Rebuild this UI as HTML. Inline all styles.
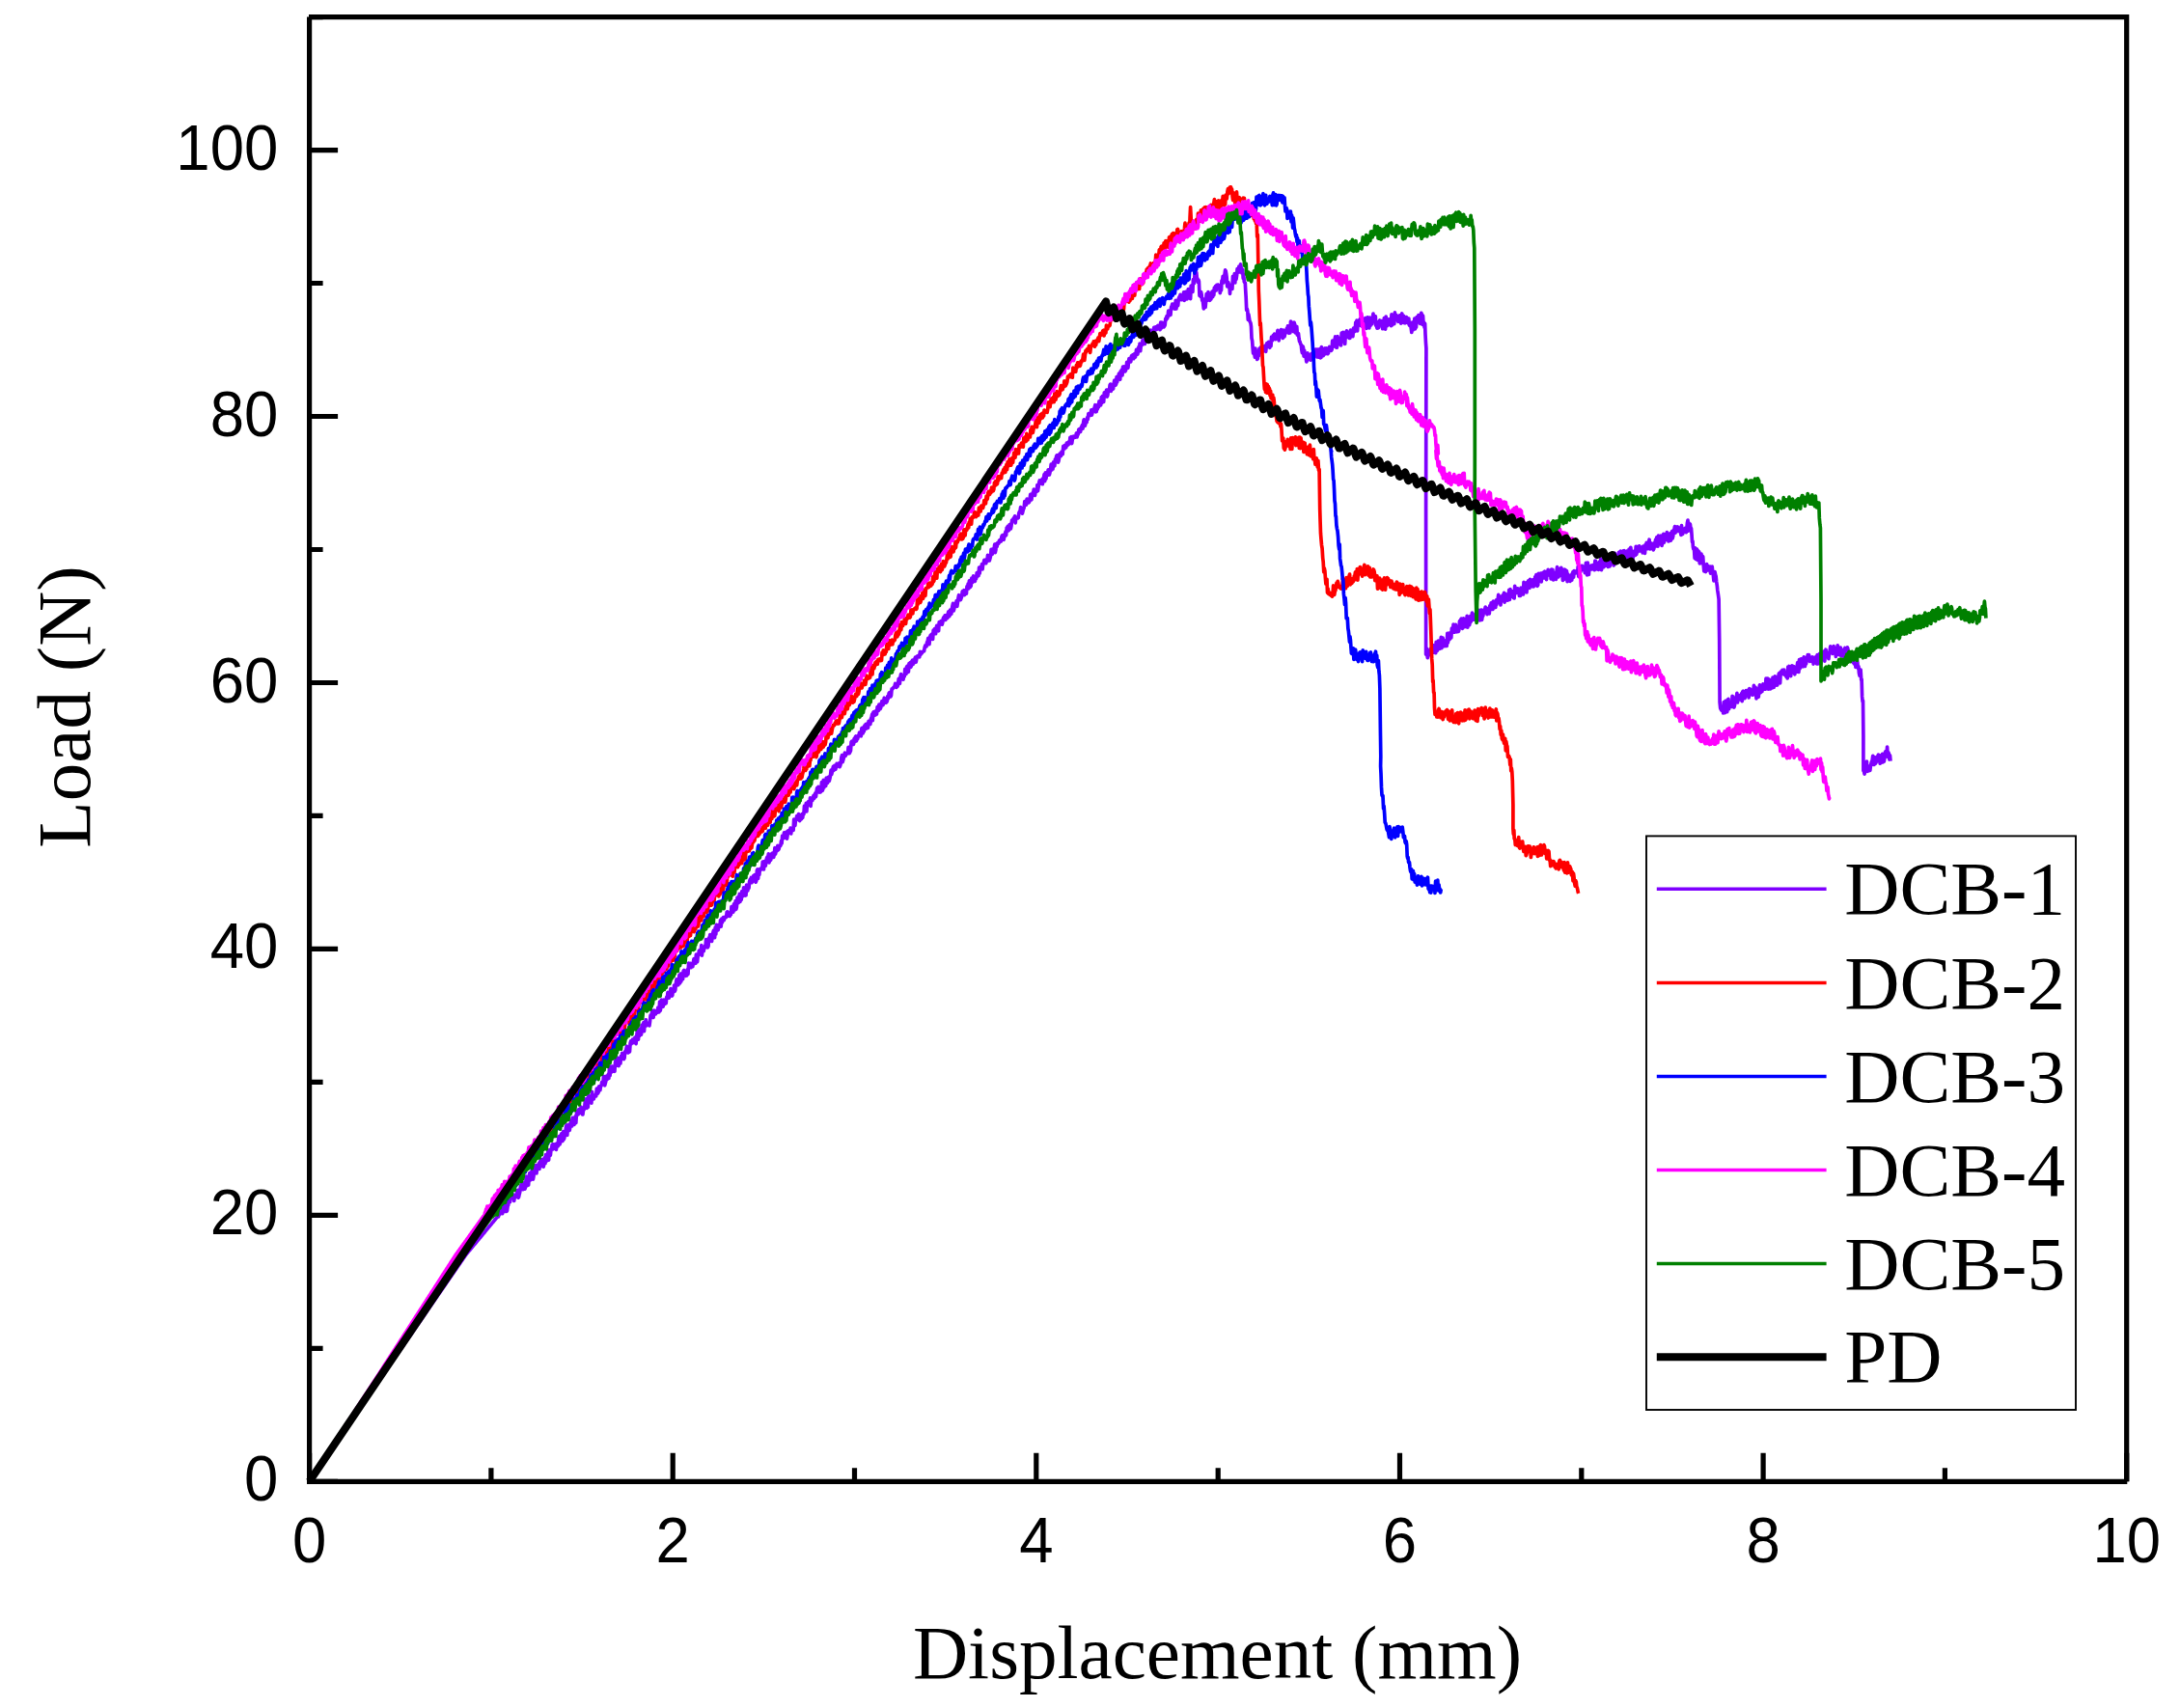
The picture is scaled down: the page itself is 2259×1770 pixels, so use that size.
<!DOCTYPE html>
<html lang="en">
<head>
<meta charset="utf-8">
<title>Load - Displacement curves (DCB-1 ... DCB-5, PD)</title>
<style>
html,body{margin:0;padding:0;background:#ffffff;}
body{width:2259px;height:1770px;overflow:hidden;}
svg{display:block;}
.tick{font-family:"Liberation Sans",sans-serif;font-size:63.5px;fill:#000;}
.serif{font-family:"Liberation Serif",serif;font-size:79.2px;fill:#000;}
.ax{stroke:#000;stroke-width:5.2;fill:none;stroke-linecap:butt;}
.tr{fill:none;stroke-width:3.7;stroke-linejoin:round;stroke-linecap:butt;}
</style>
</head>
<body>
<svg width="2259" height="1770" viewBox="0 0 2259 1770">
<rect x="0" y="0" width="2259" height="1770" fill="#ffffff"/>
<g id="traces">
<path class="tr" stroke="#7f00ff" d="M320.6 1535.3L321.2 1534.4L321.8 1533.6L322.4 1532.7L323.0 1531.8L323.6 1531.0L324.2 1530.1L324.8 1529.2L325.4 1528.4L326.0 1527.5L326.6 1526.6L327.2 1525.7L327.8 1524.9L328.4 1524.0L329.0 1523.1L329.6 1522.3L330.2 1521.4L330.8 1520.5L331.4 1519.7L332.0 1518.8L332.6 1517.9L333.2 1517.1L333.8 1516.2L334.4 1515.3L335.0 1514.5L335.6 1513.6L336.2 1512.7L336.8 1511.9L337.4 1511.0L338.0 1510.1L338.6 1509.3L339.2 1508.4L339.8 1507.5L340.4 1506.6L341.0 1505.8L341.6 1504.9L342.2 1504.0L342.8 1503.2L343.4 1502.3L344.0 1501.4L344.6 1500.6L345.2 1499.7L345.8 1498.8L346.4 1498.0L347.0 1497.1L347.6 1496.2L348.2 1495.4L348.8 1494.5L349.4 1493.6L350.0 1492.8L350.6 1491.9L351.2 1491.0L351.8 1490.2L352.4 1489.3L353.0 1488.4L353.6 1487.5L354.2 1486.7L354.8 1485.8L355.4 1484.9L356.0 1484.1L356.6 1483.2L357.2 1482.3L357.8 1481.5L358.4 1480.6L359.0 1479.7L359.6 1478.9L360.2 1478.0L360.8 1477.1L361.3 1476.3L361.9 1475.4L362.5 1474.5L363.1 1473.7L363.7 1472.8L364.3 1471.9L364.9 1471.0L365.5 1470.2L366.1 1469.3L366.7 1468.4L367.3 1467.6L367.9 1466.7L368.5 1465.8L369.1 1465.0L369.7 1464.1L370.3 1463.2L370.9 1462.4L371.5 1461.5L372.1 1460.6L372.7 1459.8L373.3 1458.9L373.9 1458.0L374.5 1457.2L375.1 1456.3L375.7 1455.4L376.3 1454.6L376.9 1453.7L377.5 1452.8L378.1 1451.9L378.7 1451.1L379.3 1450.2L379.9 1449.3L380.5 1448.5L381.1 1447.6L381.7 1446.7L382.3 1445.9L382.9 1445.0L383.5 1444.1L384.1 1443.3L384.7 1442.4L385.3 1441.5L385.9 1440.7L386.5 1439.8L387.1 1438.9L387.7 1438.1L388.3 1437.2L388.9 1436.3L389.5 1435.4L390.1 1434.6L390.7 1433.7L391.3 1432.8L391.9 1432.0L392.5 1431.1L393.1 1430.2L393.7 1429.4L394.3 1428.5L394.9 1427.6L395.5 1426.8L396.1 1425.9L396.7 1425.0L397.3 1424.2L397.9 1423.3L398.5 1422.4L399.1 1421.6L399.7 1420.7L400.3 1419.8L400.9 1419.0L401.5 1418.1L402.1 1417.2L402.7 1416.3L403.3 1415.5L403.9 1414.6L404.5 1413.7L405.1 1412.9L405.7 1412.0L406.3 1411.1L406.9 1410.3L407.5 1409.4L408.1 1408.5L408.7 1407.7L409.3 1406.8L409.9 1405.9L410.5 1405.1L411.1 1404.2L411.7 1403.3L412.3 1402.5L412.9 1401.6L413.5 1400.7L414.1 1399.9L414.7 1399.0L415.3 1398.1L415.9 1397.2L416.5 1396.4L417.1 1395.5L417.7 1394.6L418.3 1393.8L418.9 1392.9L419.5 1392.0L420.1 1391.2L420.7 1390.3L421.3 1389.4L421.9 1388.6L422.5 1387.7L423.1 1386.8L423.7 1386.0L424.3 1385.1L424.9 1384.2L425.5 1383.4L426.1 1382.5L426.7 1381.6L427.3 1380.7L427.9 1379.9L428.5 1379.0L429.1 1378.1L429.7 1377.3L430.3 1376.4L430.9 1375.5L431.5 1374.7L432.1 1373.8L432.7 1372.9L433.3 1372.1L433.9 1371.2L434.5 1370.3L435.1 1369.5L435.7 1368.6L436.3 1367.7L436.9 1366.9L437.5 1366.0L438.1 1365.1L438.7 1364.3L439.3 1363.4L439.9 1362.5L440.5 1361.6L441.1 1360.8L441.7 1359.9L442.3 1359.0L442.8 1358.2L443.4 1357.3L444.0 1356.4L444.6 1355.6L445.2 1354.7L445.8 1353.8L446.4 1353.0L447.0 1352.1L447.6 1351.2L448.2 1350.4L448.8 1349.5L449.4 1348.6L450.0 1347.8L450.6 1346.9L451.2 1346.0L451.8 1345.1L452.4 1344.3L453.0 1343.4L453.6 1342.5L454.2 1341.7L454.8 1340.8L455.4 1339.9L456.0 1339.1L456.6 1338.2L457.2 1337.3L457.8 1336.5L458.4 1335.6L459.0 1334.7L459.6 1333.9L460.2 1333.0L460.8 1332.1L461.4 1331.3L462.0 1330.4L462.6 1329.5L463.2 1328.7L463.8 1327.8L464.4 1326.9L465.0 1326.0L465.6 1325.2L466.2 1324.3L466.8 1323.4L467.4 1322.6L468.0 1321.7L468.6 1320.8L469.2 1320.0L469.8 1319.1L470.4 1318.2L471.0 1317.4L471.6 1316.5L472.2 1315.6L472.8 1314.8L473.4 1313.9L474.0 1313.0L474.6 1312.2L475.2 1311.3L475.8 1310.4L476.4 1309.6L477.0 1308.7L477.6 1307.8L478.2 1306.9L478.8 1306.1L479.4 1305.2L480.0 1304.3L480.6 1303.5L481.2 1302.6L481.8 1301.7L482.4 1300.9L483.0 1300.0L483.6 1299.3L484.2 1298.6L484.8 1297.8L485.4 1297.1L486.0 1296.4L486.6 1295.7L487.2 1295.0L487.8 1294.2L488.4 1293.5L489.0 1292.8L489.6 1292.1L490.2 1291.4L490.8 1290.6L491.4 1289.9L492.0 1289.2L492.6 1288.5L493.2 1287.8L493.8 1287.0L494.4 1286.3L495.0 1285.6L495.6 1284.9L496.2 1284.2L496.8 1283.4L497.4 1282.7L498.0 1282.0L498.6 1281.3L499.2 1280.6L499.8 1279.8L500.4 1279.1L501.0 1278.4L501.6 1277.7L502.2 1277.0L502.8 1276.2L503.3 1275.5L503.9 1274.8L504.5 1274.1L505.1 1273.4L505.7 1272.7L506.3 1271.9L506.9 1271.2L507.5 1270.5L508.1 1269.8L508.7 1269.1L509.3 1268.3L509.9 1267.6L510.5 1266.9L511.1 1266.2L511.7 1265.5L512.3 1264.7L512.9 1264.0L513.5 1263.3L514.1 1262.6L514.7 1261.9L515.3 1261.1L515.9 1260.5L516.5 1260.8L517.1 1258.9L517.7 1258.3L518.3 1258.0L518.9 1254.7L519.5 1256.2L520.1 1256.5L520.7 1257.6L521.3 1249.4L521.9 1250.9L522.5 1247.6L523.1 1255.5L523.7 1253.4L524.3 1244.8L524.9 1255.4L525.5 1254.5L526.1 1250.0L526.7 1248.8L527.3 1242.6L527.9 1240.2L528.5 1245.6L529.1 1239.3L529.7 1240.1L530.3 1240.0L530.9 1236.8L531.5 1241.3L532.1 1240.3L532.7 1244.4L533.3 1239.8L533.9 1240.5L534.5 1238.1L535.1 1239.3L535.7 1236.2L536.3 1233.3L536.9 1241.2L537.5 1240.5L538.1 1237.9L538.7 1235.6L539.3 1230.1L539.9 1228.4L540.5 1228.4L541.1 1225.0L541.7 1232.7L542.2 1227.6L542.8 1232.2L543.4 1225.9L544.0 1232.1L544.6 1230.0L545.2 1219.2L545.8 1220.9L546.4 1228.6L547.0 1222.6L547.6 1228.0L548.2 1220.3L548.8 1215.7L549.4 1221.7L550.0 1222.7L550.6 1215.9L551.2 1213.0L551.8 1215.2L552.4 1222.1L553.0 1218.9L553.6 1210.5L554.2 1211.3L554.8 1208.8L555.4 1207.6L556.0 1215.8L556.6 1207.6L557.2 1211.5L557.8 1209.4L558.4 1205.6L559.0 1211.4L559.6 1203.5L560.2 1208.9L560.8 1201.8L561.4 1204.8L562.0 1201.6L562.6 1201.4L563.2 1209.1L563.8 1206.2L564.4 1199.5L565.0 1205.6L565.6 1196.7L566.2 1198.1L566.8 1202.9L567.4 1199.5L568.0 1192.2L568.6 1202.1L569.2 1192.0L569.8 1191.7L570.4 1197.1L571.0 1191.0L571.6 1189.8L572.2 1186.3L572.8 1185.7L573.4 1190.8L574.0 1186.0L574.6 1189.5L575.2 1185.9L575.8 1186.1L576.4 1191.4L577.0 1184.9L577.6 1185.2L578.2 1187.9L578.8 1178.9L579.4 1177.7L580.0 1186.0L580.6 1184.1L581.2 1176.5L581.8 1175.0L582.4 1180.8L583.0 1182.4L583.6 1172.6L584.2 1180.9L584.8 1179.3L585.4 1175.1L586.0 1172.2L586.6 1167.5L587.2 1166.0L587.8 1176.3L588.4 1166.8L589.0 1171.6L589.6 1165.4L590.2 1171.4L590.8 1167.9L591.4 1163.4L592.0 1161.2L592.6 1167.0L593.2 1158.3L593.8 1159.5L594.4 1162.6L595.0 1165.4L595.6 1161.7L596.2 1156.9L596.8 1163.7L597.4 1154.4L598.0 1151.3L598.6 1153.6L599.2 1154.9L599.8 1149.5L600.4 1150.1L600.9 1151.6L601.5 1153.2L602.1 1147.1L602.7 1149.1L603.3 1154.7L603.9 1154.9L604.5 1150.2L605.1 1149.9L605.7 1147.8L606.3 1141.7L606.9 1139.6L607.5 1138.6L608.1 1148.5L608.7 1145.2L609.3 1147.5L609.9 1135.4L610.5 1142.0L611.1 1139.4L611.7 1141.6L612.3 1135.8L612.9 1143.2L613.5 1131.3L614.1 1136.2L614.7 1137.6L615.3 1138.8L615.9 1136.1L616.5 1134.9L617.1 1135.1L617.7 1135.8L618.3 1128.2L618.9 1131.4L619.5 1133.2L620.1 1132.1L620.7 1125.8L621.3 1129.5L621.9 1129.6L622.5 1125.3L623.1 1125.1L623.7 1121.4L624.3 1123.0L624.9 1122.6L625.5 1115.4L626.1 1121.3L626.7 1124.8L627.3 1122.6L627.9 1120.0L628.5 1115.1L629.1 1118.5L629.7 1115.8L630.3 1113.4L630.9 1117.3L631.5 1107.5L632.1 1114.7L632.7 1105.2L633.3 1111.3L633.9 1109.1L634.5 1105.2L635.1 1110.1L635.7 1106.9L636.3 1107.5L636.9 1110.3L637.5 1101.6L638.1 1097.8L638.7 1100.5L639.3 1104.2L639.9 1097.7L640.5 1096.5L641.1 1104.6L641.7 1100.8L642.3 1097.4L642.9 1102.0L643.5 1094.4L644.1 1097.7L644.7 1091.3L645.3 1093.3L645.9 1097.0L646.5 1097.5L647.1 1096.3L647.7 1089.5L648.3 1091.1L648.9 1087.1L649.5 1084.2L650.1 1087.7L650.7 1091.0L651.3 1090.3L651.9 1087.9L652.5 1090.0L653.1 1081.1L653.7 1079.0L654.3 1081.6L654.9 1078.7L655.5 1077.1L656.1 1078.7L656.7 1080.5L657.3 1078.1L657.9 1075.2L658.5 1080.6L659.1 1081.6L659.7 1074.4L660.3 1069.1L660.9 1067.8L661.5 1077.1L662.1 1066.3L662.7 1073.5L663.3 1071.0L663.9 1067.1L664.5 1072.1L665.1 1062.0L665.7 1062.6L666.3 1065.7L666.9 1059.7L667.5 1068.6L668.1 1060.7L668.7 1058.7L669.3 1056.8L669.9 1063.0L670.5 1060.0L671.1 1061.4L671.7 1060.9L672.3 1061.9L672.9 1062.9L673.5 1058.8L674.1 1052.2L674.7 1054.7L675.3 1050.4L675.9 1047.6L676.5 1052.3L677.1 1054.4L677.6 1047.2L678.2 1047.5L678.8 1047.6L679.4 1051.0L680.0 1048.1L680.6 1048.4L681.2 1049.3L681.8 1044.2L682.4 1048.2L683.0 1048.7L683.6 1038.1L684.2 1047.5L684.8 1044.1L685.4 1036.2L686.0 1039.3L686.6 1040.6L687.2 1043.2L687.8 1036.0L688.4 1037.5L689.0 1040.4L689.6 1038.7L690.2 1039.6L690.8 1033.1L691.4 1034.5L692.0 1028.4L692.6 1033.8L693.2 1034.1L693.8 1031.2L694.4 1031.3L695.0 1024.5L695.6 1031.9L696.2 1032.1L696.8 1031.3L697.4 1025.2L698.0 1027.4L698.6 1021.0L699.2 1027.3L699.8 1025.8L700.4 1018.9L701.0 1014.9L701.6 1018.4L702.2 1018.9L702.8 1020.8L703.4 1016.6L704.0 1010.3L704.6 1018.9L705.2 1009.1L705.8 1017.2L706.4 1008.8L707.0 1010.0L707.6 1014.6L708.2 1006.1L708.8 1005.4L709.4 1009.0L710.0 1010.7L710.6 1011.3L711.2 1008.7L711.8 1010.9L712.4 1004.7L713.0 1009.4L713.6 998.2L714.2 999.0L714.8 1001.9L715.4 998.3L716.0 1002.7L716.6 1000.8L717.2 998.6L717.8 1001.7L718.4 997.4L719.0 993.7L719.6 993.7L720.2 998.4L720.8 998.3L721.4 989.1L722.0 996.0L722.6 996.6L723.2 990.5L723.8 990.2L724.4 985.0L725.0 988.2L725.6 987.0L726.2 987.4L726.8 979.6L727.4 990.1L728.0 983.8L728.6 981.6L729.2 985.6L729.8 981.9L730.4 980.3L731.0 981.8L731.6 973.5L732.2 978.4L732.8 976.1L733.4 981.8L734.0 980.5L734.6 971.9L735.2 973.5L735.8 968.5L736.4 971.4L737.0 975.2L737.6 975.4L738.2 969.5L738.8 966.7L739.4 964.4L740.0 968.7L740.6 971.6L741.2 961.2L741.8 968.2L742.4 958.3L743.0 959.5L743.6 959.1L744.2 963.8L744.8 958.6L745.4 958.2L746.0 960.5L746.6 953.5L747.2 960.2L747.8 952.1L748.4 956.0L749.0 952.0L749.6 950.6L750.2 953.7L750.8 951.8L751.4 950.3L752.0 949.9L752.6 950.5L753.2 945.2L753.8 944.9L754.4 949.2L755.0 948.5L755.6 946.4L756.2 949.4L756.8 945.7L757.4 947.8L758.0 939.5L758.6 944.8L759.2 944.8L759.8 945.1L760.4 937.3L761.0 936.4L761.6 942.9L762.2 933.6L762.8 942.2L763.4 940.0L764.0 930.2L764.6 930.6L765.2 935.6L765.8 929.3L766.4 926.5L767.0 934.4L767.6 928.7L768.2 932.3L768.8 923.6L769.4 926.1L770.0 928.6L770.6 919.9L771.2 921.2L771.8 926.1L772.4 928.0L773.0 927.8L773.6 917.0L774.2 920.7L774.8 922.9L775.4 919.1L776.0 920.4L776.6 913.8L777.2 911.6L777.8 911.2L778.4 909.5L779.0 914.7L779.6 913.5L780.2 913.3L780.8 907.6L781.4 907.2L782.0 906.6L782.6 913.2L783.2 914.1L783.8 912.5L784.4 902.1L785.0 900.9L785.6 910.3L786.2 903.9L786.8 906.5L787.4 900.7L788.0 901.5L788.5 901.2L789.1 899.4L789.7 900.6L790.3 893.0L790.9 900.1L791.5 900.9L792.1 892.5L792.7 894.8L793.3 897.2L793.9 892.6L794.5 889.4L795.1 888.2L795.7 891.4L796.3 884.9L796.9 894.0L797.5 892.2L798.1 890.3L798.7 891.2L799.3 887.8L799.9 884.4L800.5 885.8L801.1 883.9L801.7 888.5L802.3 885.6L802.9 878.7L803.5 885.2L804.1 882.5L804.7 882.1L805.3 881.6L805.9 876.3L806.5 880.9L807.1 879.9L807.7 877.0L808.3 877.0L808.9 876.2L809.5 871.4L810.1 874.1L810.7 866.0L811.3 868.2L811.9 868.8L812.5 862.9L813.1 865.9L813.7 868.2L814.3 867.2L814.9 862.1L815.5 869.1L816.1 865.2L816.7 860.8L817.3 863.5L817.9 861.7L818.5 860.5L819.1 858.1L819.7 863.9L820.3 859.2L820.9 859.1L821.5 858.9L822.1 860.4L822.7 849.2L823.3 854.8L823.9 855.4L824.5 849.3L825.1 850.1L825.7 845.5L826.3 846.2L826.9 847.3L827.5 843.6L828.1 844.4L828.7 850.6L829.3 845.9L829.9 844.7L830.5 848.8L831.1 843.7L831.7 847.4L832.3 842.8L832.9 843.8L833.5 835.2L834.1 839.9L834.7 840.8L835.3 832.4L835.9 841.0L836.5 832.0L837.1 834.5L837.7 830.5L838.3 833.1L838.9 833.5L839.5 826.9L840.1 835.4L840.7 829.0L841.3 829.3L841.9 829.3L842.5 826.0L843.1 824.4L843.7 827.4L844.3 825.6L844.9 821.9L845.5 825.6L846.1 820.4L846.7 816.6L847.3 818.2L847.9 815.3L848.5 815.7L849.1 821.1L849.7 816.5L850.3 820.9L850.9 818.5L851.5 810.5L852.1 819.4L852.7 818.1L853.3 808.3L853.9 816.0L854.5 810.3L855.1 810.0L855.7 814.3L856.3 806.0L856.9 808.0L857.5 811.4L858.1 808.4L858.7 805.0L859.3 809.4L859.9 806.9L860.5 803.9L861.1 798.2L861.7 802.5L862.3 800.0L862.9 796.6L863.5 794.3L864.1 798.3L864.7 793.4L865.3 795.8L865.9 797.2L866.5 794.3L867.1 791.5L867.7 793.9L868.3 791.4L868.9 794.2L869.5 790.9L870.1 794.7L870.7 793.5L871.3 790.5L871.9 784.7L872.5 782.7L873.1 789.6L873.7 787.7L874.3 785.3L874.9 781.9L875.5 780.2L876.1 783.4L876.7 781.4L877.3 780.9L877.9 780.5L878.5 780.8L879.1 774.5L879.7 774.3L880.3 780.6L880.9 779.1L881.5 777.9L882.1 769.0L882.7 768.3L883.3 769.6L883.9 770.3L884.5 771.4L885.1 765.5L885.7 768.9L886.3 763.6L886.9 762.9L887.5 767.8L888.1 765.7L888.7 765.7L889.3 762.4L889.9 762.6L890.5 759.2L891.1 759.7L891.7 762.7L892.3 762.8L892.9 754.7L893.5 754.3L894.1 760.0L894.7 757.4L895.3 758.0L895.9 751.9L896.5 753.1L897.1 750.7L897.7 755.1L898.3 750.1L898.9 752.0L899.5 754.3L900.1 747.3L900.7 748.5L901.3 749.6L901.9 750.4L902.5 744.9L903.1 743.6L903.7 740.2L904.3 746.7L904.9 738.4L905.5 737.6L906.1 741.3L906.7 739.8L907.3 740.8L907.9 736.4L908.5 740.0L909.1 732.6L909.7 733.1L910.3 736.5L910.9 730.2L911.5 731.5L912.1 734.7L912.7 733.5L913.3 728.9L913.9 726.7L914.5 727.9L915.1 730.6L915.7 726.4L916.3 723.2L916.9 728.0L917.5 725.8L918.1 728.3L918.7 727.7L919.3 726.6L919.9 721.3L920.5 723.9L921.1 718.4L921.7 717.7L922.3 717.7L922.9 721.9L923.5 720.7L924.1 713.8L924.7 714.1L925.3 713.3L925.9 712.4L926.5 711.9L927.1 711.0L927.7 708.4L928.3 711.1L928.9 712.4L929.5 709.2L930.1 711.2L930.7 707.8L931.3 703.3L931.8 708.0L932.4 708.3L933.0 701.9L933.6 698.6L934.2 702.4L934.8 701.9L935.4 701.3L936.0 704.2L936.6 700.4L937.2 701.0L937.8 693.3L938.4 697.0L939.0 698.4L939.6 691.0L940.2 690.2L940.8 695.5L941.4 696.2L942.0 687.7L942.6 692.1L943.2 686.7L943.8 691.5L944.4 689.8L945.0 685.2L945.6 684.1L946.2 688.4L946.8 685.3L947.4 686.8L948.0 682.5L948.6 681.1L949.2 686.2L949.8 682.6L950.4 680.1L951.0 679.7L951.6 680.6L952.2 679.7L952.8 680.8L953.4 675.3L954.0 678.4L954.6 676.0L955.2 677.0L955.8 675.7L956.4 675.2L957.0 674.9L957.6 674.7L958.2 670.9L958.8 669.0L959.4 669.9L960.0 669.9L960.6 665.6L961.2 664.7L961.8 661.3L962.4 666.1L963.0 667.6L963.6 661.0L964.2 658.3L964.8 657.8L965.4 659.0L966.0 657.0L966.6 662.5L967.2 653.1L967.8 654.7L968.4 652.0L969.0 656.2L969.6 656.6L970.2 650.2L970.8 648.3L971.4 651.2L972.0 651.5L972.6 653.8L973.2 644.8L973.8 644.6L974.4 644.5L975.0 644.0L975.6 643.4L976.2 647.1L976.8 645.1L977.4 640.8L978.0 639.6L978.6 639.7L979.2 637.9L979.8 642.5L980.4 637.5L981.0 638.9L981.6 640.6L982.2 636.7L982.8 633.8L983.4 638.9L984.0 638.3L984.6 632.1L985.2 633.2L985.8 636.2L986.4 631.0L987.0 627.7L987.6 625.3L988.2 632.9L988.8 630.7L989.4 625.9L990.0 626.5L990.6 625.5L991.2 622.5L991.8 628.4L992.4 624.4L993.0 619.7L993.6 616.7L994.2 620.2L994.8 618.5L995.4 621.6L996.0 620.0L996.6 618.2L997.2 613.2L997.8 612.4L998.4 613.1L999.0 611.7L999.6 616.6L1000.2 612.5L1000.8 612.8L1001.4 615.3L1002.0 607.7L1002.6 609.4L1003.2 604.9L1003.8 609.9L1004.4 601.9L1005.0 608.7L1005.6 608.1L1006.2 607.0L1006.8 599.2L1007.4 600.1L1008.0 603.4L1008.6 596.8L1009.2 599.5L1009.8 598.5L1010.4 602.3L1011.0 597.9L1011.6 599.6L1012.2 593.6L1012.8 597.3L1013.4 592.9L1014.0 596.7L1014.6 588.1L1015.2 594.2L1015.7 587.5L1016.3 589.8L1016.9 588.8L1017.5 584.5L1018.1 589.9L1018.7 584.2L1019.3 583.3L1019.9 580.3L1020.5 581.6L1021.1 582.2L1021.7 583.7L1022.3 579.5L1022.9 581.7L1023.5 575.4L1024.1 577.3L1024.7 577.0L1025.3 580.9L1025.9 578.8L1026.5 576.3L1027.1 569.4L1027.7 571.9L1028.3 574.2L1028.9 568.9L1029.5 571.1L1030.1 569.3L1030.7 564.2L1031.3 572.6L1031.9 569.9L1032.5 563.5L1033.1 566.5L1033.7 562.6L1034.3 562.5L1034.9 563.2L1035.5 560.1L1036.1 559.6L1036.7 559.2L1037.3 561.0L1037.9 556.2L1038.5 554.9L1039.0 559.0L1039.6 554.4L1040.2 559.3L1040.8 554.8L1041.4 555.5L1042.0 550.9L1042.6 554.7L1043.2 547.0L1043.8 546.6L1044.4 545.3L1045.0 549.9L1045.6 549.3L1046.2 543.5L1046.8 544.7L1047.4 548.0L1048.0 544.8L1048.6 539.2L1049.2 539.7L1049.8 538.2L1050.4 537.0L1051.0 538.8L1051.6 534.8L1052.2 541.9L1052.8 536.4L1053.4 536.3L1054.0 536.8L1054.6 537.0L1055.2 536.7L1055.8 531.7L1056.4 530.4L1057.0 530.3L1057.6 525.7L1058.2 528.4L1058.8 530.4L1059.4 532.2L1060.0 529.5L1060.6 527.5L1061.2 526.1L1061.8 519.7L1062.3 521.8L1062.9 521.0L1063.5 523.1L1064.1 517.1L1064.7 518.8L1065.3 519.2L1065.9 520.9L1066.5 520.4L1067.1 517.6L1067.7 512.4L1068.3 517.3L1068.9 517.7L1069.5 513.5L1070.1 510.8L1070.7 511.4L1071.3 507.1L1071.9 511.7L1072.5 513.4L1073.1 508.1L1073.7 509.1L1074.3 509.4L1074.9 502.5L1075.5 508.7L1076.1 504.8L1076.7 500.0L1077.3 498.0L1077.9 498.7L1078.5 500.9L1079.1 501.2L1079.7 496.9L1080.3 501.7L1080.9 495.5L1081.5 495.6L1082.1 491.5L1082.7 498.7L1083.3 489.9L1083.9 496.3L1084.5 492.1L1085.1 491.4L1085.6 490.5L1086.2 486.9L1086.8 492.1L1087.4 492.0L1088.0 489.5L1088.6 486.6L1089.2 481.2L1089.8 487.0L1090.4 481.1L1091.0 486.0L1091.6 478.9L1092.2 481.2L1092.8 482.8L1093.4 475.8L1094.0 478.4L1094.6 473.1L1095.2 471.8L1095.8 472.4L1096.4 479.1L1097.0 477.8L1097.6 474.3L1098.2 470.1L1098.8 472.7L1099.4 472.5L1100.0 468.2L1100.6 469.4L1101.2 470.6L1101.8 462.4L1102.4 463.3L1103.0 465.1L1103.6 461.3L1104.1 462.8L1104.7 463.7L1105.3 459.2L1105.9 461.7L1106.5 458.5L1107.1 460.6L1107.7 457.6L1108.3 459.7L1108.9 453.3L1109.5 458.5L1110.1 452.7L1110.7 459.6L1111.3 455.5L1111.9 453.5L1112.5 452.1L1113.1 453.4L1113.7 453.2L1114.2 453.1L1114.8 452.2L1115.4 448.9L1116.0 453.0L1116.6 450.7L1117.2 450.1L1117.8 445.1L1118.4 444.6L1119.0 445.0L1119.6 447.5L1120.2 443.1L1120.8 442.3L1121.4 440.7L1122.0 444.3L1122.6 438.1L1123.2 434.8L1123.8 440.3L1124.3 441.2L1124.9 438.8L1125.5 436.8L1126.1 437.5L1126.7 432.5L1127.3 434.5L1127.9 428.8L1128.5 428.6L1129.0 430.8L1129.6 430.6L1130.2 428.8L1130.8 424.8L1131.4 430.1L1132.0 427.8L1132.6 424.3L1133.1 424.2L1133.7 424.3L1134.3 422.0L1134.9 419.7L1135.5 426.8L1136.1 426.6L1136.7 423.0L1137.2 424.1L1137.8 419.2L1138.4 422.0L1139.0 415.8L1139.6 419.9L1140.2 417.5L1140.7 419.9L1141.3 411.6L1141.9 417.3L1142.5 410.3L1143.1 413.4L1143.7 416.5L1144.3 406.8L1144.8 408.2L1145.4 407.9L1146.0 407.4L1146.6 404.1L1147.2 411.1L1147.8 409.5L1148.4 404.8L1148.9 403.6L1149.5 404.9L1150.1 399.0L1150.7 398.1L1151.3 405.4L1151.9 399.0L1152.5 400.0L1153.0 403.3L1153.6 402.8L1154.2 397.3L1154.8 394.0L1155.4 394.0L1156.0 399.1L1156.6 398.0L1157.1 390.6L1157.7 395.8L1158.3 390.4L1158.9 390.7L1159.5 387.1L1160.1 392.9L1160.7 393.2L1161.2 384.9L1161.8 388.1L1162.4 383.2L1163.0 388.8L1163.6 380.2L1164.2 379.9L1164.8 384.9L1165.3 380.2L1165.9 384.9L1166.5 383.8L1167.1 381.5L1167.7 375.3L1168.3 379.7L1168.9 381.2L1169.4 375.7L1170.0 371.5L1170.6 372.0L1171.2 372.0L1171.8 374.9L1172.4 369.3L1173.0 368.3L1173.5 368.0L1174.1 371.2L1174.7 371.6L1175.3 366.8L1175.9 368.7L1176.5 370.0L1177.0 366.4L1177.6 362.2L1178.2 362.1L1178.8 367.1L1179.4 363.9L1180.0 359.4L1180.6 362.0L1181.1 356.0L1181.7 363.7L1182.3 357.9L1182.9 358.0L1183.5 357.3L1184.1 352.0L1184.7 356.6L1185.2 352.9L1185.8 351.9L1186.4 356.4L1187.0 348.9L1187.6 350.1L1188.2 353.8L1188.8 348.3L1189.3 347.9L1189.9 349.7L1190.5 345.6L1191.1 351.6L1191.7 351.8L1192.3 342.1L1192.9 345.4L1193.4 347.4L1194.0 343.3L1194.6 347.7L1195.2 343.0L1195.8 339.3L1196.4 342.1L1197.0 342.2L1197.5 338.8L1198.1 340.9L1198.7 341.4L1199.3 338.2L1199.9 337.4L1200.4 340.6L1201.0 339.1L1201.6 337.5L1202.1 341.7L1202.7 334.2L1203.3 340.1L1203.8 334.1L1204.4 338.4L1204.9 334.7L1205.5 336.8L1206.1 338.9L1206.7 337.9L1207.2 336.8L1207.8 330.1L1208.4 331.5L1209.0 327.6L1209.5 330.1L1210.1 328.1L1210.7 322.1L1211.3 326.8L1211.8 326.9L1212.4 324.3L1213.0 326.3L1213.6 318.3L1214.2 317.2L1214.8 315.1L1215.4 319.6L1216.0 318.2L1216.5 317.6L1217.1 314.9L1217.7 320.2L1218.3 311.4L1218.9 320.0L1219.5 315.5L1220.1 314.6L1220.7 316.7L1221.3 309.7L1221.9 308.0L1222.5 309.1L1223.1 305.3L1223.6 307.8L1224.2 310.7L1224.8 309.2L1225.4 305.8L1226.0 309.2L1226.6 302.9L1227.2 311.3L1227.8 303.2L1228.3 303.8L1228.9 302.3L1229.5 308.4L1230.1 309.8L1230.7 308.9L1231.3 299.6L1231.9 303.6L1232.4 302.6L1233.0 300.4L1233.6 309.6L1234.2 296.0L1234.7 299.8L1235.3 301.3L1235.9 302.4L1236.4 289.7L1237.0 291.8L1237.5 293.7L1238.1 282.6L1238.7 283.4L1239.2 290.0L1239.8 282.3L1240.3 287.8L1240.8 288.7L1241.4 292.5L1241.9 290.0L1242.4 291.6L1243.0 306.4L1243.5 305.5L1244.0 307.3L1244.6 302.7L1245.1 305.2L1245.7 311.3L1246.2 309.3L1246.7 314.4L1247.3 319.9L1247.9 311.7L1248.5 310.6L1249.1 318.4L1249.6 312.8L1250.2 304.6L1250.8 308.7L1251.4 311.2L1252.0 302.7L1252.6 305.8L1253.2 309.7L1253.7 311.3L1254.3 306.9L1254.9 310.1L1255.5 303.8L1256.1 302.2L1256.7 307.7L1257.3 301.1L1257.8 305.9L1258.4 298.0L1259.0 299.3L1259.6 296.6L1260.2 301.0L1260.8 295.4L1261.4 295.5L1261.9 295.2L1262.5 298.1L1263.1 295.5L1263.7 296.8L1264.3 303.6L1264.9 299.0L1265.5 300.9L1266.0 290.8L1266.6 291.8L1267.2 286.3L1267.8 293.0L1268.4 287.3L1269.0 284.7L1269.6 279.9L1270.1 280.7L1270.7 283.9L1271.2 287.8L1271.7 296.9L1272.3 296.3L1272.8 292.5L1273.4 295.9L1273.9 295.3L1274.5 304.5L1275.1 295.6L1275.7 299.8L1276.3 298.1L1276.9 299.3L1277.5 286.4L1278.1 289.2L1278.7 288.8L1279.3 283.7L1279.8 293.0L1280.4 284.5L1281.0 289.6L1281.6 285.5L1282.1 278.6L1282.7 282.4L1283.3 279.6L1283.8 276.2L1284.4 276.9L1284.9 282.0L1285.5 273.8L1286.1 276.8L1286.6 279.9L1287.1 283.1L1287.7 279.3L1288.2 288.4L1288.7 284.1L1289.3 291.9L1289.8 292.7L1290.3 292.9L1290.7 300.7L1291.2 308.7L1291.7 321.4L1292.2 320.0L1292.8 322.5L1293.3 331.5L1293.8 325.7L1294.4 329.3L1294.9 332.6L1295.4 333.6L1296.0 335.0L1296.5 338.6L1297.0 350.3L1297.6 353.2L1298.1 360.2L1298.6 366.1L1299.2 360.9L1299.8 366.3L1300.4 370.1L1300.9 361.2L1301.5 368.0L1302.1 368.1L1302.7 372.4L1303.3 371.7L1303.9 363.8L1304.4 368.7L1305.0 361.2L1305.6 365.3L1306.1 364.4L1306.7 359.7L1307.2 363.5L1307.8 362.4L1308.4 364.3L1308.9 361.1L1309.5 359.1L1310.0 361.9L1310.6 362.5L1311.2 358.1L1311.7 364.3L1312.3 358.3L1312.9 355.6L1313.5 358.2L1314.1 358.6L1314.6 354.3L1315.2 359.3L1315.8 360.2L1316.4 357.5L1317.0 358.7L1317.6 349.1L1318.1 353.2L1318.7 352.2L1319.3 347.5L1319.9 351.3L1320.5 346.0L1321.1 351.1L1321.7 351.6L1322.2 349.6L1322.8 347.2L1323.4 345.8L1324.0 342.3L1324.6 346.1L1325.2 352.8L1325.8 348.1L1326.3 343.6L1326.9 348.5L1327.5 341.6L1328.1 344.9L1328.7 346.4L1329.3 350.4L1329.9 342.1L1330.4 344.4L1331.0 348.8L1331.6 346.2L1332.2 344.0L1332.8 343.5L1333.4 340.4L1334.0 340.1L1334.5 337.9L1335.1 344.9L1335.7 345.2L1336.3 338.3L1336.9 344.9L1337.5 333.0L1338.1 334.0L1338.6 338.5L1339.2 335.5L1339.8 335.9L1340.4 343.6L1341.0 334.0L1341.5 335.9L1342.1 337.7L1342.6 345.0L1343.2 340.4L1343.8 338.6L1344.3 347.1L1344.9 346.4L1345.5 345.7L1346.0 350.4L1346.6 353.9L1347.1 354.1L1347.7 356.6L1348.3 357.3L1348.8 362.3L1349.4 365.6L1350.0 358.8L1350.5 360.4L1351.1 369.1L1351.6 363.0L1352.2 369.1L1352.7 369.6L1353.2 370.3L1353.8 374.8L1354.3 373.8L1354.9 365.8L1355.4 372.7L1356.0 370.7L1356.6 371.5L1357.1 368.7L1357.7 367.3L1358.3 373.2L1358.9 370.1L1359.5 366.0L1360.1 365.9L1360.7 366.7L1361.2 364.5L1361.8 368.7L1362.4 363.3L1363.0 362.3L1363.6 362.1L1364.2 362.3L1364.8 370.0L1365.3 362.0L1365.9 366.2L1366.5 370.2L1367.1 366.1L1367.7 361.7L1368.3 370.8L1368.9 370.6L1369.4 359.6L1370.0 362.0L1370.6 365.1L1371.2 368.7L1371.8 363.1L1372.4 367.1L1373.0 360.8L1373.5 366.7L1374.1 361.3L1374.7 360.9L1375.3 366.0L1375.9 366.6L1376.5 365.9L1377.1 361.9L1377.7 359.5L1378.3 362.7L1378.9 361.1L1379.5 363.4L1380.1 362.4L1380.7 353.0L1381.3 355.8L1381.9 359.2L1382.5 352.9L1383.1 351.8L1383.7 349.0L1384.3 356.0L1384.9 360.2L1385.4 360.1L1386.0 348.5L1386.6 355.3L1387.2 351.3L1387.8 353.8L1388.4 350.5L1389.0 357.4L1389.6 357.9L1390.2 345.2L1390.7 353.8L1391.3 345.7L1391.9 344.4L1392.5 347.4L1393.1 353.1L1393.7 356.3L1394.3 344.5L1394.8 347.1L1395.4 342.8L1396.0 349.4L1396.6 348.4L1397.2 346.2L1397.8 344.7L1398.4 350.5L1398.9 350.3L1399.5 342.2L1400.1 342.9L1400.7 345.2L1401.3 346.5L1401.9 348.6L1402.5 340.1L1403.0 343.4L1403.6 340.8L1404.2 343.4L1404.8 334.1L1405.4 333.8L1406.0 332.2L1406.6 343.0L1407.1 333.8L1407.7 336.8L1408.3 331.9L1408.9 334.4L1409.5 330.3L1410.1 337.4L1410.7 331.7L1411.2 338.0L1411.8 333.2L1412.4 332.5L1413.0 335.7L1413.6 334.1L1414.2 332.5L1414.8 329.7L1415.3 329.7L1415.9 340.3L1416.5 332.3L1417.1 328.9L1417.7 329.9L1418.3 333.5L1418.9 339.9L1419.4 329.1L1420.0 337.5L1420.6 332.1L1421.2 330.8L1421.8 335.7L1422.4 329.9L1423.0 325.1L1423.5 331.2L1424.1 332.3L1424.7 331.5L1425.3 327.9L1425.8 337.5L1426.4 337.5L1427.0 340.1L1427.5 333.8L1428.1 339.9L1428.6 339.4L1429.2 333.1L1429.8 332.0L1430.3 334.9L1430.9 333.7L1431.5 332.7L1432.1 336.0L1432.7 340.7L1433.3 334.4L1433.8 336.6L1434.4 329.5L1435.0 331.7L1435.6 341.1L1436.2 328.1L1436.8 334.4L1437.4 337.7L1437.9 337.0L1438.5 335.8L1439.1 330.9L1439.7 335.7L1440.3 335.9L1440.8 335.0L1441.4 337.7L1442.0 325.8L1442.6 336.9L1443.1 329.5L1443.7 333.3L1444.3 327.2L1444.8 335.7L1445.4 323.9L1446.0 331.0L1446.6 326.3L1447.1 328.2L1447.7 327.8L1448.3 331.5L1448.9 333.3L1449.4 327.3L1450.0 330.7L1450.6 327.3L1451.1 326.6L1451.7 335.1L1452.2 327.7L1452.8 325.0L1453.4 328.4L1453.9 334.1L1454.5 327.4L1455.1 334.7L1455.6 332.3L1456.2 334.8L1456.8 328.8L1457.4 328.6L1458.0 329.7L1458.6 333.2L1459.2 334.9L1459.8 330.0L1460.4 337.2L1461.0 336.6L1461.6 336.2L1462.2 339.7L1462.8 344.5L1463.4 334.0L1464.0 342.2L1464.6 334.1L1465.2 339.2L1465.8 330.0L1466.4 340.9L1466.9 332.9L1467.5 339.2L1468.1 328.7L1468.7 330.5L1469.3 334.0L1469.9 326.5L1470.5 327.3L1471.1 332.2L1471.7 335.3L1472.2 326.6L1472.8 324.3L1473.4 326.1L1474.0 336.3L1474.5 327.1L1475.0 335.4L1475.5 333.9L1476.1 339.3L1476.6 335.4L1477.0 346.4L1477.5 355.6L1477.9 360.8L1477.6 527.9L1477.6 678.0L1478.2 678.6L1478.8 672.4L1479.3 681.7L1479.9 679.5L1480.4 676.1L1481.0 678.6L1481.6 675.1L1482.1 674.4L1482.7 672.2L1483.3 676.8L1483.8 676.2L1484.4 675.2L1484.9 668.5L1485.5 676.1L1486.1 673.5L1486.6 674.4L1487.1 673.3L1487.7 676.7L1488.2 665.3L1488.7 668.4L1489.3 674.3L1489.8 669.9L1490.4 664.0L1491.0 669.4L1491.6 672.5L1492.2 664.5L1492.7 670.4L1493.3 660.4L1493.9 671.6L1494.5 664.7L1495.1 661.1L1495.7 668.9L1496.3 666.1L1496.8 669.7L1497.4 668.0L1498.0 667.4L1498.6 663.4L1499.2 669.5L1499.8 656.4L1500.3 666.1L1500.9 663.2L1501.5 656.2L1502.1 662.7L1502.6 657.2L1503.2 657.4L1503.8 660.9L1504.4 651.2L1504.9 651.4L1505.5 655.4L1506.1 647.0L1506.7 652.5L1507.3 655.2L1507.8 650.9L1508.4 647.3L1509.0 654.3L1509.6 654.7L1510.2 653.2L1510.8 649.9L1511.4 654.3L1511.9 652.5L1512.5 643.6L1513.1 646.1L1513.7 642.2L1514.3 641.1L1514.9 644.8L1515.5 651.3L1516.0 650.5L1516.6 640.8L1517.2 641.3L1517.8 643.8L1518.4 649.5L1519.0 646.2L1519.6 649.6L1520.2 638.4L1520.8 650.2L1521.4 639.6L1522.0 644.9L1522.6 647.8L1523.1 645.6L1523.7 638.3L1524.3 644.2L1524.9 640.8L1525.5 635.0L1526.1 639.0L1526.7 638.3L1527.3 642.2L1527.9 637.2L1528.5 641.2L1529.1 642.0L1529.7 634.9L1530.3 633.9L1530.9 641.0L1531.5 637.7L1532.1 632.9L1532.6 632.4L1533.2 642.9L1533.8 638.2L1534.4 634.5L1535.0 632.1L1535.6 642.3L1536.2 637.9L1536.8 638.2L1537.4 632.9L1538.0 631.9L1538.6 632.8L1539.2 629.0L1539.8 635.1L1540.4 632.0L1541.0 636.6L1541.6 630.6L1542.2 630.7L1542.7 630.7L1543.3 635.9L1543.9 627.5L1544.5 631.6L1545.1 624.8L1545.7 628.8L1546.3 624.3L1546.8 631.5L1547.4 623.2L1548.0 630.1L1548.6 627.1L1549.2 623.6L1549.8 629.4L1550.4 621.9L1550.9 626.3L1551.5 624.1L1552.1 621.8L1552.7 616.4L1553.3 620.8L1553.9 618.7L1554.4 620.5L1555.0 627.0L1555.6 618.0L1556.2 623.0L1556.8 622.4L1557.4 616.5L1558.0 618.4L1558.5 614.4L1559.1 624.2L1559.7 615.4L1560.3 617.3L1560.9 616.0L1561.5 622.0L1562.1 622.1L1562.6 618.4L1563.2 617.5L1563.8 611.3L1564.4 621.5L1565.0 610.6L1565.6 613.9L1566.2 613.8L1566.7 618.1L1567.3 617.1L1567.9 612.5L1568.5 619.5L1569.1 619.9L1569.7 607.4L1570.3 615.1L1570.8 612.7L1571.4 611.0L1572.0 612.0L1572.6 609.8L1573.2 614.2L1573.8 613.0L1574.4 617.5L1574.9 617.3L1575.5 617.3L1576.1 609.1L1576.7 614.5L1577.3 611.9L1577.9 612.2L1578.5 615.9L1579.0 603.3L1579.6 608.2L1580.2 607.1L1580.8 610.2L1581.4 604.1L1582.0 614.0L1582.6 603.4L1583.1 605.2L1583.7 601.9L1584.3 605.0L1584.9 609.3L1585.5 600.3L1586.1 601.1L1586.7 607.2L1587.2 606.5L1587.8 607.7L1588.4 600.9L1589.0 607.9L1589.6 606.5L1590.2 606.8L1590.7 597.8L1591.3 602.0L1591.9 595.7L1592.5 606.5L1593.1 607.2L1593.7 606.3L1594.3 594.4L1594.8 598.4L1595.4 600.5L1596.0 600.1L1596.6 594.1L1597.2 602.9L1597.8 596.2L1598.4 598.7L1598.9 593.4L1599.5 599.0L1600.1 593.0L1600.7 592.2L1601.3 597.6L1601.9 594.4L1602.5 600.6L1603.0 593.4L1603.6 595.3L1604.2 590.3L1604.8 592.3L1605.4 595.1L1606.0 596.3L1606.6 594.9L1607.1 599.9L1607.7 590.0L1608.3 599.7L1608.9 590.4L1609.5 601.0L1610.1 595.0L1610.7 593.4L1611.2 596.0L1611.8 599.2L1612.4 600.4L1613.0 593.0L1613.6 587.5L1614.2 589.3L1614.8 598.0L1615.3 596.7L1615.9 596.7L1616.5 589.6L1617.1 594.8L1617.7 588.4L1618.3 589.7L1618.9 592.4L1619.4 601.4L1620.0 597.4L1620.6 600.4L1621.2 590.0L1621.8 595.1L1622.4 590.9L1623.0 593.5L1623.5 591.8L1624.1 602.7L1624.7 595.1L1625.3 597.0L1625.9 599.0L1626.5 601.8L1627.0 602.4L1627.6 597.1L1628.2 596.0L1628.8 601.1L1629.4 594.1L1630.0 592.6L1630.6 598.2L1631.1 591.6L1631.7 592.8L1632.3 593.4L1632.9 593.8L1633.5 592.0L1634.1 592.7L1634.7 592.8L1635.2 587.2L1635.8 597.4L1636.4 586.9L1637.0 592.9L1637.6 592.9L1638.2 590.7L1638.8 588.1L1639.3 586.3L1639.9 589.6L1640.5 588.6L1641.1 590.6L1641.7 587.0L1642.3 593.7L1642.9 590.0L1643.4 583.4L1644.0 588.5L1644.6 595.8L1645.2 583.0L1645.8 590.6L1646.4 595.3L1647.0 587.3L1647.6 590.2L1648.2 587.1L1648.8 586.1L1649.4 590.0L1650.0 589.6L1650.6 585.7L1651.2 587.9L1651.8 587.8L1652.3 590.7L1652.9 581.2L1653.5 581.5L1654.1 583.3L1654.7 583.3L1655.3 590.0L1655.9 584.8L1656.4 590.3L1657.0 584.0L1657.6 582.2L1658.2 587.2L1658.8 579.1L1659.4 590.7L1660.0 588.5L1660.5 581.6L1661.1 581.2L1661.7 587.7L1662.3 587.0L1662.9 584.9L1663.5 577.0L1664.1 586.1L1664.6 576.4L1665.2 583.8L1665.8 582.7L1666.4 587.4L1667.0 583.4L1667.6 575.0L1668.1 586.9L1668.7 584.2L1669.3 581.7L1669.9 573.9L1670.5 583.3L1671.1 578.9L1671.7 582.1L1672.2 585.9L1672.8 584.8L1673.4 573.4L1674.0 582.5L1674.6 577.8L1675.2 581.7L1675.8 576.5L1676.3 577.2L1676.9 576.8L1677.5 572.4L1678.1 574.8L1678.7 580.1L1679.3 571.2L1679.9 571.6L1680.4 580.9L1681.0 578.5L1681.6 576.7L1682.2 570.8L1682.8 570.7L1683.4 573.1L1684.0 581.4L1684.5 576.0L1685.1 580.6L1685.7 571.1L1686.3 573.6L1686.9 575.0L1687.5 578.8L1688.1 569.2L1688.7 578.9L1689.2 573.3L1689.8 567.3L1690.4 572.4L1691.0 571.4L1691.6 575.1L1692.2 578.3L1692.8 572.3L1693.4 574.7L1694.0 570.5L1694.6 575.4L1695.2 566.3L1695.8 574.5L1696.3 566.7L1696.9 572.0L1697.5 566.7L1698.1 568.4L1698.7 565.8L1699.3 567.9L1699.9 570.8L1700.4 569.5L1701.0 567.4L1701.6 569.6L1702.2 572.8L1702.7 566.0L1703.3 568.7L1703.9 567.0L1704.5 573.3L1705.1 564.3L1705.6 568.9L1706.2 562.4L1706.8 562.6L1707.4 568.6L1708.0 566.3L1708.5 561.9L1709.1 559.2L1709.7 569.0L1710.3 562.9L1710.9 567.2L1711.5 563.2L1712.1 565.5L1712.6 564.5L1713.2 569.8L1713.8 568.7L1714.4 562.6L1715.0 562.8L1715.6 559.2L1716.2 565.8L1716.7 556.9L1717.3 559.3L1717.9 566.2L1718.5 555.1L1719.1 563.6L1719.7 561.6L1720.3 561.1L1720.8 557.9L1721.4 555.2L1722.0 565.5L1722.6 562.7L1723.2 563.0L1723.8 553.3L1724.4 562.1L1724.9 554.3L1725.5 553.7L1726.1 557.8L1726.7 558.5L1727.3 551.6L1727.9 559.8L1728.5 557.0L1729.0 560.9L1729.6 560.8L1730.2 557.4L1730.8 552.7L1731.4 560.1L1732.0 556.7L1732.6 550.7L1733.1 557.9L1733.7 555.8L1734.3 549.3L1734.9 548.9L1735.5 545.6L1736.1 552.2L1736.7 548.2L1737.2 548.5L1737.8 547.8L1738.4 545.9L1739.0 550.4L1739.6 547.3L1740.2 547.3L1740.7 546.9L1741.3 549.7L1741.9 554.3L1742.5 544.7L1743.1 553.7L1743.7 553.4L1744.3 549.7L1744.9 548.4L1745.5 550.5L1746.1 547.4L1746.7 548.7L1747.3 551.7L1747.8 549.3L1748.4 542.1L1749.0 539.0L1749.6 550.2L1750.2 542.2L1750.8 549.1L1751.4 543.1L1751.9 547.3L1752.5 547.5L1753.0 553.6L1753.5 561.6L1754.0 560.9L1754.4 566.9L1754.9 569.2L1755.5 568.2L1756.1 578.3L1756.6 567.8L1757.2 579.3L1757.8 576.1L1758.4 569.0L1759.0 580.5L1759.5 570.5L1760.1 577.2L1760.7 571.9L1761.3 584.0L1761.8 575.6L1762.4 583.6L1763.0 574.0L1763.5 583.1L1764.1 576.3L1764.7 577.0L1765.2 585.2L1765.8 591.8L1766.3 589.0L1766.9 592.3L1767.5 592.5L1768.0 590.2L1768.6 584.5L1769.2 590.6L1769.7 586.3L1770.3 591.0L1770.8 588.9L1771.4 591.0L1772.0 587.2L1772.5 594.1L1773.1 590.5L1773.7 591.6L1774.2 587.2L1774.8 593.5L1775.3 595.4L1775.9 601.8L1776.5 597.3L1777.0 592.6L1777.6 595.7L1778.1 597.1L1778.7 602.9L1779.3 606.9L1779.7 611.2L1780.2 614.6L1780.7 618.0L1781.1 620.9L1781.7 663.1L1782.1 727.8L1782.7 733.9L1783.3 735.0L1783.9 736.1L1784.5 735.0L1785.1 734.8L1785.7 738.9L1786.3 727.5L1786.9 733.1L1787.4 738.7L1788.0 726.3L1788.6 727.2L1789.2 736.8L1789.8 737.5L1790.4 724.8L1791.0 724.5L1791.6 734.7L1792.2 732.4L1792.8 729.8L1793.4 730.2L1794.0 732.1L1794.6 732.4L1795.1 721.4L1795.7 721.9L1796.3 731.1L1796.9 733.0L1797.5 730.8L1798.1 724.8L1798.7 723.4L1799.3 723.2L1799.9 718.4L1800.5 728.0L1801.1 721.0L1801.6 724.9L1802.2 723.7L1802.8 720.9L1803.4 725.0L1804.0 721.7L1804.6 718.5L1805.2 726.7L1805.7 717.0L1806.3 716.3L1806.9 717.3L1807.5 720.0L1808.1 723.6L1808.7 717.3L1809.3 715.7L1809.8 721.0L1810.4 715.5L1811.0 718.8L1811.6 715.0L1812.2 723.0L1812.8 713.6L1813.3 714.0L1813.9 714.7L1814.5 714.8L1815.1 719.8L1815.7 718.9L1816.3 720.2L1816.9 716.7L1817.4 710.3L1818.0 719.1L1818.6 712.1L1819.1 712.4L1819.5 715.6L1820.0 723.8L1820.6 715.2L1821.2 714.5L1821.8 721.4L1822.3 722.0L1822.9 713.5L1823.5 709.8L1824.1 717.9L1824.7 717.4L1825.3 711.0L1825.9 716.5L1826.4 710.6L1827.0 708.9L1827.6 712.5L1828.2 714.0L1828.8 710.0L1829.4 714.1L1830.0 703.2L1830.5 709.4L1831.1 707.6L1831.7 703.2L1832.3 714.2L1832.9 703.8L1833.5 704.4L1834.1 713.0L1834.6 713.9L1835.2 713.2L1835.8 705.2L1836.4 712.8L1837.0 702.1L1837.6 709.4L1838.1 712.3L1838.7 702.1L1839.3 700.9L1839.9 707.7L1840.5 710.0L1841.1 707.5L1841.7 710.0L1842.2 703.1L1842.8 701.6L1843.4 697.8L1844.0 699.5L1844.6 707.8L1845.2 696.0L1845.8 697.1L1846.3 698.8L1846.9 694.4L1847.5 697.4L1848.1 695.4L1848.7 694.2L1849.3 699.2L1849.9 699.1L1850.4 699.1L1851.0 701.3L1851.6 697.8L1852.2 703.0L1852.8 691.2L1853.4 692.8L1854.0 690.5L1854.5 693.2L1855.1 698.8L1855.7 700.6L1856.3 694.7L1856.9 689.8L1857.5 691.7L1858.1 694.5L1858.6 690.5L1859.2 696.8L1859.8 698.8L1860.4 691.7L1861.0 693.2L1861.6 696.1L1862.2 690.7L1862.7 686.7L1863.3 696.3L1863.9 696.4L1864.5 683.5L1865.1 692.9L1865.7 687.7L1866.3 682.8L1866.8 683.9L1867.4 683.7L1868.0 690.9L1868.6 683.7L1869.2 680.8L1869.8 683.2L1870.4 690.5L1870.9 686.3L1871.5 688.0L1872.1 685.2L1872.7 681.2L1873.3 678.7L1873.9 682.2L1874.4 678.5L1875.0 681.1L1875.6 685.5L1876.2 681.9L1876.8 683.2L1877.4 685.1L1878.0 680.9L1878.5 681.3L1879.1 688.1L1879.7 684.0L1880.3 681.7L1880.9 683.2L1881.5 682.1L1882.1 680.3L1882.6 687.8L1883.2 678.7L1883.8 687.9L1884.4 686.7L1885.0 686.9L1885.6 677.3L1886.2 681.6L1886.7 687.6L1887.3 678.1L1887.9 676.3L1888.5 683.3L1889.1 676.5L1889.7 680.8L1890.3 674.9L1890.8 685.1L1891.4 676.0L1892.0 673.2L1892.6 680.7L1893.2 676.0L1893.8 678.5L1894.4 677.4L1894.9 682.7L1895.5 677.1L1896.1 675.1L1896.7 669.9L1897.2 676.2L1897.8 673.0L1898.4 676.8L1899.0 677.3L1899.6 674.9L1900.1 669.7L1900.7 674.9L1901.3 674.5L1901.9 676.4L1902.4 680.5L1903.0 671.4L1903.6 673.5L1904.2 668.8L1904.8 678.2L1905.4 670.8L1906.0 678.6L1906.6 678.2L1907.2 671.0L1907.8 679.6L1908.4 674.3L1908.9 673.3L1909.5 675.0L1910.1 680.2L1910.7 674.2L1911.3 674.1L1911.9 671.5L1912.5 678.8L1913.1 674.3L1913.7 672.2L1914.3 671.0L1914.8 672.0L1915.4 680.9L1916.0 681.2L1916.6 684.2L1917.1 684.1L1917.7 681.8L1918.3 684.0L1918.9 683.6L1919.4 685.6L1920.0 686.2L1920.6 678.7L1921.2 687.8L1921.8 681.8L1922.3 681.7L1922.9 691.3L1923.5 680.2L1924.1 687.3L1924.7 685.8L1925.3 692.4L1925.9 690.7L1926.4 697.3L1927.0 700.2L1927.5 699.0L1928.1 694.0L1928.7 704.6L1929.1 703.8L1929.6 721.9L1930.1 727.0L1930.5 726.1L1930.9 761.9L1930.9 798.6L1931.5 799.3L1932.1 802.1L1932.7 797.1L1933.2 790.3L1933.8 798.0L1934.4 789.0L1935.0 799.5L1935.6 797.9L1936.2 798.0L1936.7 798.6L1937.3 794.0L1937.8 798.4L1938.4 793.8L1939.0 791.3L1939.5 789.3L1940.1 788.3L1940.7 783.4L1941.2 784.7L1941.8 792.5L1942.4 784.7L1943.0 790.0L1943.5 791.3L1944.1 790.0L1944.7 787.3L1945.3 784.4L1945.9 783.5L1946.5 782.1L1947.0 787.9L1947.6 788.1L1948.2 791.2L1948.8 782.8L1949.4 790.4L1950.0 789.9L1950.6 781.4L1951.1 789.9L1951.7 785.0L1952.3 789.1L1952.8 786.1L1953.4 779.8L1954.0 778.6L1954.5 781.4L1955.1 780.4L1955.6 774.0L1956.2 784.5L1956.8 779.7L1957.3 781.2L1957.9 787.1L1958.5 782.9L1959.0 788.6"/>
<path class="tr" stroke="#ff0000" d="M320.6 1535.3L321.2 1534.4L321.8 1533.5L322.4 1532.6L323.0 1531.7L323.6 1530.8L324.2 1529.8L324.8 1528.9L325.4 1528.0L326.0 1527.1L326.6 1526.2L327.2 1525.3L327.8 1524.4L328.4 1523.5L329.0 1522.6L329.6 1521.7L330.2 1520.8L330.8 1519.9L331.4 1518.9L332.0 1518.0L332.6 1517.1L333.2 1516.2L333.8 1515.3L334.4 1514.4L335.0 1513.5L335.6 1512.6L336.2 1511.7L336.8 1510.8L337.4 1509.9L338.0 1509.0L338.6 1508.0L339.2 1507.1L339.8 1506.2L340.4 1505.3L341.0 1504.4L341.6 1503.5L342.2 1502.6L342.8 1501.7L343.4 1500.8L344.0 1499.9L344.6 1499.0L345.2 1498.1L345.8 1497.1L346.4 1496.2L347.0 1495.3L347.6 1494.4L348.2 1493.5L348.8 1492.6L349.4 1491.7L350.0 1490.8L350.6 1489.9L351.2 1489.0L351.8 1488.1L352.4 1487.1L353.0 1486.2L353.6 1485.3L354.2 1484.4L354.8 1483.5L355.4 1482.6L356.0 1481.7L356.6 1480.8L357.2 1479.9L357.8 1479.0L358.4 1478.1L359.0 1477.2L359.6 1476.2L360.2 1475.3L360.8 1474.4L361.4 1473.5L362.0 1472.6L362.6 1471.7L363.2 1470.8L363.8 1469.9L364.4 1469.0L365.0 1468.1L365.6 1467.2L366.2 1466.3L366.8 1465.3L367.4 1464.4L368.0 1463.5L368.6 1462.6L369.2 1461.7L369.8 1460.8L370.4 1459.9L371.0 1459.0L371.6 1458.1L372.2 1457.2L372.8 1456.3L373.4 1455.4L374.0 1454.4L374.6 1453.5L375.2 1452.6L375.8 1451.7L376.4 1450.8L377.0 1449.9L377.6 1449.0L378.2 1448.1L378.8 1447.2L379.4 1446.3L380.0 1445.4L380.6 1444.5L381.2 1443.5L381.8 1442.6L382.4 1441.7L383.0 1440.8L383.6 1439.9L384.2 1439.0L384.8 1438.1L385.4 1437.2L386.0 1436.3L386.6 1435.4L387.2 1434.5L387.8 1433.5L388.4 1432.6L389.0 1431.7L389.6 1430.8L390.2 1429.9L390.8 1429.0L391.4 1428.1L392.0 1427.2L392.6 1426.3L393.2 1425.4L393.8 1424.5L394.4 1423.6L395.0 1422.6L395.6 1421.7L396.2 1420.8L396.8 1419.9L397.4 1419.0L398.0 1418.1L398.6 1417.2L399.2 1416.3L399.8 1415.4L400.4 1414.5L401.0 1413.6L401.6 1412.7L402.2 1411.7L402.8 1410.8L403.4 1409.9L404.0 1409.0L404.6 1408.1L405.2 1407.2L405.8 1406.3L406.4 1405.4L407.0 1404.5L407.6 1403.6L408.2 1402.7L408.8 1401.8L409.4 1400.8L410.0 1399.9L410.6 1399.0L411.2 1398.1L411.8 1397.2L412.4 1396.3L413.0 1395.4L413.6 1394.5L414.2 1393.6L414.8 1392.7L415.4 1391.8L416.0 1390.8L416.6 1389.9L417.2 1389.0L417.8 1388.1L418.4 1387.2L419.0 1386.3L419.6 1385.4L420.2 1384.5L420.8 1383.6L421.4 1382.7L422.0 1381.8L422.6 1380.9L423.2 1379.9L423.8 1379.0L424.4 1378.1L425.0 1377.2L425.6 1376.3L426.2 1375.4L426.8 1374.5L427.4 1373.6L428.0 1372.7L428.6 1371.8L429.2 1370.9L429.8 1370.0L430.4 1369.0L431.0 1368.1L431.6 1367.2L432.2 1366.3L432.8 1365.4L433.4 1364.5L434.0 1363.6L434.6 1362.7L435.2 1361.8L435.8 1360.9L436.4 1360.0L437.0 1359.1L437.6 1358.1L438.2 1357.2L438.8 1356.3L439.4 1355.4L440.0 1354.5L440.6 1353.6L441.2 1352.7L441.8 1351.8L442.4 1350.9L443.0 1350.0L443.6 1349.1L444.2 1348.2L444.8 1347.2L445.4 1346.3L446.0 1345.4L446.6 1344.5L447.2 1343.6L447.8 1342.7L448.4 1341.8L449.0 1340.9L449.6 1340.0L450.2 1339.1L450.8 1338.2L451.4 1337.2L452.0 1336.3L452.6 1335.4L453.2 1334.5L453.8 1333.6L454.4 1332.7L455.0 1331.8L455.6 1330.9L456.2 1330.0L456.8 1329.1L457.4 1328.2L458.0 1327.3L458.6 1326.3L459.2 1325.4L459.8 1324.5L460.4 1323.6L461.0 1322.7L461.6 1321.8L462.2 1320.9L462.8 1320.0L463.4 1319.1L464.0 1318.2L464.6 1317.3L465.2 1316.4L465.8 1315.4L466.4 1314.5L467.0 1313.6L467.6 1312.7L468.2 1311.8L468.8 1310.9L469.4 1310.0L470.0 1309.1L470.6 1308.2L471.2 1307.3L471.8 1306.4L472.4 1305.5L473.0 1304.5L473.6 1303.6L474.2 1302.7L474.8 1301.8L475.4 1300.9L476.0 1300.0L476.6 1299.2L477.2 1298.3L477.8 1297.5L478.4 1296.7L479.0 1295.8L479.6 1295.0L480.2 1294.2L480.8 1293.3L481.4 1292.5L482.0 1291.7L482.6 1290.8L483.2 1290.0L483.8 1289.2L484.4 1288.3L485.0 1287.5L485.6 1286.7L486.2 1285.8L486.8 1285.0L487.4 1284.2L488.0 1283.3L488.6 1282.5L489.2 1281.7L489.8 1280.8L490.4 1280.0L491.0 1279.2L491.6 1278.3L492.2 1277.5L492.8 1276.7L493.4 1275.8L494.0 1275.0L494.6 1274.2L495.2 1273.3L495.8 1272.5L496.4 1271.7L497.0 1270.8L497.6 1270.0L498.1 1269.2L498.7 1268.3L499.3 1267.5L499.9 1266.7L500.5 1265.8L501.1 1265.0L501.7 1264.2L502.3 1263.3L502.9 1262.5L503.5 1261.7L504.1 1261.2L504.7 1259.3L505.3 1257.6L505.9 1260.6L506.5 1255.7L507.1 1254.0L507.7 1257.1L508.3 1253.5L508.9 1258.4L509.5 1250.1L510.1 1258.0L510.7 1249.5L511.3 1252.0L511.9 1255.2L512.5 1251.4L513.1 1253.4L513.7 1250.0L514.3 1241.2L514.9 1250.4L515.5 1246.1L516.1 1241.9L516.7 1239.6L517.3 1246.7L517.9 1242.7L518.5 1246.1L519.1 1243.3L519.7 1244.7L520.3 1239.1L520.9 1239.9L521.5 1238.0L522.1 1232.9L522.7 1240.5L523.3 1231.9L523.9 1236.7L524.5 1238.0L525.1 1233.5L525.7 1226.5L526.3 1233.9L526.9 1231.2L527.5 1224.6L528.1 1222.1L528.7 1227.0L529.3 1220.2L529.9 1230.1L530.5 1224.2L531.1 1223.5L531.7 1221.4L532.3 1223.6L532.9 1225.8L533.5 1217.7L534.1 1217.7L534.7 1219.3L535.3 1215.1L535.9 1217.8L536.5 1216.4L537.1 1214.2L537.7 1216.2L538.3 1213.7L538.9 1207.6L539.5 1217.6L540.1 1209.1L540.6 1209.2L541.2 1208.0L541.8 1213.5L542.4 1212.9L543.0 1206.8L543.6 1204.6L544.2 1200.2L544.8 1208.9L545.4 1199.4L546.0 1203.1L546.6 1199.9L547.2 1198.8L547.8 1198.3L548.4 1195.5L549.0 1192.8L549.6 1197.9L550.2 1200.2L550.8 1197.6L551.4 1191.4L552.0 1196.5L552.6 1188.0L553.2 1191.4L553.8 1195.6L554.4 1195.9L555.0 1189.5L555.6 1193.3L556.2 1188.3L556.8 1187.8L557.4 1187.7L558.0 1191.7L558.6 1187.9L559.2 1183.8L559.8 1186.1L560.4 1184.2L561.0 1179.9L561.6 1184.2L562.2 1183.8L562.8 1180.5L563.4 1183.6L564.0 1171.7L564.6 1176.7L565.2 1177.4L565.8 1173.1L566.4 1170.2L567.0 1175.6L567.6 1171.7L568.2 1168.9L568.8 1165.3L569.4 1175.6L570.0 1167.4L570.6 1163.8L571.2 1164.1L571.8 1163.7L572.4 1170.2L573.0 1161.2L573.6 1161.5L574.2 1158.5L574.8 1162.1L575.4 1158.2L576.0 1159.0L576.6 1162.8L577.2 1164.3L577.8 1162.3L578.4 1152.0L579.0 1155.2L579.6 1160.0L580.2 1149.4L580.8 1150.6L581.4 1153.2L582.0 1151.1L582.6 1154.7L583.2 1153.5L583.8 1149.6L584.3 1146.2L584.9 1145.1L585.5 1144.7L586.1 1141.4L586.7 1147.8L587.3 1140.9L587.9 1148.8L588.5 1145.1L589.1 1137.2L589.7 1141.7L590.3 1142.1L590.9 1134.5L591.5 1139.0L592.1 1132.7L592.7 1140.7L593.3 1130.7L593.9 1137.4L594.5 1140.8L595.1 1138.3L595.7 1130.1L596.3 1132.9L596.9 1127.3L597.5 1128.9L598.1 1134.4L598.7 1133.0L599.3 1122.4L599.9 1126.1L600.5 1128.3L601.1 1121.9L601.7 1128.6L602.3 1128.9L602.9 1124.0L603.5 1120.8L604.1 1125.8L604.7 1121.0L605.3 1116.3L605.9 1116.5L606.5 1114.2L607.1 1121.6L607.7 1116.8L608.3 1118.2L608.9 1118.8L609.5 1119.9L610.1 1109.6L610.7 1111.4L611.3 1116.2L611.9 1114.0L612.5 1108.6L613.1 1111.0L613.7 1104.7L614.3 1103.4L614.9 1101.3L615.5 1104.4L616.1 1101.8L616.7 1104.4L617.3 1109.0L617.9 1098.3L618.5 1102.4L619.1 1105.2L619.7 1101.2L620.3 1099.5L620.9 1101.5L621.5 1091.8L622.1 1102.0L622.7 1098.1L623.3 1098.7L623.9 1098.1L624.5 1088.5L625.1 1087.3L625.7 1087.8L626.3 1090.9L626.9 1095.3L627.4 1094.1L628.0 1087.3L628.6 1089.0L629.2 1089.5L629.8 1083.8L630.4 1090.6L631.0 1089.5L631.6 1086.1L632.2 1087.3L632.8 1085.3L633.4 1082.7L634.0 1077.9L634.6 1076.5L635.2 1075.2L635.8 1072.2L636.4 1081.8L637.0 1073.4L637.6 1069.3L638.2 1072.0L638.8 1068.6L639.4 1071.8L640.0 1069.7L640.6 1066.9L641.2 1069.7L641.8 1068.1L642.4 1066.6L643.0 1071.3L643.6 1064.3L644.2 1066.3L644.8 1069.5L645.4 1069.7L646.0 1061.8L646.6 1057.0L647.2 1067.1L647.8 1061.0L648.4 1056.6L649.0 1054.7L649.6 1055.2L650.2 1055.2L650.8 1052.3L651.4 1050.4L652.0 1060.9L652.6 1058.0L653.2 1048.7L653.8 1052.3L654.4 1055.3L655.0 1050.9L655.6 1044.8L656.2 1047.2L656.8 1046.9L657.4 1052.5L658.0 1047.7L658.6 1045.3L659.2 1046.6L659.8 1038.8L660.4 1045.6L661.0 1046.2L661.6 1043.7L662.2 1039.2L662.8 1037.4L663.4 1033.3L664.0 1033.3L664.6 1033.4L665.2 1036.1L665.8 1039.2L666.4 1031.6L667.0 1033.8L667.6 1035.0L668.2 1034.1L668.8 1025.9L669.4 1035.9L670.0 1031.0L670.5 1026.8L671.1 1025.2L671.7 1029.8L672.3 1031.9L672.9 1023.9L673.5 1023.8L674.1 1024.9L674.7 1019.4L675.3 1021.4L675.9 1026.7L676.5 1021.5L677.1 1023.9L677.7 1016.3L678.3 1022.8L678.9 1020.9L679.5 1013.4L680.1 1016.2L680.7 1017.2L681.3 1015.0L681.9 1014.6L682.5 1009.4L683.1 1012.3L683.7 1009.1L684.3 1013.6L684.9 1007.6L685.5 1014.1L686.1 1008.5L686.7 1003.4L687.3 1004.8L687.9 1000.5L688.5 1007.0L689.1 997.9L689.7 1003.8L690.3 999.4L690.9 1004.2L691.5 995.5L692.1 1001.3L692.7 1000.9L693.3 994.2L693.9 992.1L694.5 994.2L695.1 996.7L695.7 991.2L696.3 987.3L696.9 991.6L697.5 995.2L698.1 986.5L698.7 995.0L699.3 989.0L699.9 984.0L700.5 982.4L701.1 984.8L701.7 985.2L702.3 980.7L702.9 978.8L703.5 982.9L704.1 979.1L704.7 980.5L705.3 979.8L705.9 981.9L706.5 979.6L707.1 974.5L707.7 973.1L708.3 980.4L708.9 969.8L709.5 969.9L710.1 968.4L710.7 976.6L711.3 972.3L711.9 976.0L712.5 971.6L713.1 967.3L713.7 967.6L714.3 970.3L714.9 963.5L715.5 969.5L716.1 963.9L716.7 958.6L717.3 961.4L717.9 963.1L718.5 957.3L719.0 965.6L719.6 965.0L720.2 959.1L720.8 963.0L721.4 959.6L722.0 956.9L722.6 951.5L723.2 960.2L723.8 958.9L724.4 952.4L725.0 950.8L725.6 946.2L726.2 951.9L726.8 953.9L727.4 947.4L728.0 945.4L728.6 948.4L729.2 949.7L729.8 941.4L730.4 941.9L731.0 945.3L731.6 937.3L732.2 945.7L732.8 938.8L733.4 944.2L734.0 938.8L734.6 934.5L735.2 931.9L735.8 932.1L736.4 933.1L737.0 938.2L737.6 937.8L738.2 934.9L738.8 930.2L739.4 933.6L740.0 933.6L740.6 928.4L741.2 924.1L741.8 927.9L742.4 924.1L743.0 922.8L743.6 924.4L744.2 919.7L744.8 928.8L745.4 920.5L746.0 927.0L746.6 924.3L747.2 914.7L747.8 924.5L748.4 922.6L749.0 918.3L749.6 921.8L750.2 916.0L750.8 909.7L751.4 910.4L752.0 911.5L752.6 917.2L753.2 916.0L753.8 906.6L754.4 908.5L755.0 904.8L755.6 905.3L756.2 906.0L756.8 905.9L757.4 901.8L758.0 907.1L758.6 901.2L759.2 908.2L759.8 902.4L760.4 900.9L761.0 904.1L761.6 898.2L762.2 896.3L762.8 893.8L763.4 895.0L764.0 893.5L764.6 898.6L765.2 893.2L765.8 896.5L766.4 890.6L767.0 887.3L767.6 889.2L768.2 889.4L768.8 894.7L769.4 885.4L770.0 884.7L770.6 883.2L771.2 883.5L771.8 891.0L772.4 889.8L773.0 880.6L773.5 877.7L774.1 882.0L774.7 882.3L775.3 875.9L775.9 878.6L776.5 881.8L777.1 872.0L777.7 879.5L778.3 878.3L778.9 878.6L779.5 874.3L780.1 873.2L780.7 872.9L781.3 867.6L781.9 871.2L782.5 867.1L783.1 867.2L783.7 863.2L784.3 863.7L784.9 861.6L785.5 866.4L786.1 862.0L786.7 864.8L787.3 863.4L787.9 859.4L788.5 857.3L789.1 861.9L789.7 861.9L790.3 861.2L790.9 858.3L791.5 858.3L792.1 851.1L792.7 853.4L793.3 858.2L793.9 852.5L794.5 848.6L795.1 851.3L795.7 855.2L796.3 846.0L796.9 845.3L797.5 848.8L798.1 852.2L798.7 845.9L799.3 843.4L799.9 848.4L800.5 840.0L801.1 841.4L801.7 843.9L802.3 845.9L802.9 845.2L803.5 838.3L804.1 836.8L804.7 837.0L805.3 833.5L805.9 834.3L806.5 839.0L807.1 840.5L807.7 831.7L808.3 828.7L808.9 835.2L809.5 836.9L810.1 834.1L810.7 829.0L811.3 831.9L811.9 831.2L812.5 830.1L813.1 826.5L813.7 831.2L814.3 828.0L814.9 821.1L815.5 822.4L816.1 817.8L816.7 820.1L817.3 824.1L817.9 819.6L818.5 819.2L819.1 821.1L819.7 812.7L820.3 814.8L820.9 815.3L821.5 814.6L822.1 815.8L822.7 817.7L823.3 815.3L823.9 811.7L824.5 812.4L825.1 809.9L825.7 813.9L826.3 808.8L826.9 808.0L827.5 805.0L828.0 804.4L828.6 807.2L829.2 802.2L829.8 807.0L830.4 804.3L831.0 805.8L831.6 802.3L832.2 800.0L832.8 797.0L833.4 792.4L834.0 798.4L834.6 798.5L835.2 797.4L835.8 796.9L836.4 788.4L837.0 794.4L837.6 789.2L838.2 789.5L838.8 793.7L839.4 788.0L840.0 787.8L840.6 782.6L841.2 783.1L841.8 782.6L842.4 781.8L843.0 784.1L843.6 778.3L844.2 777.9L844.8 777.0L845.4 782.9L846.0 784.5L846.6 781.4L847.2 778.1L847.8 773.2L848.4 779.1L849.0 771.5L849.6 770.1L850.2 773.8L850.8 776.5L851.4 770.0L852.0 774.8L852.6 768.5L853.2 774.2L853.8 771.0L854.4 771.4L855.0 771.8L855.6 769.2L856.2 761.9L856.8 764.3L857.4 763.7L858.0 764.6L858.6 758.7L859.2 761.4L859.8 757.5L860.4 755.6L861.0 757.4L861.6 760.1L862.2 756.7L862.8 753.8L863.4 751.6L864.0 752.1L864.6 751.6L865.2 749.5L865.8 749.0L866.3 747.2L866.9 747.0L867.5 749.9L868.1 748.6L868.7 747.7L869.3 749.8L869.9 746.3L870.5 740.1L871.1 741.9L871.7 742.2L872.3 743.6L872.9 740.5L873.5 735.3L874.1 738.2L874.7 739.1L875.3 739.5L875.9 735.3L876.5 732.1L877.1 729.5L877.7 733.2L878.3 734.7L878.9 727.6L879.5 730.7L880.1 730.6L880.7 729.3L881.3 725.2L881.9 723.0L882.5 721.4L883.1 723.3L883.7 728.1L884.3 722.6L884.9 727.2L885.5 724.8L886.1 721.6L886.7 719.3L887.2 719.6L887.8 721.4L888.4 715.6L889.0 713.0L889.6 719.3L890.2 715.8L890.8 712.5L891.4 711.8L892.0 708.1L892.6 711.7L893.2 712.8L893.8 709.2L894.4 710.2L895.0 709.7L895.6 705.0L896.2 707.0L896.8 709.3L897.4 706.0L898.0 700.0L898.6 703.7L899.2 702.6L899.8 703.0L900.4 701.4L901.0 702.5L901.6 702.2L902.2 694.1L902.8 695.8L903.4 690.8L904.0 698.8L904.6 689.6L905.2 691.7L905.8 692.6L906.4 690.0L907.0 686.7L907.6 688.9L908.2 685.4L908.8 687.0L909.3 688.2L909.9 683.4L910.5 683.9L911.1 684.8L911.7 683.0L912.3 684.6L912.9 684.6L913.5 684.4L914.1 676.0L914.7 678.1L915.3 673.8L915.9 678.3L916.5 674.6L917.1 678.0L917.7 673.7L918.3 675.7L918.9 667.6L919.5 672.2L920.1 669.5L920.7 672.5L921.3 664.8L921.9 663.8L922.5 668.5L923.1 664.2L923.7 664.3L924.3 663.2L924.9 667.8L925.5 663.5L926.1 664.5L926.7 663.7L927.3 663.0L927.9 658.3L928.5 655.9L929.1 657.1L929.7 659.8L930.2 658.8L930.8 654.1L931.4 657.3L932.0 655.0L932.6 647.4L933.2 652.0L933.8 652.7L934.4 644.7L935.0 647.0L935.6 648.6L936.2 646.4L936.8 645.8L937.4 640.7L938.0 641.5L938.6 646.3L939.2 640.5L939.8 640.9L940.4 641.0L941.0 637.2L941.6 637.6L942.2 637.6L942.8 640.1L943.4 639.0L944.0 631.8L944.6 634.0L945.2 635.4L945.8 635.9L946.4 631.6L947.0 631.7L947.6 630.9L948.2 630.2L948.8 631.5L949.4 631.4L950.0 630.6L950.6 621.6L951.2 626.3L951.8 622.3L952.3 620.4L952.9 617.8L953.5 624.5L954.1 623.5L954.7 619.2L955.3 618.0L955.9 614.4L956.5 620.3L957.1 617.8L957.7 611.4L958.3 614.3L958.9 617.4L959.5 609.6L960.1 609.8L960.7 608.8L961.3 608.0L961.9 604.7L962.5 608.6L963.1 604.1L963.7 607.3L964.3 604.4L964.9 607.0L965.5 605.2L966.1 605.3L966.7 597.8L967.3 602.9L967.9 601.8L968.5 596.4L969.1 592.7L969.7 592.7L970.3 598.2L970.8 599.1L971.4 589.7L972.0 590.5L972.6 591.0L973.2 587.0L973.8 591.5L974.4 592.6L975.0 591.6L975.6 584.4L976.2 590.4L976.8 588.3L977.4 581.5L978.0 587.1L978.6 586.9L979.2 585.5L979.8 583.4L980.4 583.1L981.0 579.6L981.6 573.7L982.2 579.1L982.8 576.5L983.4 572.3L984.0 571.3L984.6 577.4L985.2 576.7L985.8 567.8L986.4 566.6L987.0 572.0L987.5 567.3L988.1 571.8L988.7 567.1L989.3 568.5L989.9 561.4L990.5 567.3L991.1 561.0L991.7 562.3L992.3 561.9L992.9 559.5L993.5 557.8L994.1 558.8L994.7 554.2L995.3 554.2L995.9 553.1L996.5 559.0L997.1 553.0L997.7 558.4L998.3 556.7L998.9 548.9L999.5 554.5L1000.1 554.8L1000.7 548.8L1001.3 548.2L1001.9 549.1L1002.5 546.5L1003.1 543.4L1003.7 546.9L1004.2 541.2L1004.8 541.9L1005.4 537.5L1006.0 539.5L1006.6 543.1L1007.2 535.9L1007.8 535.5L1008.4 536.5L1009.0 534.7L1009.6 531.0L1010.2 530.6L1010.8 531.1L1011.4 535.7L1012.0 534.6L1012.6 534.0L1013.2 532.1L1013.8 534.0L1014.4 526.1L1015.0 529.5L1015.6 526.1L1016.2 530.0L1016.8 524.2L1017.4 526.0L1018.0 525.6L1018.6 526.4L1019.2 523.6L1019.8 518.6L1020.3 520.7L1020.9 521.2L1021.5 521.7L1022.1 514.2L1022.7 517.9L1023.3 516.9L1023.9 510.7L1024.5 509.4L1025.1 512.7L1025.7 512.1L1026.3 508.7L1026.9 510.5L1027.5 505.1L1028.1 508.2L1028.7 507.0L1029.3 508.8L1029.9 506.9L1030.5 500.0L1031.1 503.5L1031.7 498.6L1032.3 501.4L1032.9 502.0L1033.5 501.3L1034.1 493.8L1034.7 497.9L1035.3 493.6L1035.9 495.8L1036.5 494.8L1037.0 493.8L1037.6 495.5L1038.2 490.2L1038.8 491.0L1039.4 487.9L1040.0 486.5L1040.6 489.7L1041.2 484.4L1041.8 489.5L1042.4 484.6L1043.0 481.2L1043.6 486.6L1044.2 478.5L1044.8 480.2L1045.4 482.7L1046.0 475.8L1046.6 481.3L1047.2 479.1L1047.8 482.1L1048.4 474.9L1049.0 478.9L1049.6 479.4L1050.2 473.9L1050.8 469.1L1051.4 470.6L1052.0 474.2L1052.6 465.6L1053.2 470.7L1053.7 468.7L1054.3 469.9L1054.9 465.6L1055.5 470.0L1056.1 461.5L1056.7 463.4L1057.3 461.6L1057.9 463.1L1058.5 459.0L1059.1 459.7L1059.7 459.5L1060.3 463.1L1060.8 453.8L1061.4 455.4L1062.0 453.2L1062.6 457.7L1063.2 457.4L1063.8 449.4L1064.4 455.8L1065.0 455.8L1065.6 451.1L1066.2 451.5L1066.8 452.5L1067.4 452.9L1067.9 445.4L1068.5 449.1L1069.1 442.3L1069.7 444.2L1070.3 448.4L1070.9 444.9L1071.5 443.2L1072.1 441.5L1072.7 440.7L1073.3 435.9L1073.9 440.0L1074.5 442.7L1075.0 434.1L1075.6 432.5L1076.2 437.2L1076.8 438.2L1077.4 433.7L1078.0 429.6L1078.6 434.0L1079.2 433.2L1079.8 428.4L1080.4 433.0L1081.0 429.6L1081.6 431.0L1082.1 425.0L1082.7 425.3L1083.3 427.3L1083.9 426.5L1084.5 427.3L1085.1 427.4L1085.7 424.4L1086.3 416.9L1086.9 420.3L1087.5 421.4L1088.1 421.6L1088.7 416.4L1089.3 413.2L1089.8 417.2L1090.4 412.7L1091.0 414.9L1091.6 411.4L1092.2 416.7L1092.8 407.9L1093.4 412.0L1094.0 414.2L1094.6 411.1L1095.2 405.6L1095.8 408.6L1096.4 410.4L1097.0 407.7L1097.6 409.5L1098.2 407.8L1098.8 402.9L1099.4 399.6L1100.0 404.1L1100.6 401.3L1101.2 403.6L1101.7 399.3L1102.3 401.0L1102.9 394.8L1103.5 399.7L1104.1 399.9L1104.7 398.6L1105.3 397.4L1105.9 395.6L1106.5 390.0L1107.1 390.7L1107.7 389.4L1108.3 388.7L1108.9 390.6L1109.5 387.7L1110.1 389.6L1110.7 391.0L1111.3 391.1L1111.9 381.0L1112.5 385.8L1113.0 384.7L1113.6 382.5L1114.2 384.5L1114.8 385.1L1115.4 378.3L1116.0 381.1L1116.6 375.8L1117.2 377.6L1117.8 376.0L1118.4 379.5L1119.0 379.5L1119.6 378.3L1120.2 374.2L1120.8 375.1L1121.4 373.7L1122.0 371.9L1122.6 367.2L1123.2 367.7L1123.8 373.3L1124.3 369.1L1124.9 363.7L1125.5 365.2L1126.1 362.4L1126.7 361.6L1127.3 363.2L1127.9 361.6L1128.5 358.3L1129.1 362.0L1129.7 365.4L1130.3 360.2L1130.9 358.9L1131.5 358.0L1132.1 356.1L1132.7 356.0L1133.3 354.0L1133.9 355.4L1134.5 359.2L1135.1 353.3L1135.7 357.4L1136.3 353.1L1136.9 353.6L1137.5 351.4L1138.1 349.8L1138.7 353.7L1139.3 350.2L1139.9 345.7L1140.5 346.0L1141.1 346.1L1141.7 347.0L1142.3 344.4L1142.9 342.6L1143.5 342.3L1144.1 348.0L1144.7 344.9L1145.3 345.3L1145.9 344.8L1146.5 337.0L1147.1 339.9L1147.7 341.0L1148.3 338.0L1148.9 337.6L1149.5 337.9L1150.1 337.1L1150.7 332.1L1151.3 330.2L1151.9 331.5L1152.5 328.5L1153.1 330.3L1153.7 327.0L1154.3 326.9L1154.9 331.3L1155.5 326.2L1156.1 330.2L1156.7 326.7L1157.3 329.8L1157.9 326.4L1158.5 328.5L1159.1 323.5L1159.7 322.6L1160.3 326.6L1160.9 323.5L1161.5 320.3L1162.1 323.6L1162.7 321.5L1163.3 319.9L1163.9 313.3L1164.5 320.6L1165.1 312.4L1165.6 310.8L1166.2 313.0L1166.8 310.8L1167.4 310.4L1168.0 311.9L1168.6 311.3L1169.2 312.1L1169.8 313.1L1170.4 310.7L1171.0 311.5L1171.6 306.6L1172.2 303.1L1172.8 307.6L1173.4 309.4L1174.0 300.9L1174.6 304.2L1175.2 301.3L1175.8 306.1L1176.4 296.3L1177.0 299.7L1177.6 297.8L1178.2 297.1L1178.8 299.8L1179.4 292.0L1180.0 293.8L1180.6 299.5L1181.1 293.9L1181.7 288.8L1182.3 293.5L1182.9 293.0L1183.5 294.6L1184.1 293.3L1184.7 293.0L1185.3 285.7L1185.9 285.2L1186.5 287.9L1187.1 283.7L1187.7 283.0L1188.3 279.0L1188.9 279.5L1189.5 278.0L1190.1 279.4L1190.7 281.5L1191.2 275.8L1191.8 275.8L1192.4 273.0L1193.0 275.1L1193.6 275.9L1194.2 275.1L1194.8 274.6L1195.4 272.7L1196.0 273.3L1196.6 273.3L1197.2 272.8L1197.8 264.0L1198.4 271.8L1199.0 266.7L1199.6 270.6L1200.2 267.5L1200.8 263.7L1201.3 258.9L1201.9 258.4L1202.5 264.0L1203.1 255.7L1203.7 255.1L1204.3 260.6L1204.9 258.8L1205.5 258.5L1206.1 251.9L1206.7 260.2L1207.3 257.5L1207.9 249.5L1208.5 254.5L1209.1 251.4L1209.7 249.9L1210.3 253.2L1210.9 256.5L1211.5 245.9L1212.1 253.4L1212.7 254.2L1213.3 244.6L1213.8 252.7L1214.4 242.6L1215.0 245.3L1215.6 241.5L1216.2 242.5L1216.8 241.9L1217.4 245.6L1218.0 243.6L1218.6 248.9L1219.2 246.1L1219.8 237.9L1220.4 237.4L1221.0 239.3L1221.5 244.9L1222.1 244.3L1222.7 244.3L1223.3 244.2L1223.9 242.2L1224.5 239.7L1225.1 242.5L1225.6 241.9L1226.2 241.4L1226.8 241.7L1227.4 237.0L1228.0 231.2L1228.6 237.2L1229.2 237.7L1229.7 240.3L1230.3 237.3L1230.9 238.7L1231.5 238.5L1232.1 230.8L1232.7 237.8L1233.1 224.9L1233.6 214.7L1234.1 224.2L1234.5 234.3L1235.1 232.6L1235.7 236.0L1236.3 229.4L1236.9 231.2L1237.4 233.4L1238.0 237.0L1238.6 233.3L1239.2 230.4L1239.8 227.4L1240.3 230.6L1240.9 233.5L1241.5 221.0L1242.1 225.3L1242.7 223.3L1243.2 229.2L1243.8 227.2L1244.4 217.9L1245.0 229.1L1245.6 222.1L1246.1 217.9L1246.7 216.8L1247.3 215.9L1247.9 217.8L1248.5 215.0L1249.1 222.7L1249.6 214.7L1250.2 218.1L1250.8 220.5L1251.4 217.1L1252.0 214.6L1252.6 216.2L1253.2 215.8L1253.7 216.8L1254.3 216.5L1254.9 212.3L1255.5 216.6L1256.1 218.4L1256.7 219.7L1257.3 215.0L1257.8 210.6L1258.4 206.6L1259.0 212.2L1259.6 219.5L1260.2 219.3L1260.8 215.5L1261.4 208.6L1261.9 208.6L1262.5 207.9L1263.1 211.4L1263.7 218.1L1264.3 208.2L1264.9 216.1L1265.5 212.5L1266.0 207.9L1266.6 209.5L1267.2 203.4L1267.8 210.2L1268.4 212.9L1269.0 204.4L1269.6 212.0L1270.1 202.2L1270.7 202.2L1271.3 205.9L1271.9 198.6L1272.5 195.5L1273.1 200.7L1273.7 199.7L1274.2 194.5L1274.8 193.8L1275.4 193.8L1275.9 195.7L1276.5 195.9L1277.1 203.4L1277.6 207.3L1278.2 204.3L1278.8 200.2L1279.3 205.3L1279.9 211.4L1280.4 204.3L1281.0 208.8L1281.5 198.8L1282.1 208.4L1282.6 209.2L1283.1 204.6L1283.7 208.9L1284.2 204.5L1284.8 208.5L1285.3 206.1L1285.9 206.3L1286.4 206.3L1287.0 211.7L1287.6 214.6L1288.2 205.1L1288.8 213.7L1289.4 205.4L1290.0 213.6L1290.6 214.8L1291.2 217.6L1291.8 214.3L1292.4 214.4L1293.0 215.0L1293.6 215.1L1294.1 216.3L1294.7 217.0L1295.3 220.2L1295.9 214.6L1296.4 223.4L1297.0 214.3L1297.6 213.3L1298.2 214.3L1298.7 221.8L1299.3 226.8L1299.9 218.1L1300.5 229.1L1301.1 224.9L1301.6 231.8L1302.2 229.9L1302.7 245.5L1303.3 243.2L1303.9 277.7L1304.3 301.5L1304.8 312.6L1305.3 327.6L1305.7 337.1L1306.2 334.7L1306.7 343.5L1307.1 350.8L1307.6 356.7L1308.1 369.4L1308.5 379.0L1309.0 380.4L1309.5 389.6L1310.0 398.5L1310.4 403.4L1311.0 398.5L1311.5 406.3L1312.1 397.9L1312.7 407.2L1313.2 398.4L1313.8 402.4L1314.4 400.5L1314.9 407.5L1315.5 402.5L1316.0 410.0L1316.6 405.2L1317.1 413.0L1317.6 411.7L1318.2 410.3L1318.7 409.2L1319.3 418.4L1319.8 412.0L1320.4 416.8L1320.9 427.6L1321.5 430.1L1322.0 431.0L1322.6 432.8L1323.1 436.4L1323.7 437.1L1324.2 437.8L1324.7 437.6L1325.3 433.9L1325.8 439.2L1326.3 435.3L1326.9 442.0L1327.5 439.4L1328.0 445.6L1328.6 456.9L1329.2 453.7L1329.7 454.0L1330.3 464.5L1330.8 464.9L1331.4 466.1L1332.0 463.9L1332.5 457.6L1333.1 461.8L1333.7 460.9L1334.2 455.3L1334.8 456.5L1335.4 462.2L1335.9 459.4L1336.5 461.1L1337.1 465.4L1337.7 453.9L1338.2 454.8L1338.8 465.3L1339.4 453.6L1340.0 456.7L1340.5 458.8L1341.1 454.7L1341.7 456.0L1342.3 452.8L1342.8 461.6L1343.4 454.2L1344.0 461.1L1344.6 457.9L1345.2 458.8L1345.7 453.4L1346.3 464.4L1346.9 453.2L1347.5 464.7L1348.0 453.8L1348.6 458.9L1349.2 460.0L1349.8 462.5L1350.4 458.4L1350.9 468.5L1351.5 460.4L1352.1 459.2L1352.7 466.5L1353.3 465.9L1353.9 465.7L1354.4 470.7L1355.0 470.3L1355.6 463.1L1356.2 471.4L1356.8 471.8L1357.4 461.2L1358.0 467.7L1358.5 472.9L1359.1 467.2L1359.7 467.2L1360.2 470.1L1360.8 475.7L1361.3 465.6L1361.9 475.0L1362.4 476.5L1363.0 481.2L1363.6 478.5L1364.2 474.9L1364.8 481.3L1365.3 483.8L1365.9 477.3L1366.5 487.3L1367.1 486.3L1367.7 527.4L1368.1 540.7L1368.5 552.7L1369.0 559.0L1369.5 564.7L1370.1 568.4L1370.7 578.1L1371.2 582.4L1371.8 593.0L1372.3 588.9L1372.9 591.7L1373.4 599.2L1373.9 605.2L1374.5 603.6L1375.0 600.4L1375.5 614.3L1376.1 610.0L1376.6 615.2L1377.1 613.6L1377.7 616.1L1378.2 615.5L1378.7 615.1L1379.3 617.2L1379.9 614.4L1380.4 618.1L1381.0 617.0L1381.6 606.8L1382.2 610.7L1382.7 616.5L1383.3 612.7L1383.9 611.7L1384.5 608.7L1385.0 604.0L1385.6 608.2L1386.2 602.4L1386.8 604.2L1387.4 607.7L1388.0 607.1L1388.5 609.2L1389.1 608.3L1389.7 610.1L1390.3 607.2L1390.9 609.8L1391.5 599.4L1392.1 604.6L1392.7 610.5L1393.3 607.5L1393.9 608.3L1394.5 609.7L1395.1 598.6L1395.6 602.6L1396.2 607.4L1396.8 599.6L1397.4 601.8L1398.0 597.0L1398.6 595.1L1399.2 605.8L1399.8 603.1L1400.4 603.2L1401.0 604.4L1401.6 599.5L1402.2 602.9L1402.7 601.7L1403.3 597.0L1403.9 596.8L1404.5 592.9L1405.1 595.6L1405.7 600.6L1406.3 589.5L1406.9 601.1L1407.5 590.9L1408.1 594.5L1408.7 591.4L1409.3 587.5L1409.8 595.0L1410.4 589.0L1411.0 591.7L1411.6 597.1L1412.2 591.8L1412.8 590.2L1413.3 587.2L1413.9 585.4L1414.5 595.6L1415.1 591.1L1415.7 588.5L1416.3 594.3L1416.9 591.0L1417.4 586.8L1418.0 596.2L1418.6 588.7L1419.2 588.4L1419.7 597.8L1420.3 591.1L1420.9 592.5L1421.4 598.0L1422.0 596.4L1422.6 591.9L1423.1 590.0L1423.7 590.9L1424.2 592.7L1424.8 601.7L1425.3 597.9L1425.8 601.0L1426.4 598.9L1426.9 596.7L1427.5 610.2L1428.0 607.1L1428.6 607.4L1429.2 606.6L1429.7 599.0L1430.3 609.2L1430.9 609.8L1431.5 601.3L1432.1 609.6L1432.7 611.0L1433.3 600.6L1433.8 610.3L1434.4 598.9L1435.0 608.2L1435.6 611.2L1436.2 600.2L1436.8 604.2L1437.4 598.6L1437.9 605.6L1438.5 599.5L1439.1 605.5L1439.7 601.7L1440.3 602.0L1440.9 608.5L1441.5 603.1L1442.0 602.2L1442.6 604.2L1443.2 605.6L1443.8 609.8L1444.4 608.8L1445.0 609.0L1445.6 610.7L1446.1 605.4L1446.7 611.0L1447.3 603.1L1447.9 603.7L1448.5 610.2L1449.1 611.6L1449.6 606.9L1450.2 616.4L1450.8 605.2L1451.4 614.6L1452.0 611.3L1452.6 612.2L1453.2 610.2L1453.7 605.7L1454.3 610.9L1454.9 614.3L1455.5 615.4L1456.1 616.6L1456.7 609.9L1457.3 612.8L1457.8 607.7L1458.4 612.0L1459.0 611.9L1459.6 617.0L1460.2 607.8L1460.8 607.4L1461.4 615.1L1461.9 617.4L1462.5 608.0L1463.1 616.2L1463.7 609.3L1464.3 618.7L1464.9 616.0L1465.5 610.4L1466.0 612.9L1466.6 619.2L1467.2 620.9L1467.8 609.1L1468.4 614.5L1469.0 610.6L1469.6 622.0L1470.1 622.1L1470.7 615.3L1471.3 621.2L1471.9 613.6L1472.5 621.6L1473.1 613.1L1473.7 615.0L1474.2 618.2L1474.8 621.2L1475.4 618.2L1475.9 614.0L1476.5 613.5L1477.1 615.8L1477.6 618.0L1478.2 623.4L1478.8 617.8L1479.3 627.9L1479.9 625.0L1480.4 621.1L1480.9 628.3L1481.4 635.7L1481.9 631.7L1482.3 640.8L1482.8 654.5L1483.3 671.0L1483.7 682.9L1484.2 689.0L1484.7 706.7L1485.1 705.1L1485.6 717.4L1486.1 717.9L1486.5 733.3L1487.0 740.3L1487.6 740.6L1488.2 739.6L1488.8 742.9L1489.3 738.3L1489.9 743.1L1490.5 736.0L1491.1 734.5L1491.7 736.3L1492.3 738.6L1492.9 743.7L1493.5 743.7L1494.1 737.6L1494.6 743.9L1495.2 745.6L1495.8 739.1L1496.4 743.1L1497.0 737.9L1497.6 739.4L1498.2 737.0L1498.8 738.6L1499.4 735.5L1500.0 739.7L1500.6 745.2L1501.2 737.2L1501.7 737.7L1502.3 746.9L1502.9 739.7L1503.5 738.4L1504.1 737.5L1504.7 735.9L1505.3 747.1L1505.9 745.2L1506.4 748.5L1507.0 747.5L1507.6 744.2L1508.2 748.6L1508.8 739.6L1509.4 745.9L1510.0 747.2L1510.5 738.6L1511.1 748.9L1511.7 749.7L1512.3 739.8L1512.9 739.0L1513.5 738.1L1514.1 739.1L1514.6 741.0L1515.2 746.9L1515.8 739.2L1516.4 739.1L1517.0 745.0L1517.6 746.5L1518.1 735.8L1518.7 746.1L1519.3 744.5L1519.9 739.5L1520.5 741.5L1521.1 735.9L1521.7 740.9L1522.2 735.0L1522.8 744.8L1523.4 741.7L1524.0 737.1L1524.6 737.6L1525.2 742.4L1525.8 738.5L1526.3 744.7L1526.9 742.3L1527.5 744.6L1528.1 736.0L1528.7 737.1L1529.3 746.7L1529.9 743.8L1530.4 739.8L1531.0 747.3L1531.6 734.7L1532.2 741.8L1532.8 735.3L1533.4 737.5L1534.0 736.0L1534.5 738.2L1535.1 733.6L1535.7 735.1L1536.3 741.5L1536.9 734.6L1537.5 738.7L1538.1 744.9L1538.6 742.1L1539.2 733.0L1539.8 741.2L1540.4 739.0L1541.0 738.4L1541.6 741.9L1542.2 744.0L1542.7 736.1L1543.3 742.2L1543.9 734.0L1544.5 738.6L1545.1 743.0L1545.7 741.7L1546.3 735.9L1546.8 743.0L1547.4 739.0L1548.0 743.1L1548.6 741.9L1549.2 737.2L1549.8 736.0L1550.3 734.9L1550.8 746.8L1551.4 738.6L1551.9 739.9L1552.4 744.7L1553.0 744.4L1553.5 747.5L1554.1 755.5L1554.6 752.5L1555.2 761.3L1555.8 757.0L1556.3 765.2L1556.9 766.6L1557.4 761.0L1558.0 766.9L1558.6 770.2L1559.1 765.4L1559.7 765.3L1560.3 778.0L1560.8 768.4L1561.4 772.4L1561.9 773.3L1562.5 784.4L1563.1 783.6L1563.6 783.4L1564.2 784.9L1564.8 792.7L1565.3 786.8L1565.8 799.0L1566.3 796.0L1566.8 799.7L1567.3 809.3L1567.9 833.8L1567.9 858.5L1568.3 864.3L1568.8 860.3L1569.2 869.1L1569.8 869.6L1570.3 875.6L1570.9 875.4L1571.5 871.2L1572.0 871.0L1572.6 876.5L1573.1 876.3L1573.7 867.5L1574.3 878.0L1574.8 879.1L1575.4 872.2L1576.0 878.0L1576.6 876.2L1577.1 874.0L1577.7 872.1L1578.3 879.2L1578.9 882.4L1579.4 878.9L1580.0 882.6L1580.6 877.3L1581.2 886.6L1581.7 886.1L1582.3 883.6L1582.9 878.3L1583.5 876.8L1584.1 882.0L1584.7 879.9L1585.2 877.0L1585.8 880.5L1586.4 888.5L1587.0 883.0L1587.6 885.0L1588.2 881.6L1588.8 879.8L1589.3 877.8L1589.9 883.0L1590.5 884.5L1591.1 882.2L1591.7 881.3L1592.3 883.0L1592.9 877.9L1593.4 887.5L1594.0 886.6L1594.6 877.3L1595.2 886.5L1595.8 884.5L1596.4 875.6L1597.0 885.4L1597.5 885.9L1598.1 879.1L1598.7 877.8L1599.3 881.6L1599.9 875.7L1600.5 877.1L1601.1 884.5L1601.6 881.1L1602.2 882.3L1602.7 890.0L1603.3 889.5L1603.9 883.8L1604.4 881.5L1605.0 882.3L1605.6 891.4L1606.1 890.9L1606.7 897.6L1607.2 892.2L1607.8 893.8L1608.4 896.8L1608.9 893.5L1609.5 893.9L1610.0 892.7L1610.6 895.0L1611.2 898.3L1611.7 896.0L1612.3 900.0L1612.9 895.3L1613.5 898.6L1614.1 896.0L1614.6 898.1L1615.2 900.9L1615.8 892.3L1616.4 891.4L1617.0 894.0L1617.6 894.3L1618.1 893.3L1618.7 898.9L1619.3 897.6L1619.9 897.7L1620.5 902.0L1621.1 893.5L1621.7 904.2L1622.2 902.8L1622.8 896.2L1623.3 903.1L1623.9 904.8L1624.5 893.9L1625.0 898.9L1625.6 904.1L1626.2 899.4L1626.7 897.7L1627.3 899.6L1627.8 900.4L1628.4 906.9L1628.9 904.8L1629.4 903.6L1630.0 912.8L1630.5 905.1L1631.0 908.6L1631.6 915.2L1632.2 918.1L1632.7 912.6L1633.3 914.0L1633.8 918.9L1634.3 919.9L1634.8 922.2L1635.2 924.4L1635.7 925.8"/>
<path class="tr" stroke="#0000ff" d="M320.6 1535.3L321.2 1534.4L321.8 1533.5L322.4 1532.6L323.0 1531.7L323.6 1530.8L324.2 1530.0L324.8 1529.1L325.4 1528.2L326.0 1527.3L326.6 1526.4L327.2 1525.5L327.8 1524.6L328.4 1523.7L329.0 1522.8L329.6 1521.9L330.2 1521.0L330.8 1520.1L331.4 1519.3L332.0 1518.4L332.6 1517.5L333.2 1516.6L333.8 1515.7L334.4 1514.8L335.0 1513.9L335.6 1513.0L336.2 1512.1L336.8 1511.2L337.4 1510.3L338.0 1509.5L338.6 1508.6L339.2 1507.7L339.8 1506.8L340.4 1505.9L341.0 1505.0L341.6 1504.1L342.2 1503.2L342.8 1502.3L343.4 1501.4L344.0 1500.5L344.6 1499.6L345.2 1498.8L345.8 1497.9L346.4 1497.0L347.0 1496.1L347.6 1495.2L348.2 1494.3L348.8 1493.4L349.4 1492.5L350.0 1491.6L350.6 1490.7L351.2 1489.8L351.8 1489.0L352.4 1488.1L353.0 1487.2L353.6 1486.3L354.2 1485.4L354.8 1484.5L355.4 1483.6L356.0 1482.7L356.6 1481.8L357.2 1480.9L357.8 1480.0L358.4 1479.1L359.0 1478.3L359.6 1477.4L360.2 1476.5L360.8 1475.6L361.4 1474.7L362.0 1473.8L362.6 1472.9L363.2 1472.0L363.8 1471.1L364.4 1470.2L365.0 1469.3L365.6 1468.5L366.2 1467.6L366.8 1466.7L367.4 1465.8L368.0 1464.9L368.6 1464.0L369.2 1463.1L369.8 1462.2L370.4 1461.3L371.0 1460.4L371.6 1459.5L372.2 1458.6L372.8 1457.8L373.4 1456.9L374.0 1456.0L374.6 1455.1L375.2 1454.2L375.8 1453.3L376.4 1452.4L377.0 1451.5L377.6 1450.6L378.2 1449.7L378.8 1448.8L379.4 1448.0L380.0 1447.1L380.6 1446.2L381.2 1445.3L381.8 1444.4L382.4 1443.5L383.0 1442.6L383.6 1441.7L384.2 1440.8L384.8 1439.9L385.4 1439.0L386.0 1438.1L386.6 1437.3L387.2 1436.4L387.8 1435.5L388.4 1434.6L389.0 1433.7L389.6 1432.8L390.2 1431.9L390.8 1431.0L391.4 1430.1L392.0 1429.2L392.6 1428.3L393.2 1427.5L393.8 1426.6L394.4 1425.7L395.0 1424.8L395.6 1423.9L396.2 1423.0L396.8 1422.1L397.4 1421.2L398.0 1420.3L398.6 1419.4L399.2 1418.5L399.8 1417.7L400.4 1416.8L401.0 1415.9L401.6 1415.0L402.2 1414.1L402.8 1413.2L403.4 1412.3L404.0 1411.4L404.6 1410.5L405.2 1409.6L405.8 1408.7L406.4 1407.8L407.0 1407.0L407.6 1406.1L408.2 1405.2L408.8 1404.3L409.4 1403.4L410.0 1402.5L410.6 1401.6L411.2 1400.7L411.8 1399.8L412.4 1398.9L413.0 1398.0L413.6 1397.2L414.2 1396.3L414.8 1395.4L415.4 1394.5L416.0 1393.6L416.6 1392.7L417.2 1391.8L417.8 1390.9L418.4 1390.0L419.0 1389.1L419.6 1388.2L420.2 1387.3L420.8 1386.5L421.4 1385.6L422.0 1384.7L422.6 1383.8L423.2 1382.9L423.8 1382.0L424.4 1381.1L425.0 1380.2L425.6 1379.3L426.2 1378.4L426.8 1377.5L427.4 1376.7L428.0 1375.8L428.6 1374.9L429.2 1374.0L429.8 1373.1L430.4 1372.2L431.0 1371.3L431.6 1370.4L432.2 1369.5L432.8 1368.6L433.4 1367.7L434.0 1366.8L434.6 1366.0L435.2 1365.1L435.8 1364.2L436.4 1363.3L437.0 1362.4L437.6 1361.5L438.2 1360.6L438.8 1359.7L439.4 1358.8L440.0 1357.9L440.6 1357.0L441.2 1356.2L441.8 1355.3L442.4 1354.4L443.0 1353.5L443.6 1352.6L444.2 1351.7L444.8 1350.8L445.4 1349.9L446.0 1349.0L446.6 1348.1L447.2 1347.2L447.8 1346.3L448.4 1345.5L449.0 1344.6L449.6 1343.7L450.2 1342.8L450.8 1341.9L451.4 1341.0L452.0 1340.1L452.6 1339.2L453.2 1338.3L453.8 1337.4L454.4 1336.5L455.0 1335.7L455.6 1334.8L456.2 1333.9L456.8 1333.0L457.4 1332.1L458.0 1331.2L458.6 1330.3L459.2 1329.4L459.8 1328.5L460.4 1327.6L461.0 1326.7L461.6 1325.8L462.2 1325.0L462.8 1324.1L463.4 1323.2L464.0 1322.3L464.6 1321.4L465.2 1320.5L465.8 1319.6L466.4 1318.7L467.0 1317.8L467.6 1316.9L468.2 1316.0L468.8 1315.2L469.4 1314.3L470.0 1313.4L470.6 1312.5L471.2 1311.6L471.8 1310.7L472.4 1309.8L473.0 1308.9L473.6 1308.0L474.2 1307.1L474.8 1306.2L475.4 1305.3L476.0 1304.5L476.6 1303.6L477.2 1302.7L477.8 1301.8L478.4 1300.9L479.0 1300.0L479.6 1299.2L480.2 1298.4L480.8 1297.6L481.4 1296.7L482.0 1295.9L482.6 1295.1L483.2 1294.3L483.8 1293.5L484.4 1292.7L485.0 1291.9L485.6 1291.1L486.2 1290.2L486.8 1289.4L487.4 1288.6L488.0 1287.8L488.6 1287.0L489.2 1286.2L489.8 1285.4L490.4 1284.6L491.0 1283.7L491.6 1282.9L492.2 1282.1L492.8 1281.3L493.4 1280.5L494.0 1279.7L494.6 1278.9L495.2 1278.0L495.8 1277.2L496.4 1276.4L497.0 1275.6L497.6 1274.8L498.2 1274.0L498.8 1273.2L499.4 1272.4L500.0 1271.5L500.6 1270.7L501.2 1269.9L501.8 1269.1L502.4 1268.3L503.0 1267.5L503.6 1266.7L504.2 1265.9L504.8 1265.0L505.4 1264.2L506.0 1263.4L506.6 1262.6L507.1 1261.8L507.7 1261.0L508.3 1260.4L508.9 1260.3L509.5 1257.6L510.1 1258.6L510.7 1259.5L511.3 1259.3L511.9 1252.4L512.5 1256.0L513.1 1255.0L513.7 1252.9L514.3 1257.6L514.9 1251.6L515.5 1249.7L516.1 1254.9L516.7 1250.4L517.3 1245.6L517.9 1244.9L518.5 1246.3L519.1 1240.2L519.7 1246.0L520.3 1246.7L520.9 1242.2L521.5 1246.4L522.1 1246.6L522.7 1241.3L523.3 1242.0L523.9 1234.4L524.5 1232.9L525.1 1243.2L525.7 1234.0L526.3 1232.3L526.9 1239.7L527.5 1237.1L528.1 1228.8L528.7 1230.4L529.3 1228.6L529.9 1228.2L530.5 1224.2L531.1 1229.6L531.7 1226.1L532.3 1226.4L532.9 1223.1L533.5 1221.3L534.1 1219.6L534.7 1228.9L535.3 1226.5L535.9 1223.5L536.5 1217.4L537.1 1216.9L537.7 1215.8L538.3 1217.3L538.9 1213.4L539.5 1215.2L540.1 1213.5L540.7 1212.6L541.3 1217.3L541.9 1214.1L542.5 1213.5L543.1 1211.3L543.7 1212.7L544.3 1214.8L544.9 1208.3L545.5 1204.6L546.1 1208.7L546.7 1206.7L547.3 1210.7L547.9 1201.8L548.5 1210.2L549.1 1199.1L549.7 1204.6L550.3 1202.6L550.9 1200.2L551.5 1206.3L552.1 1203.2L552.7 1196.0L553.3 1199.1L553.9 1199.7L554.5 1192.0L555.1 1191.8L555.7 1197.2L556.3 1197.9L556.9 1193.9L557.5 1192.6L558.1 1192.8L558.7 1189.0L559.3 1195.6L559.9 1195.8L560.5 1189.2L561.1 1182.9L561.7 1186.6L562.2 1190.6L562.8 1184.1L563.4 1180.6L564.0 1180.8L564.6 1186.3L565.2 1184.4L565.8 1179.5L566.4 1182.8L567.0 1183.6L567.6 1185.3L568.2 1182.8L568.8 1177.3L569.4 1181.0L570.0 1181.5L570.6 1180.0L571.2 1177.8L571.8 1175.0L572.4 1173.3L573.0 1176.6L573.6 1173.0L574.2 1173.4L574.8 1166.7L575.4 1164.2L576.0 1165.5L576.6 1168.5L577.2 1167.5L577.8 1162.2L578.4 1161.3L579.0 1169.6L579.6 1158.3L580.2 1167.7L580.8 1165.1L581.4 1161.9L582.0 1166.1L582.6 1161.5L583.2 1152.6L583.8 1163.0L584.4 1155.9L585.0 1161.1L585.6 1159.1L586.2 1150.1L586.8 1148.1L587.4 1147.1L588.0 1155.4L588.6 1154.7L589.2 1147.1L589.8 1144.9L590.4 1147.2L591.0 1151.6L591.6 1150.0L592.2 1150.7L592.8 1151.1L593.4 1147.8L594.0 1147.9L594.6 1137.3L595.2 1136.4L595.8 1145.8L596.4 1142.1L597.0 1137.8L597.6 1134.6L598.2 1136.2L598.8 1135.5L599.4 1136.5L600.0 1135.2L600.6 1131.4L601.2 1129.1L601.8 1129.8L602.4 1128.1L603.0 1126.9L603.6 1129.9L604.2 1125.6L604.8 1132.9L605.4 1129.0L606.0 1127.2L606.6 1128.5L607.2 1122.8L607.8 1119.5L608.4 1119.3L609.0 1121.6L609.6 1121.1L610.2 1119.0L610.8 1118.8L611.4 1124.3L612.0 1113.6L612.6 1118.1L613.2 1116.5L613.8 1114.5L614.4 1119.0L615.0 1112.1L615.6 1109.1L616.2 1109.7L616.8 1118.7L617.3 1110.3L617.9 1106.8L618.5 1116.2L619.1 1111.5L619.7 1114.4L620.3 1106.1L620.9 1111.0L621.5 1101.0L622.1 1102.5L622.7 1108.4L623.3 1104.3L623.9 1106.7L624.5 1101.1L625.1 1106.1L625.7 1095.7L626.3 1101.5L626.9 1095.4L627.5 1094.8L628.1 1102.2L628.7 1095.9L629.3 1099.7L629.9 1092.5L630.5 1097.1L631.1 1098.4L631.7 1094.2L632.3 1088.7L632.9 1093.1L633.5 1095.7L634.1 1093.0L634.7 1087.9L635.3 1086.6L635.9 1082.2L636.5 1089.4L637.1 1081.3L637.7 1081.2L638.3 1078.1L638.9 1078.9L639.5 1080.7L640.1 1081.0L640.7 1076.6L641.3 1078.8L641.9 1082.0L642.5 1073.2L643.1 1072.9L643.7 1076.7L644.3 1080.5L644.9 1079.8L645.5 1074.8L646.1 1068.3L646.7 1076.8L647.3 1077.5L647.9 1075.5L648.5 1070.3L649.1 1067.7L649.7 1069.3L650.3 1071.0L650.9 1072.6L651.5 1065.8L652.1 1065.1L652.7 1062.0L653.3 1063.9L653.9 1063.1L654.5 1059.2L655.1 1060.5L655.7 1065.1L656.3 1056.2L656.9 1055.6L657.5 1055.4L658.1 1061.2L658.7 1053.7L659.3 1059.2L659.9 1059.6L660.5 1058.2L661.1 1056.5L661.7 1048.4L662.3 1050.6L662.9 1054.3L663.5 1046.5L664.1 1050.0L664.7 1052.4L665.3 1052.4L665.9 1044.5L666.5 1041.0L667.1 1039.1L667.7 1041.7L668.3 1043.7L668.9 1039.6L669.5 1045.3L670.1 1042.5L670.7 1041.3L671.3 1042.9L671.9 1036.2L672.4 1039.2L673.0 1034.8L673.6 1033.2L674.2 1030.3L674.8 1037.6L675.4 1038.1L676.0 1026.9L676.6 1034.3L677.2 1025.6L677.8 1029.1L678.4 1027.1L679.0 1033.3L679.6 1026.8L680.2 1027.0L680.8 1024.3L681.4 1022.3L682.0 1021.3L682.6 1018.3L683.2 1016.9L683.8 1022.6L684.4 1024.0L685.0 1022.4L685.6 1016.6L686.2 1024.6L686.8 1012.8L687.4 1016.3L688.0 1014.3L688.6 1011.6L689.2 1020.2L689.8 1016.4L690.4 1008.6L691.0 1008.3L691.6 1015.1L692.2 1009.0L692.8 1007.4L693.4 1006.5L694.0 1006.0L694.6 1008.4L695.2 1004.2L695.8 1006.8L696.4 999.6L697.0 1004.5L697.6 1004.3L698.2 1000.3L698.8 1006.0L699.4 1006.0L700.0 1001.9L700.6 998.1L701.2 994.3L701.8 999.0L702.4 994.1L703.0 991.8L703.6 995.4L704.2 990.6L704.8 995.0L705.4 995.6L706.0 985.8L706.6 992.4L707.2 986.3L707.8 987.2L708.4 991.0L709.0 993.1L709.6 984.4L710.2 988.9L710.8 983.2L711.4 989.5L712.0 979.4L712.6 984.5L713.2 976.7L713.8 981.6L714.4 982.9L715.0 984.1L715.6 981.5L716.2 978.1L716.8 975.5L717.3 977.4L717.9 976.8L718.5 975.5L719.1 975.9L719.7 975.5L720.3 976.9L720.9 972.3L721.5 974.5L722.1 972.1L722.7 966.9L723.3 971.1L723.9 965.1L724.5 969.8L725.1 969.6L725.7 968.9L726.3 968.3L726.9 964.8L727.5 961.7L728.1 958.3L728.7 961.7L729.3 963.9L729.9 956.7L730.5 954.0L731.1 959.8L731.7 960.8L732.3 951.5L732.9 949.9L733.5 948.7L734.1 953.1L734.7 955.7L735.3 947.8L735.9 953.5L736.5 943.8L737.1 944.9L737.7 948.1L738.3 949.8L738.9 945.8L739.5 947.3L740.1 942.5L740.7 941.9L741.3 942.8L741.9 935.7L742.5 937.3L743.1 938.2L743.7 941.1L744.3 934.7L744.9 934.5L745.5 942.6L746.1 937.7L746.7 934.0L747.3 937.6L747.9 936.0L748.5 936.3L749.1 932.4L749.7 932.2L750.2 925.2L750.8 928.4L751.4 927.1L752.0 924.6L752.6 925.1L753.2 930.5L753.8 921.7L754.4 919.6L755.0 921.4L755.6 918.6L756.2 916.0L756.8 925.8L757.4 920.6L758.0 913.5L758.6 918.8L759.2 913.6L759.8 916.5L760.4 921.2L761.0 920.8L761.6 913.0L762.2 916.8L762.8 912.5L763.4 906.7L764.0 909.7L764.6 913.7L765.2 912.5L765.8 911.0L766.4 913.3L767.0 905.3L767.6 908.3L768.2 908.8L768.8 909.2L769.4 907.8L770.0 907.0L770.6 899.8L771.2 899.5L771.8 901.5L772.4 894.8L773.0 896.1L773.6 896.0L774.2 893.3L774.8 892.2L775.4 896.8L776.0 892.0L776.6 888.2L777.2 896.0L777.8 896.9L778.4 887.7L779.0 892.2L779.6 884.4L780.2 885.1L780.8 883.7L781.4 888.4L782.0 886.6L782.6 888.8L783.2 886.1L783.8 886.4L784.3 886.9L784.9 882.7L785.5 877.7L786.1 876.2L786.7 883.3L787.3 882.1L787.9 879.2L788.5 881.9L789.1 879.4L789.7 874.0L790.3 870.6L790.9 872.6L791.5 877.3L792.1 876.2L792.7 865.3L793.3 864.5L793.9 868.6L794.5 873.1L795.1 871.9L795.7 870.6L796.3 861.0L796.9 861.8L797.5 867.3L798.1 862.7L798.7 860.5L799.3 866.9L799.9 855.5L800.5 859.9L801.1 863.5L801.7 860.7L802.3 861.9L802.9 854.2L803.5 856.6L804.1 860.4L804.7 850.1L805.3 852.6L805.9 858.1L806.5 848.0L807.1 854.0L807.7 852.9L808.3 846.6L808.9 853.9L809.5 850.7L810.1 842.7L810.7 851.3L811.3 849.3L811.9 844.0L812.5 838.2L813.1 845.7L813.7 842.7L814.3 843.6L814.9 835.5L815.5 839.0L816.1 841.8L816.7 840.1L817.2 833.2L817.8 834.1L818.4 834.6L819.0 833.8L819.6 838.8L820.2 837.3L820.8 826.3L821.4 832.2L822.0 826.2L822.6 833.2L823.2 828.7L823.8 831.9L824.4 831.2L825.0 830.6L825.6 821.5L826.2 819.6L826.8 826.4L827.4 822.2L828.0 824.7L828.6 820.3L829.2 819.2L829.8 821.8L830.4 817.0L831.0 817.6L831.6 815.7L832.2 817.8L832.8 810.5L833.4 813.9L834.0 814.3L834.6 814.6L835.2 816.0L835.8 809.6L836.4 815.0L837.0 811.4L837.6 807.2L838.2 808.3L838.8 805.3L839.4 807.6L840.0 800.1L840.6 808.5L841.2 802.0L841.8 797.5L842.4 797.4L843.0 799.3L843.6 797.6L844.2 802.8L844.8 797.2L845.4 802.0L846.0 794.5L846.6 794.3L847.2 799.8L847.8 798.0L848.4 798.0L849.0 788.6L849.6 787.3L850.2 793.0L850.8 788.4L851.3 785.2L851.9 784.3L852.5 785.8L853.1 784.8L853.7 787.6L854.3 790.1L854.9 780.9L855.5 786.5L856.1 783.6L856.7 785.5L857.3 786.0L857.9 784.4L858.5 775.5L859.1 780.9L859.7 780.4L860.3 775.6L860.9 771.2L861.5 777.8L862.1 775.6L862.7 776.1L863.3 775.2L863.9 774.2L864.5 766.4L865.1 774.6L865.7 773.9L866.3 767.0L866.9 770.5L867.5 771.2L868.1 765.3L868.7 763.4L869.3 765.2L869.9 766.2L870.5 761.6L871.1 763.6L871.7 765.3L872.3 758.7L872.9 763.1L873.5 754.7L874.1 758.3L874.7 759.8L875.3 754.7L875.9 752.7L876.5 751.8L877.1 751.8L877.7 751.2L878.3 750.5L878.9 748.0L879.5 750.6L880.1 746.1L880.7 745.6L881.3 746.8L881.9 750.2L882.5 743.2L883.1 741.4L883.7 746.3L884.3 743.6L884.9 738.3L885.5 745.7L886.0 737.3L886.6 740.7L887.2 736.0L887.8 740.8L888.4 735.6L889.0 737.2L889.6 737.9L890.2 736.2L890.8 731.6L891.4 730.6L892.0 732.5L892.6 731.0L893.2 732.0L893.8 725.0L894.4 724.1L895.0 722.7L895.6 729.4L896.2 722.6L896.8 727.2L897.4 723.5L898.0 727.4L898.6 723.5L899.2 724.6L899.8 716.8L900.4 723.4L901.0 717.7L901.6 713.6L902.2 720.5L902.8 713.7L903.4 716.8L904.0 710.0L904.6 713.1L905.2 712.5L905.8 711.5L906.4 714.2L907.0 708.2L907.6 713.2L908.2 705.3L908.8 712.1L909.4 704.8L910.0 707.6L910.6 709.1L911.2 705.9L911.8 706.7L912.4 698.6L913.0 706.1L913.6 696.5L914.2 701.6L914.8 702.1L915.4 700.7L916.0 699.5L916.6 697.5L917.2 700.2L917.8 692.2L918.4 697.8L919.0 696.0L919.6 689.3L920.2 691.0L920.8 689.9L921.4 686.4L922.0 692.1L922.6 691.3L923.1 689.5L923.7 681.9L924.3 687.5L924.9 688.6L925.5 685.7L926.1 686.9L926.7 686.3L927.3 683.0L927.9 682.5L928.5 677.5L929.1 681.1L929.7 675.9L930.3 674.6L930.9 674.4L931.5 673.3L932.1 669.9L932.7 670.1L933.3 670.4L933.9 669.0L934.5 666.3L935.1 672.2L935.7 672.2L936.3 666.7L936.9 669.4L937.5 670.0L938.1 661.3L938.7 665.5L939.3 664.8L939.9 660.0L940.5 666.0L941.1 664.3L941.7 660.9L942.3 660.0L942.9 661.9L943.5 653.8L944.1 660.6L944.7 656.5L945.3 653.5L945.9 652.3L946.5 654.1L947.1 649.1L947.7 655.0L948.3 650.2L948.9 654.0L949.5 653.7L950.1 651.3L950.7 644.0L951.3 644.4L951.9 647.2L952.5 649.3L953.1 645.4L953.7 642.1L954.3 645.4L954.9 641.3L955.5 641.7L956.1 639.5L956.7 643.3L957.3 639.3L957.9 633.7L958.5 637.9L959.1 634.8L959.7 631.7L960.2 633.9L960.8 630.9L961.4 636.5L962.0 628.8L962.6 631.0L963.2 625.0L963.8 627.0L964.4 629.4L965.0 627.1L965.6 627.8L966.2 626.1L966.8 625.6L967.4 621.4L968.0 626.8L968.6 623.4L969.2 616.7L969.8 623.4L970.4 616.3L971.0 617.8L971.6 619.1L972.2 620.6L972.8 612.9L973.4 613.2L974.0 614.4L974.6 615.1L975.2 612.2L975.8 613.6L976.4 615.4L977.0 605.9L977.6 608.2L978.2 611.0L978.8 610.3L979.4 610.7L980.0 604.0L980.6 602.2L981.2 605.2L981.8 605.8L982.4 604.6L983.0 601.2L983.6 596.4L984.2 600.8L984.8 595.7L985.4 592.6L986.0 591.5L986.6 593.7L987.2 593.1L987.8 593.7L988.4 591.9L989.0 591.6L989.6 591.8L990.2 586.6L990.8 591.5L991.4 589.3L992.0 589.7L992.6 586.4L993.2 585.3L993.8 587.1L994.4 584.5L995.0 579.9L995.6 584.6L996.2 577.3L996.8 577.1L997.4 581.4L998.0 576.9L998.6 573.2L999.2 579.2L999.8 575.5L1000.4 569.1L1001.0 571.2L1001.6 570.3L1002.2 568.7L1002.8 571.9L1003.4 566.4L1004.0 564.1L1004.6 570.4L1005.2 566.8L1005.8 564.9L1006.4 567.9L1007.0 565.0L1007.6 565.7L1008.2 559.9L1008.8 558.6L1009.4 558.0L1010.0 558.3L1010.6 558.4L1011.2 553.9L1011.8 556.4L1012.4 559.0L1013.0 556.2L1013.6 548.3L1014.2 551.8L1014.8 552.3L1015.4 546.0L1016.0 553.8L1016.6 551.0L1017.2 547.9L1017.8 546.6L1018.4 546.7L1019.0 543.5L1019.6 544.3L1020.2 542.7L1020.8 540.3L1021.4 540.5L1022.0 535.7L1022.6 539.9L1023.2 535.5L1023.8 534.8L1024.4 532.8L1025.0 537.5L1025.6 533.8L1026.2 534.0L1026.8 532.4L1027.4 532.2L1028.0 529.1L1028.6 527.2L1029.2 531.1L1029.8 529.7L1030.4 523.4L1031.0 522.4L1031.6 523.4L1032.2 526.6L1032.8 521.1L1033.4 519.4L1034.0 520.4L1034.6 520.1L1035.2 520.4L1035.8 516.5L1036.4 516.4L1037.0 520.9L1037.6 517.9L1038.2 511.9L1038.8 513.6L1039.4 509.3L1040.0 516.2L1040.6 508.5L1041.2 513.8L1041.8 506.2L1042.4 505.3L1043.0 505.5L1043.6 504.4L1044.2 503.6L1044.8 503.2L1045.4 502.4L1046.0 498.6L1046.6 502.6L1047.2 502.2L1047.8 496.9L1048.4 495.1L1048.9 493.2L1049.5 493.7L1050.1 495.9L1050.7 496.0L1051.3 498.0L1051.9 495.9L1052.5 488.8L1053.1 488.8L1053.7 487.2L1054.3 485.1L1054.9 483.8L1055.5 487.7L1056.1 490.6L1056.7 489.9L1057.3 480.0L1057.9 481.2L1058.5 481.2L1059.1 485.0L1059.7 477.0L1060.3 479.2L1060.9 482.3L1061.5 480.5L1062.1 473.9L1062.7 476.2L1063.3 476.8L1063.9 470.6L1064.5 476.6L1065.1 473.9L1065.7 470.1L1066.3 468.8L1066.9 465.6L1067.5 472.3L1068.1 464.7L1068.7 467.4L1069.3 467.8L1069.9 466.3L1070.5 467.5L1071.1 461.9L1071.7 465.0L1072.2 460.1L1072.8 464.1L1073.4 463.9L1074.0 460.5L1074.6 462.3L1075.2 461.2L1075.8 454.3L1076.3 455.6L1076.9 454.9L1077.5 458.8L1078.1 459.4L1078.7 453.1L1079.3 459.0L1079.9 451.5L1080.4 453.1L1081.0 456.4L1081.6 450.4L1082.2 455.2L1082.8 446.9L1083.4 448.6L1084.0 453.1L1084.5 450.7L1085.1 445.1L1085.7 447.9L1086.3 447.6L1086.9 442.2L1087.5 450.1L1088.1 440.7L1088.7 448.3L1089.3 445.3L1089.8 444.0L1090.4 440.5L1091.0 438.5L1091.6 439.9L1092.2 443.4L1092.8 434.5L1093.4 437.2L1094.0 437.5L1094.6 440.1L1095.2 436.7L1095.8 438.2L1096.4 435.0L1097.0 431.6L1097.6 435.5L1098.2 426.2L1098.8 432.0L1099.4 424.2L1100.0 424.0L1100.6 422.8L1101.2 425.7L1101.7 428.1L1102.3 427.2L1102.9 424.7L1103.5 421.5L1104.1 419.9L1104.7 420.6L1105.3 418.5L1105.9 419.4L1106.5 419.8L1107.1 413.7L1107.7 420.7L1108.3 412.4L1108.9 418.5L1109.5 409.6L1110.1 408.6L1110.7 416.7L1111.3 409.9L1111.9 409.6L1112.5 412.3L1113.0 405.0L1113.6 409.1L1114.2 410.7L1114.8 406.2L1115.4 401.0L1116.0 401.3L1116.6 407.3L1117.2 400.0L1117.8 404.0L1118.4 402.5L1119.0 402.9L1119.6 400.8L1120.2 398.9L1120.8 400.6L1121.4 398.9L1122.0 393.4L1122.6 391.1L1123.2 395.1L1123.8 394.1L1124.3 394.1L1124.9 389.7L1125.5 395.5L1126.1 391.0L1126.7 388.5L1127.3 385.4L1127.9 384.7L1128.5 384.7L1129.1 387.8L1129.7 384.4L1130.2 387.4L1130.8 382.0L1131.4 386.1L1132.0 386.5L1132.6 382.8L1133.2 383.2L1133.8 377.7L1134.4 378.5L1135.0 376.9L1135.5 376.3L1136.1 380.9L1136.7 374.1L1137.3 379.2L1137.9 376.2L1138.5 371.0L1139.1 371.8L1139.7 371.0L1140.3 370.4L1140.8 374.2L1141.4 370.5L1142.0 368.4L1142.6 368.4L1143.2 365.3L1143.8 362.5L1144.4 364.1L1145.0 367.3L1145.6 366.4L1146.1 358.9L1146.7 364.3L1147.3 365.2L1147.9 363.7L1148.4 366.4L1149.0 360.0L1149.6 358.4L1150.2 360.3L1150.7 356.5L1151.3 364.1L1151.9 359.9L1152.5 361.6L1153.0 359.9L1153.6 359.9L1154.2 358.2L1154.8 361.8L1155.4 362.4L1156.0 363.3L1156.6 359.1L1157.1 357.9L1157.7 358.6L1158.3 362.0L1158.9 355.9L1159.5 352.7L1160.1 357.1L1160.7 360.2L1161.2 353.2L1161.8 354.9L1162.4 357.3L1163.0 357.1L1163.6 354.0L1164.2 357.8L1164.8 358.2L1165.3 356.8L1165.9 358.2L1166.5 351.0L1167.1 353.4L1167.7 353.1L1168.3 351.8L1168.9 352.8L1169.4 357.3L1170.0 355.3L1170.6 349.9L1171.2 354.4L1171.8 353.8L1172.4 348.9L1173.0 348.8L1173.5 345.7L1174.1 347.7L1174.7 349.3L1175.3 344.6L1175.9 343.2L1176.5 341.5L1177.0 347.3L1177.6 339.5L1178.2 340.2L1178.8 337.2L1179.4 338.6L1180.0 340.2L1180.6 340.0L1181.1 336.2L1181.7 338.9L1182.3 332.2L1182.9 335.3L1183.5 331.7L1184.1 330.0L1184.7 330.6L1185.2 328.2L1185.8 331.5L1186.4 326.5L1187.0 331.0L1187.6 330.6L1188.2 323.3L1188.8 326.0L1189.3 327.9L1189.9 327.2L1190.5 326.3L1191.1 320.0L1191.7 326.2L1192.3 319.8L1192.9 318.1L1193.4 324.3L1194.0 320.7L1194.6 317.8L1195.2 316.6L1195.8 318.3L1196.4 320.2L1197.0 313.7L1197.5 317.6L1198.1 316.4L1198.7 319.7L1199.3 314.8L1199.9 311.7L1200.5 315.4L1201.1 310.3L1201.6 310.0L1202.2 317.3L1202.8 313.7L1203.4 311.3L1204.0 309.6L1204.6 308.6L1205.2 310.9L1205.7 310.6L1206.3 315.4L1206.9 310.4L1207.5 309.2L1208.1 309.9L1208.7 307.5L1209.3 309.3L1209.8 307.4L1210.4 304.8L1211.0 305.8L1211.6 309.3L1212.2 301.4L1212.8 306.2L1213.3 308.9L1213.9 304.6L1214.5 302.5L1215.1 306.2L1215.7 304.0L1216.3 299.0L1216.9 294.6L1217.4 304.0L1218.0 298.1L1218.6 296.0L1219.2 291.8L1219.8 293.5L1220.4 298.7L1221.0 296.6L1221.5 290.9L1222.1 297.1L1222.7 296.8L1223.3 288.1L1223.9 293.6L1224.5 289.6L1225.1 289.5L1225.6 287.8L1226.2 290.1L1226.8 284.1L1227.4 293.9L1228.0 283.5L1228.6 293.0L1229.2 280.6L1229.7 284.7L1230.3 282.3L1230.9 290.5L1231.5 281.9L1232.1 289.4L1232.7 281.0L1233.3 277.1L1233.8 279.7L1234.4 275.1L1235.0 279.8L1235.6 275.0L1236.2 275.1L1236.8 273.5L1237.4 275.1L1237.9 283.2L1238.5 276.6L1239.1 277.2L1239.7 279.2L1240.3 273.3L1240.9 275.7L1241.5 266.5L1242.0 272.6L1242.6 276.0L1243.2 269.1L1243.8 265.3L1244.4 275.2L1245.0 272.8L1245.6 266.0L1246.1 262.7L1246.7 265.5L1247.3 266.2L1247.9 262.7L1248.5 269.8L1249.1 265.3L1249.6 268.0L1250.2 263.6L1250.8 268.4L1251.4 263.7L1252.0 261.3L1252.6 260.5L1253.2 264.7L1253.7 261.0L1254.3 259.4L1254.9 253.7L1255.5 262.5L1256.1 259.1L1256.7 262.5L1257.3 254.2L1257.8 250.8L1258.4 248.1L1259.0 251.1L1259.6 252.6L1260.2 248.6L1260.8 254.1L1261.4 246.4L1261.9 255.3L1262.5 244.5L1263.1 244.2L1263.7 242.6L1264.3 250.8L1264.9 251.3L1265.5 248.1L1266.0 241.4L1266.6 248.6L1267.2 246.1L1267.8 239.5L1268.4 247.3L1269.0 244.8L1269.6 237.6L1270.1 240.4L1270.7 232.7L1271.3 233.4L1271.9 232.3L1272.5 241.3L1273.1 235.8L1273.7 237.1L1274.2 240.5L1274.8 231.5L1275.4 228.0L1276.0 228.1L1276.6 235.5L1277.2 225.8L1277.8 220.6L1278.4 219.4L1279.0 222.0L1279.6 227.2L1280.2 216.9L1280.8 222.6L1281.4 215.6L1282.0 224.7L1282.6 220.7L1283.1 216.8L1283.7 218.9L1284.3 222.6L1284.9 221.8L1285.5 223.4L1286.1 231.0L1286.7 218.4L1287.3 222.1L1287.9 226.7L1288.5 228.3L1289.1 227.5L1289.7 220.4L1290.3 219.7L1290.9 226.2L1291.5 221.5L1292.1 226.1L1292.7 214.6L1293.3 222.7L1293.9 221.6L1294.5 224.6L1295.1 214.3L1295.7 218.5L1296.3 221.3L1296.9 215.6L1297.5 210.7L1298.1 217.6L1298.7 210.3L1299.3 209.8L1299.9 220.3L1300.5 212.8L1301.1 218.8L1301.5 216.5L1302.0 204.0L1302.6 205.0L1303.1 211.8L1303.7 203.9L1304.3 202.8L1304.9 202.5L1305.4 212.6L1306.0 212.8L1306.6 212.3L1307.1 205.7L1307.7 203.6L1308.3 207.4L1308.9 200.6L1309.4 202.8L1310.0 211.9L1310.6 212.8L1311.2 204.5L1311.7 202.4L1312.3 207.3L1312.9 211.2L1313.5 206.8L1314.1 206.3L1314.7 208.1L1315.3 208.8L1315.9 203.3L1316.5 203.8L1317.1 205.8L1317.7 205.7L1318.3 212.6L1318.9 202.1L1319.5 199.9L1320.1 206.9L1320.7 212.5L1321.3 212.1L1321.9 201.6L1322.5 212.9L1323.1 211.7L1323.7 203.3L1324.3 203.0L1324.9 202.5L1325.5 206.3L1326.1 207.3L1326.7 202.7L1327.3 206.6L1327.8 207.4L1328.4 202.9L1328.9 209.9L1329.4 203.3L1330.0 208.2L1330.5 205.1L1331.0 204.9L1331.5 213.2L1332.0 219.0L1332.4 217.9L1332.9 215.4L1333.5 216.7L1334.0 226.4L1334.6 223.0L1335.2 219.9L1335.7 222.0L1336.3 219.5L1336.8 225.9L1337.4 219.0L1338.0 229.9L1338.5 222.8L1339.1 226.5L1339.6 236.2L1340.1 225.8L1340.7 231.2L1341.2 236.5L1341.7 238.2L1342.3 242.4L1342.8 245.2L1343.4 243.5L1344.0 250.7L1344.5 246.6L1345.1 256.8L1345.7 258.8L1346.3 249.5L1346.8 260.8L1347.4 256.7L1348.0 255.0L1348.6 256.8L1349.2 259.8L1349.8 268.4L1350.3 270.4L1350.8 268.7L1351.4 266.4L1351.9 266.7L1352.4 267.1L1353.0 266.7L1353.5 273.1L1354.0 282.2L1354.4 290.8L1354.9 296.7L1355.4 304.9L1355.9 307.8L1356.3 317.2L1356.8 322.6L1357.3 330.0L1357.8 337.2L1358.4 333.9L1358.9 338.7L1359.5 346.7L1360.1 354.8L1360.5 362.4L1361.0 364.5L1361.5 379.3L1361.9 385.9L1362.4 386.8L1362.9 398.7L1363.3 395.2L1363.8 400.7L1364.4 411.2L1365.0 403.4L1365.6 404.6L1366.2 404.6L1366.7 410.6L1367.3 415.3L1367.9 414.3L1368.5 418.8L1369.0 422.5L1369.6 424.0L1370.1 432.5L1370.6 431.9L1371.2 425.7L1371.7 439.4L1372.2 439.5L1372.8 442.1L1373.3 445.1L1373.9 446.9L1374.4 440.7L1374.9 444.7L1375.5 450.0L1376.0 450.0L1376.5 456.0L1377.1 454.3L1377.6 460.4L1378.1 458.8L1378.7 461.0L1379.2 467.6L1379.7 467.8L1379.3 468.2L1379.7 473.9L1380.2 477.8L1380.7 481.8L1381.1 487.1L1381.6 496.6L1382.1 498.0L1382.6 508.1L1383.0 518.9L1383.5 522.1L1384.0 534.7L1384.4 535.1L1384.9 544.4L1385.5 548.1L1386.0 550.2L1386.6 556.2L1387.1 565.2L1387.7 569.3L1388.2 564.2L1388.6 578.9L1389.1 582.3L1389.6 586.2L1390.1 587.1L1390.7 592.8L1391.3 600.0L1391.8 600.8L1392.4 615.4L1393.0 620.5L1393.5 626.5L1394.1 619.5L1394.6 625.5L1395.2 641.0L1395.8 640.4L1396.3 640.7L1396.9 651.3L1397.4 654.1L1398.0 660.3L1398.5 665.2L1398.9 659.5L1399.4 662.9L1399.9 670.7L1400.4 677.1L1400.8 673.7L1401.3 677.1L1401.8 677.9L1402.3 671.8L1402.9 683.5L1403.5 678.8L1404.1 674.6L1404.6 673.2L1405.2 678.0L1405.8 683.1L1406.4 683.5L1406.9 683.4L1407.5 685.5L1408.1 681.7L1408.7 676.7L1409.3 675.9L1409.8 680.7L1410.4 679.4L1411.0 675.9L1411.6 685.6L1412.2 673.8L1412.8 675.4L1413.3 675.4L1413.9 679.5L1414.5 682.2L1415.1 675.5L1415.7 675.4L1416.3 682.0L1416.9 684.4L1417.4 678.8L1418.0 684.3L1418.6 680.2L1419.2 678.9L1419.8 676.3L1420.3 676.0L1420.9 678.1L1421.5 685.5L1422.1 682.4L1422.7 683.7L1423.2 685.7L1423.8 685.4L1424.4 678.7L1425.0 677.1L1425.5 675.2L1426.1 683.9L1426.7 679.1L1427.2 689.2L1427.8 691.7L1428.4 684.7L1428.9 695.5L1429.4 699.9L1429.9 713.8L1430.4 755.6L1430.8 783.9L1430.6 793.9L1431.0 801.3L1431.5 815.9L1432.0 823.8L1432.4 824.9L1433.0 824.6L1433.6 838.1L1434.1 835.3L1434.7 843.5L1435.2 852.3L1435.7 852.9L1436.2 854.5L1436.7 857.5L1437.1 859.5L1437.7 860.5L1438.3 860.0L1438.9 864.2L1439.5 867.6L1440.0 856.6L1440.6 860.0L1441.2 866.3L1441.8 869.4L1442.4 865.7L1442.9 863.5L1443.5 860.9L1444.1 866.0L1444.6 858.1L1445.2 860.5L1445.7 867.8L1446.3 863.8L1446.9 864.6L1447.4 858.7L1448.0 856.9L1448.6 866.4L1449.2 856.7L1449.8 861.3L1450.4 861.9L1450.9 859.1L1451.5 857.6L1452.1 860.2L1452.7 861.8L1453.2 857.0L1453.8 861.7L1454.4 867.9L1454.9 868.1L1455.5 866.4L1456.0 872.4L1456.6 873.8L1457.2 871.7L1457.7 875.3L1458.2 887.4L1458.7 889.5L1459.1 888.5L1459.6 893.6L1460.1 893.5L1460.5 893.7L1461.0 899.0L1461.5 902.3L1462.1 903.9L1462.6 900.8L1463.2 910.9L1463.8 907.3L1464.4 902.5L1465.0 911.9L1465.6 905.7L1466.2 914.1L1466.7 911.2L1467.3 912.5L1467.8 910.5L1468.4 917.2L1469.0 910.0L1469.5 907.8L1470.1 913.7L1470.7 915.9L1471.2 909.9L1471.8 914.0L1472.3 916.5L1472.9 908.4L1473.5 917.9L1474.0 911.1L1474.6 913.2L1475.2 910.3L1475.7 916.7L1476.3 914.3L1476.8 911.6L1477.4 910.6L1477.9 917.0L1478.5 911.6L1479.0 911.2L1479.5 909.2L1480.1 920.9L1480.6 921.6L1481.1 921.4L1481.7 924.6L1482.2 918.1L1482.8 925.1L1483.3 922.2L1483.8 918.2L1484.4 920.3L1484.9 920.7L1485.4 919.9L1486.0 918.4L1486.5 918.5L1487.0 925.5L1487.6 913.1L1488.1 917.6L1488.6 920.8L1489.2 921.7L1489.8 912.2L1490.4 923.0L1491.0 916.8L1491.6 921.6L1492.2 921.4L1492.7 925.0L1493.3 921.1"/>
<path class="tr" stroke="#ff00ff" d="M320.6 1535.3L321.2 1534.4L321.8 1533.4L322.4 1532.5L323.0 1531.6L323.6 1530.7L324.2 1529.7L324.8 1528.8L325.4 1527.9L326.0 1527.0L326.6 1526.0L327.2 1525.1L327.8 1524.2L328.4 1523.3L329.0 1522.3L329.6 1521.4L330.2 1520.5L330.8 1519.6L331.4 1518.6L332.0 1517.7L332.6 1516.8L333.2 1515.8L333.8 1514.9L334.4 1514.0L335.0 1513.1L335.6 1512.1L336.1 1511.2L336.7 1510.3L337.3 1509.4L337.9 1508.4L338.5 1507.5L339.1 1506.6L339.7 1505.7L340.3 1504.7L340.9 1503.8L341.5 1502.9L342.1 1502.0L342.7 1501.0L343.3 1500.1L343.9 1499.2L344.5 1498.2L345.1 1497.3L345.7 1496.4L346.3 1495.5L346.9 1494.5L347.5 1493.6L348.1 1492.7L348.7 1491.8L349.3 1490.8L349.9 1489.9L350.5 1489.0L351.1 1488.1L351.7 1487.1L352.3 1486.2L352.9 1485.3L353.5 1484.3L354.1 1483.4L354.7 1482.5L355.3 1481.6L355.9 1480.6L356.5 1479.7L357.1 1478.8L357.7 1477.9L358.3 1476.9L358.9 1476.0L359.5 1475.1L360.1 1474.2L360.7 1473.2L361.3 1472.3L361.9 1471.4L362.5 1470.5L363.1 1469.5L363.7 1468.6L364.3 1467.7L364.9 1466.7L365.5 1465.8L366.1 1464.9L366.6 1464.0L367.2 1463.0L367.8 1462.1L368.4 1461.2L369.0 1460.3L369.6 1459.3L370.2 1458.4L370.8 1457.5L371.4 1456.6L372.0 1455.6L372.6 1454.7L373.2 1453.8L373.8 1452.9L374.4 1451.9L375.0 1451.0L375.6 1450.1L376.2 1449.1L376.8 1448.2L377.4 1447.3L378.0 1446.4L378.6 1445.4L379.2 1444.5L379.8 1443.6L380.4 1442.7L381.0 1441.7L381.6 1440.8L382.2 1439.9L382.8 1439.0L383.4 1438.0L384.0 1437.1L384.6 1436.2L385.2 1435.3L385.8 1434.3L386.4 1433.4L387.0 1432.5L387.6 1431.5L388.2 1430.6L388.8 1429.7L389.4 1428.8L390.0 1427.8L390.6 1426.9L391.2 1426.0L391.8 1425.1L392.4 1424.1L393.0 1423.2L393.6 1422.3L394.2 1421.4L394.8 1420.4L395.4 1419.5L396.0 1418.6L396.6 1417.7L397.1 1416.7L397.7 1415.8L398.3 1414.9L398.9 1413.9L399.5 1413.0L400.1 1412.1L400.7 1411.2L401.3 1410.2L401.9 1409.3L402.5 1408.4L403.1 1407.5L403.7 1406.5L404.3 1405.6L404.9 1404.7L405.5 1403.8L406.1 1402.8L406.7 1401.9L407.3 1401.0L407.9 1400.0L408.5 1399.1L409.1 1398.2L409.7 1397.3L410.3 1396.3L410.9 1395.4L411.5 1394.5L412.1 1393.6L412.7 1392.6L413.3 1391.7L413.9 1390.8L414.5 1389.9L415.1 1388.9L415.7 1388.0L416.3 1387.1L416.9 1386.2L417.5 1385.2L418.1 1384.3L418.7 1383.4L419.3 1382.4L419.9 1381.5L420.5 1380.6L421.1 1379.7L421.7 1378.7L422.3 1377.8L422.9 1376.9L423.5 1376.0L424.1 1375.0L424.7 1374.1L425.3 1373.2L425.9 1372.3L426.5 1371.3L427.0 1370.4L427.6 1369.5L428.2 1368.6L428.8 1367.6L429.4 1366.7L430.0 1365.8L430.6 1364.8L431.2 1363.9L431.8 1363.0L432.4 1362.1L433.0 1361.1L433.6 1360.2L434.2 1359.3L434.8 1358.4L435.4 1357.4L436.0 1356.5L436.6 1355.6L437.2 1354.7L437.8 1353.7L438.4 1352.8L439.0 1351.9L439.6 1351.0L440.2 1350.0L440.8 1349.1L441.4 1348.2L442.0 1347.2L442.6 1346.3L443.2 1345.4L443.8 1344.5L444.4 1343.5L445.0 1342.6L445.6 1341.7L446.2 1340.8L446.8 1339.8L447.4 1338.9L448.0 1338.0L448.6 1337.1L449.2 1336.1L449.8 1335.2L450.4 1334.3L451.0 1333.3L451.6 1332.4L452.2 1331.5L452.8 1330.6L453.4 1329.6L454.0 1328.7L454.6 1327.8L455.2 1326.9L455.8 1325.9L456.4 1325.0L457.0 1324.1L457.5 1323.2L458.1 1322.2L458.7 1321.3L459.3 1320.4L459.9 1319.5L460.5 1318.5L461.1 1317.6L461.7 1316.7L462.3 1315.7L462.9 1314.8L463.5 1313.9L464.1 1313.0L464.7 1312.0L465.3 1311.1L465.9 1310.2L466.5 1309.3L467.1 1308.3L467.7 1307.4L468.3 1306.5L468.9 1305.6L469.5 1304.6L470.1 1303.7L470.7 1302.8L471.3 1301.9L471.9 1300.9L472.5 1300.0L473.1 1299.2L473.7 1298.3L474.3 1297.5L474.9 1296.7L475.5 1295.8L476.1 1295.0L476.7 1294.2L477.3 1293.3L477.9 1292.5L478.5 1291.6L479.1 1290.8L479.7 1290.0L480.3 1289.1L480.9 1288.3L481.5 1287.5L482.1 1286.6L482.7 1285.8L483.3 1285.0L483.9 1284.1L484.5 1283.3L485.1 1282.5L485.7 1281.6L486.3 1280.8L486.9 1279.9L487.5 1279.1L488.1 1278.3L488.7 1277.4L489.3 1276.6L489.9 1275.8L490.5 1274.9L491.1 1274.1L491.7 1273.3L492.3 1272.4L492.9 1271.6L493.5 1270.8L494.1 1269.9L494.7 1269.1L495.3 1268.2L495.9 1267.4L496.5 1266.6L497.1 1265.7L497.7 1264.9L498.3 1264.1L498.9 1263.2L499.5 1262.4L500.1 1261.6L500.7 1260.6L501.3 1260.0L501.9 1260.3L502.5 1256.7L503.1 1255.7L503.7 1253.2L504.3 1252.5L504.9 1250.1L505.5 1250.3L506.1 1253.4L506.7 1258.2L507.3 1253.9L507.9 1249.2L508.5 1248.7L509.1 1251.3L509.7 1246.1L510.3 1242.2L510.9 1250.6L511.5 1247.1L512.1 1240.2L512.7 1238.9L513.3 1238.3L513.9 1247.8L514.5 1236.8L515.1 1242.2L515.7 1245.5L516.2 1233.4L516.8 1236.8L517.4 1237.1L518.0 1241.5L518.6 1231.9L519.2 1231.9L519.8 1231.0L520.4 1227.7L521.0 1234.4L521.6 1235.3L522.2 1229.9L522.8 1224.3L523.4 1231.5L524.0 1231.0L524.6 1229.1L525.2 1224.4L525.8 1229.6L526.4 1226.4L527.0 1225.0L527.6 1223.6L528.2 1219.1L528.8 1220.9L529.4 1224.1L530.0 1222.0L530.6 1217.1L531.2 1221.9L531.8 1221.3L532.4 1211.0L533.0 1211.5L533.6 1211.4L534.2 1208.1L534.8 1216.1L535.4 1214.0L536.0 1211.9L536.6 1216.5L537.2 1208.0L537.8 1205.3L538.4 1203.4L539.0 1205.3L539.6 1210.5L540.2 1206.9L540.8 1199.5L541.4 1203.1L542.0 1197.6L542.6 1203.7L543.2 1196.9L543.8 1196.7L544.4 1201.4L545.0 1202.9L545.6 1199.5L546.2 1194.7L546.8 1198.1L547.4 1192.8L548.0 1188.8L548.6 1191.2L549.2 1195.3L549.8 1193.7L550.4 1187.7L551.0 1194.6L551.6 1193.7L552.2 1186.2L552.8 1193.6L553.4 1184.3L554.0 1181.1L554.6 1185.7L555.2 1189.1L555.8 1185.0L556.4 1183.6L557.0 1182.0L557.6 1178.8L558.2 1178.1L558.8 1178.5L559.4 1179.4L560.0 1183.3L560.6 1172.0L561.2 1173.4L561.8 1180.8L562.4 1176.5L563.0 1168.7L563.6 1172.3L564.2 1174.0L564.8 1176.3L565.4 1165.5L566.0 1174.5L566.6 1172.1L567.2 1165.3L567.8 1167.5L568.4 1170.2L569.0 1162.4L569.6 1167.0L570.2 1164.5L570.8 1157.8L571.4 1159.4L572.0 1160.2L572.6 1156.1L573.2 1164.9L573.8 1155.8L574.4 1154.7L575.0 1158.3L575.6 1156.6L576.2 1153.3L576.8 1152.5L577.4 1153.7L578.0 1157.8L578.6 1147.0L579.2 1156.2L579.8 1155.7L580.4 1151.8L581.0 1152.4L581.5 1146.5L582.1 1152.6L582.7 1149.2L583.3 1147.6L583.9 1144.0L584.5 1140.4L585.1 1145.2L585.7 1144.9L586.3 1135.3L586.9 1138.1L587.5 1140.0L588.1 1135.3L588.7 1133.4L589.3 1133.3L589.9 1130.4L590.5 1130.8L591.1 1133.2L591.7 1133.7L592.3 1134.5L592.9 1129.7L593.5 1126.7L594.1 1135.4L594.7 1131.1L595.3 1130.8L595.9 1130.1L596.5 1124.9L597.1 1127.3L597.7 1123.2L598.3 1126.4L598.9 1127.5L599.5 1117.0L600.1 1125.6L600.7 1116.6L601.3 1114.5L601.9 1114.4L602.5 1119.4L603.1 1122.1L603.7 1122.1L604.3 1112.1L604.9 1114.5L605.5 1119.8L606.1 1118.3L606.7 1116.7L607.3 1109.0L607.9 1108.4L608.5 1106.1L609.1 1106.6L609.7 1107.5L610.3 1111.4L610.9 1108.9L611.5 1102.2L612.1 1101.4L612.7 1103.9L613.3 1108.3L613.9 1102.5L614.5 1105.4L615.1 1103.4L615.7 1104.8L616.3 1099.4L616.9 1097.1L617.5 1097.3L618.1 1100.6L618.7 1093.4L619.3 1091.6L619.9 1098.5L620.5 1093.4L621.1 1094.5L621.7 1088.0L622.3 1085.6L622.9 1087.0L623.5 1088.6L624.0 1083.0L624.6 1085.0L625.2 1092.2L625.8 1085.3L626.4 1079.3L627.0 1088.0L627.6 1081.2L628.2 1078.8L628.8 1083.6L629.4 1083.0L630.0 1078.1L630.6 1081.9L631.2 1083.1L631.8 1075.8L632.4 1076.8L633.0 1070.1L633.6 1076.3L634.2 1071.9L634.8 1075.4L635.4 1075.8L636.0 1070.0L636.6 1073.0L637.2 1075.5L637.8 1065.4L638.4 1072.1L639.0 1067.4L639.6 1072.2L640.2 1060.9L640.8 1063.8L641.4 1060.3L642.0 1060.6L642.6 1067.4L643.2 1062.2L643.8 1059.3L644.4 1065.7L645.0 1054.0L645.6 1052.7L646.2 1060.9L646.8 1057.5L647.4 1060.0L648.0 1055.1L648.6 1059.6L649.2 1051.5L649.8 1049.4L650.4 1056.4L651.0 1051.4L651.6 1044.5L652.2 1043.4L652.8 1042.7L653.4 1050.4L654.0 1048.5L654.6 1041.3L655.2 1048.7L655.8 1047.6L656.4 1045.0L657.0 1043.6L657.6 1041.0L658.2 1043.3L658.8 1038.8L659.4 1044.4L660.0 1039.5L660.6 1039.7L661.2 1041.9L661.8 1041.7L662.4 1035.5L663.0 1029.6L663.6 1033.7L664.2 1037.6L664.8 1028.2L665.4 1028.0L666.0 1027.4L666.5 1026.0L667.1 1032.2L667.7 1028.0L668.3 1021.8L668.9 1026.0L669.5 1027.4L670.1 1018.6L670.7 1019.8L671.3 1016.7L671.9 1024.1L672.5 1019.7L673.1 1014.2L673.7 1016.2L674.3 1014.7L674.9 1018.4L675.5 1015.8L676.1 1014.9L676.7 1013.0L677.3 1008.7L677.9 1011.3L678.5 1014.1L679.1 1012.1L679.7 1011.9L680.3 1005.9L680.9 1003.7L681.5 1011.5L682.1 1010.1L682.7 1008.6L683.3 1011.4L683.9 1002.7L684.5 1007.0L685.1 1000.8L685.7 1003.7L686.3 1006.6L686.9 1000.3L687.5 1001.4L688.1 1005.0L688.7 998.1L689.3 994.3L689.9 1002.0L690.5 997.7L691.1 992.7L691.7 991.2L692.3 987.3L692.9 987.2L693.5 997.0L694.1 991.1L694.7 992.9L695.3 985.6L695.9 991.9L696.5 989.4L697.1 990.6L697.7 985.0L698.3 989.4L698.9 984.3L699.5 978.3L700.1 986.6L700.7 978.5L701.3 985.1L701.9 979.7L702.5 977.0L703.1 977.6L703.7 975.0L704.3 970.6L704.9 969.3L705.5 968.9L706.1 977.9L706.7 970.3L707.3 965.6L707.9 969.2L708.5 971.2L709.1 970.3L709.7 972.8L710.3 965.1L710.9 971.5L711.5 959.3L712.1 960.2L712.7 963.3L713.3 964.3L713.9 960.7L714.4 964.3L715.0 960.5L715.6 953.1L716.2 956.9L716.8 959.1L717.4 953.6L718.0 951.9L718.6 956.5L719.2 953.4L719.8 958.9L720.4 957.6L721.0 949.0L721.6 944.8L722.2 945.7L722.8 947.9L723.4 946.9L724.0 946.1L724.6 941.1L725.2 942.8L725.8 943.2L726.4 946.5L727.0 938.0L727.6 943.3L728.2 939.4L728.8 943.3L729.4 941.3L730.0 934.5L730.6 939.8L731.2 934.9L731.8 939.6L732.4 929.0L733.0 931.6L733.6 933.2L734.2 929.7L734.8 929.9L735.4 931.3L736.0 926.4L736.6 933.0L737.2 925.2L737.8 929.2L738.4 931.6L739.0 920.4L739.6 928.8L740.2 919.5L740.8 922.0L741.4 917.1L742.0 925.9L742.6 917.7L743.2 919.2L743.8 923.9L744.4 913.1L745.0 911.4L745.6 917.9L746.2 909.3L746.8 909.4L747.4 910.0L748.0 906.2L748.6 909.4L749.2 905.1L749.8 914.7L750.4 908.8L751.0 902.1L751.6 909.9L752.2 902.9L752.8 909.7L753.4 898.7L754.0 898.9L754.6 901.0L755.2 905.6L755.8 906.0L756.4 905.5L757.0 895.5L757.6 896.7L758.2 901.6L758.8 900.2L759.4 900.9L760.0 889.7L760.6 888.3L761.2 891.8L761.8 896.2L762.4 893.5L763.0 889.3L763.6 891.7L764.2 888.0L764.8 891.7L765.4 884.4L766.0 889.0L766.6 881.0L767.2 885.3L767.8 881.2L768.3 880.6L768.9 878.9L769.5 875.3L770.1 875.1L770.7 881.1L771.3 880.1L771.9 879.2L772.5 875.6L773.1 876.6L773.7 878.2L774.3 879.5L774.9 871.7L775.5 875.0L776.1 874.9L776.7 874.4L777.3 871.5L777.9 865.4L778.5 871.4L779.1 867.6L779.7 868.8L780.3 868.0L780.9 860.9L781.5 858.4L782.1 865.8L782.7 863.6L783.3 855.2L783.9 854.7L784.5 858.1L785.1 859.9L785.7 853.0L786.3 858.7L786.9 853.8L787.5 856.4L788.1 851.2L788.7 849.9L789.3 848.0L789.9 853.3L790.5 851.7L791.1 844.5L791.7 844.2L792.3 851.6L792.9 844.1L793.5 850.9L794.1 850.5L794.7 847.8L795.3 839.3L795.9 838.0L796.5 845.4L797.1 839.8L797.7 834.6L798.3 834.6L798.9 835.7L799.5 834.4L800.1 831.2L800.7 838.0L801.3 829.7L801.9 831.4L802.5 835.2L803.1 834.9L803.7 834.4L804.3 827.4L804.9 825.8L805.5 829.9L806.1 831.1L806.7 829.5L807.3 828.6L807.9 824.1L808.5 826.6L809.1 827.9L809.7 823.8L810.3 817.7L810.9 824.4L811.5 814.7L812.1 813.6L812.7 815.9L813.3 815.9L813.9 821.6L814.5 818.1L815.1 813.9L815.7 814.6L816.3 812.0L816.9 816.4L817.5 812.5L818.1 808.8L818.7 814.2L819.3 812.0L819.9 806.7L820.5 811.8L821.1 801.1L821.6 809.2L822.2 803.7L822.8 803.2L823.4 806.6L824.0 800.8L824.6 800.0L825.2 797.0L825.8 801.0L826.4 800.5L827.0 799.1L827.6 792.7L828.2 799.5L828.8 794.6L829.4 789.6L830.0 789.8L830.6 788.0L831.2 787.4L831.8 790.5L832.4 792.1L833.0 790.7L833.6 792.7L834.2 792.0L834.8 787.2L835.4 788.9L836.0 788.6L836.6 783.4L837.2 786.1L837.8 782.3L838.4 783.4L839.0 783.1L839.6 783.3L840.2 778.2L840.8 772.8L841.4 771.8L842.0 777.7L842.6 775.8L843.2 777.4L843.8 769.5L844.4 775.3L845.0 776.3L845.6 770.1L846.2 765.2L846.8 770.5L847.4 763.3L848.0 769.9L848.6 769.1L849.2 763.8L849.8 768.3L850.4 761.9L851.0 765.7L851.6 759.3L852.2 762.8L852.8 755.6L853.4 757.1L854.0 756.8L854.6 760.9L855.2 759.4L855.8 751.1L856.4 753.9L857.0 756.9L857.6 757.4L858.2 751.2L858.8 747.2L859.4 752.7L860.0 745.8L860.6 749.0L861.2 745.2L861.8 741.8L862.4 740.5L863.0 743.5L863.6 738.9L864.2 744.0L864.8 744.2L865.4 743.1L865.9 739.9L866.5 740.3L867.1 741.8L867.7 735.4L868.3 737.4L868.9 732.1L869.5 736.4L870.1 738.6L870.7 731.1L871.3 733.7L871.9 727.6L872.5 735.0L873.1 724.9L873.7 725.8L874.3 726.5L874.9 729.1L875.5 726.0L876.1 720.6L876.7 725.2L877.3 718.7L877.9 720.4L878.5 725.6L879.1 720.4L879.7 714.5L880.3 715.9L880.9 715.3L881.5 713.5L882.1 718.3L882.7 712.6L883.3 715.6L883.9 713.6L884.5 715.8L885.1 709.7L885.7 705.6L886.3 710.9L886.9 709.2L887.5 703.2L888.1 706.6L888.7 702.5L889.3 709.8L889.9 704.7L890.5 706.2L891.1 703.6L891.7 702.4L892.3 703.9L892.9 695.1L893.5 697.3L894.1 699.4L894.7 695.3L895.3 699.9L895.9 693.2L896.5 696.3L897.1 693.7L897.7 692.7L898.3 695.0L898.9 695.0L899.5 694.3L900.1 687.3L900.7 688.3L901.2 683.7L901.8 688.8L902.4 686.4L903.0 684.3L903.6 683.7L904.2 681.4L904.8 678.9L905.4 680.4L906.0 681.8L906.6 675.1L907.2 675.8L907.8 675.3L908.4 678.9L909.0 675.4L909.6 678.1L910.2 672.7L910.8 669.7L911.4 669.8L912.0 666.6L912.6 670.0L913.2 668.8L913.8 667.4L914.4 668.8L915.0 667.4L915.6 664.0L916.2 666.5L916.8 660.6L917.4 664.5L918.0 661.1L918.6 663.7L919.2 663.5L919.8 659.2L920.4 654.7L921.0 658.9L921.6 652.0L922.2 651.7L922.8 652.1L923.4 656.7L924.0 651.9L924.6 654.1L925.2 651.3L925.8 651.3L926.4 644.9L927.0 652.7L927.6 647.1L928.2 642.9L928.8 646.5L929.4 648.5L930.0 643.8L930.6 644.6L931.2 638.5L931.8 638.3L932.4 638.9L933.0 635.3L933.6 639.8L934.2 633.2L934.8 636.6L935.4 637.7L936.0 631.9L936.6 638.9L937.1 634.3L937.7 634.8L938.3 633.6L938.9 631.3L939.5 628.7L940.1 629.9L940.7 629.9L941.3 625.8L941.9 621.6L942.5 629.4L943.1 622.3L943.7 627.5L944.3 627.3L944.9 617.5L945.5 624.7L946.1 618.5L946.7 622.5L947.3 620.7L947.9 615.1L948.5 619.1L949.1 611.7L949.7 618.3L950.3 614.5L950.9 617.3L951.5 611.5L952.1 612.9L952.7 608.1L953.3 607.1L953.9 604.0L954.5 609.5L955.1 610.9L955.7 604.8L956.3 600.5L956.9 599.7L957.5 600.0L958.1 604.1L958.7 599.0L959.3 599.6L959.9 602.4L960.5 599.8L961.1 592.9L961.7 600.3L962.3 597.1L962.9 591.2L963.5 589.2L964.0 596.2L964.6 589.5L965.2 590.8L965.8 587.8L966.4 591.1L967.0 587.3L967.6 588.6L968.2 589.9L968.8 581.5L969.4 583.0L970.0 585.5L970.6 585.5L971.2 584.8L971.8 579.5L972.4 581.3L973.0 579.3L973.6 581.1L974.2 573.7L974.8 571.9L975.4 571.9L976.0 572.3L976.6 575.3L977.2 573.3L977.8 569.2L978.4 566.1L979.0 568.5L979.6 572.9L980.2 563.7L980.8 570.5L981.4 564.7L982.0 565.8L982.6 562.5L983.1 567.1L983.7 564.8L984.3 562.7L984.9 560.2L985.5 560.0L986.1 555.8L986.7 558.6L987.3 560.2L987.9 551.5L988.5 554.3L989.1 553.6L989.7 553.0L990.3 556.4L990.9 551.6L991.5 549.6L992.1 545.1L992.7 546.2L993.3 550.7L993.9 547.4L994.5 547.7L995.1 548.3L995.7 547.2L996.3 546.2L996.9 546.1L997.5 544.6L998.1 541.6L998.7 539.0L999.3 533.6L999.9 541.1L1000.5 535.8L1001.1 533.3L1001.7 532.9L1002.2 535.7L1002.8 534.9L1003.4 529.5L1004.0 527.3L1004.6 528.7L1005.2 525.1L1005.8 528.7L1006.4 530.1L1007.0 525.0L1007.6 521.6L1008.2 528.2L1008.8 520.0L1009.4 519.2L1010.0 521.4L1010.6 522.0L1011.2 518.0L1011.8 514.9L1012.4 515.7L1013.0 520.1L1013.6 520.1L1014.2 512.3L1014.8 515.6L1015.4 515.6L1016.0 515.0L1016.6 506.4L1017.2 505.7L1017.8 505.3L1018.4 508.9L1019.0 504.5L1019.6 510.3L1020.2 503.1L1020.8 504.1L1021.4 500.2L1021.9 506.5L1022.5 499.2L1023.1 498.7L1023.7 498.0L1024.3 496.2L1024.9 494.1L1025.5 500.0L1026.1 492.3L1026.7 493.4L1027.3 489.9L1027.9 493.9L1028.5 492.5L1029.1 495.5L1029.7 486.2L1030.3 494.0L1030.9 485.3L1031.5 486.5L1032.1 490.9L1032.7 489.4L1033.3 488.9L1033.9 481.1L1034.5 479.9L1035.1 480.9L1035.7 479.8L1036.3 481.4L1036.9 475.2L1037.5 479.3L1038.1 473.0L1038.7 475.1L1039.3 476.3L1039.9 472.7L1040.5 476.0L1041.0 475.4L1041.6 473.3L1042.2 470.7L1042.8 469.4L1043.4 469.4L1044.0 471.6L1044.6 472.2L1045.2 463.9L1045.8 469.0L1046.4 467.1L1047.0 464.1L1047.6 462.3L1048.2 464.4L1048.8 465.5L1049.4 460.2L1050.0 454.7L1050.6 459.2L1051.2 454.6L1051.8 453.0L1052.4 456.6L1053.0 452.8L1053.6 456.7L1054.2 452.4L1054.8 455.9L1055.4 447.5L1055.9 455.1L1056.5 451.7L1057.1 444.8L1057.7 446.2L1058.3 451.5L1058.9 449.6L1059.5 441.7L1060.1 447.7L1060.7 443.5L1061.3 442.7L1061.9 445.3L1062.5 438.5L1063.1 442.0L1063.7 438.1L1064.3 442.5L1064.9 442.3L1065.5 441.5L1066.1 433.7L1066.7 431.8L1067.2 434.4L1067.8 430.7L1068.4 430.7L1069.0 432.9L1069.6 434.0L1070.2 431.5L1070.8 434.7L1071.4 431.5L1072.0 432.7L1072.6 428.6L1073.2 425.4L1073.8 430.1L1074.4 425.8L1075.0 425.4L1075.6 420.0L1076.2 418.7L1076.8 417.0L1077.4 417.4L1078.0 417.9L1078.5 417.9L1079.1 420.3L1079.7 416.5L1080.3 415.5L1080.9 415.3L1081.5 415.8L1082.1 417.4L1082.7 417.9L1083.3 409.9L1083.9 410.7L1084.5 410.1L1085.1 411.3L1085.7 407.8L1086.3 405.4L1086.9 411.4L1087.5 405.1L1088.1 408.0L1088.7 406.2L1089.3 399.6L1089.9 400.9L1090.5 402.6L1091.1 403.6L1091.7 404.9L1092.2 396.7L1092.8 394.5L1093.4 400.7L1094.0 400.7L1094.6 392.2L1095.2 394.1L1095.8 391.6L1096.4 391.2L1097.0 390.8L1097.6 390.7L1098.2 389.8L1098.8 387.3L1099.4 386.6L1100.0 388.6L1100.6 386.7L1101.2 386.0L1101.8 382.0L1102.4 384.1L1103.0 386.5L1103.6 379.9L1104.2 378.3L1104.8 380.1L1105.4 376.7L1106.0 376.4L1106.6 375.8L1107.2 381.3L1107.8 377.7L1108.4 374.7L1109.0 375.3L1109.6 373.0L1110.2 373.7L1110.8 373.1L1111.4 368.9L1112.0 368.3L1112.6 373.7L1113.2 370.7L1113.8 367.6L1114.4 367.9L1114.9 363.7L1115.5 361.6L1116.1 366.4L1116.7 361.1L1117.3 362.1L1117.9 364.4L1118.5 361.2L1119.1 359.3L1119.7 358.6L1120.3 355.5L1120.9 359.0L1121.5 353.7L1122.1 357.0L1122.7 356.4L1123.3 354.4L1123.9 353.3L1124.5 347.7L1125.1 354.3L1125.7 348.9L1126.3 352.6L1126.9 346.9L1127.5 349.9L1128.1 344.5L1128.7 343.9L1129.3 342.1L1129.9 345.9L1130.5 342.9L1131.1 339.8L1131.6 336.3L1132.2 343.5L1132.8 334.7L1133.4 337.2L1134.0 335.5L1134.6 338.9L1135.2 333.4L1135.8 338.2L1136.4 337.8L1137.0 333.9L1137.6 334.0L1138.2 332.6L1138.7 331.8L1139.3 330.1L1139.9 326.4L1140.5 325.8L1141.1 330.4L1141.7 325.8L1142.3 331.0L1142.9 330.7L1143.5 332.3L1144.1 328.4L1144.7 328.1L1145.3 327.2L1145.9 328.6L1146.5 330.3L1147.1 332.0L1147.7 325.8L1148.3 331.4L1148.9 331.8L1149.5 328.0L1150.1 328.2L1150.7 331.9L1151.3 328.5L1151.9 324.5L1152.5 330.8L1153.1 326.4L1153.7 324.2L1154.3 329.5L1154.9 325.6L1155.5 330.0L1156.1 323.9L1156.6 321.9L1157.2 319.8L1157.8 324.2L1158.4 318.0L1159.0 316.3L1159.5 317.3L1160.1 319.4L1160.7 320.9L1161.3 319.8L1161.8 316.7L1162.4 316.2L1163.0 312.8L1163.6 311.5L1164.2 309.3L1164.8 314.7L1165.3 312.7L1165.9 304.5L1166.5 305.2L1167.1 311.8L1167.7 311.0L1168.3 311.3L1168.9 303.9L1169.4 305.1L1170.0 307.6L1170.6 301.5L1171.2 303.7L1171.8 299.1L1172.4 298.8L1173.0 300.3L1173.5 303.0L1174.1 295.6L1174.7 299.3L1175.3 294.9L1175.9 295.9L1176.5 301.2L1177.0 301.6L1177.6 292.7L1178.2 293.1L1178.8 292.0L1179.4 291.9L1180.0 291.8L1180.6 289.1L1181.1 293.2L1181.7 290.8L1182.3 292.5L1182.9 293.8L1183.5 294.3L1184.1 292.9L1184.7 284.4L1185.2 291.4L1185.8 283.4L1186.4 287.5L1187.0 288.1L1187.6 284.1L1188.2 287.4L1188.8 284.9L1189.3 287.5L1189.9 280.7L1190.5 282.3L1191.1 281.5L1191.7 278.4L1192.3 282.1L1192.9 283.7L1193.4 281.0L1194.0 277.8L1194.6 276.6L1195.2 275.0L1195.8 280.8L1196.4 279.0L1197.0 271.8L1197.5 269.8L1198.1 273.0L1198.7 276.9L1199.3 269.8L1199.9 274.0L1200.5 274.6L1201.1 268.9L1201.6 271.1L1202.2 270.5L1202.8 264.7L1203.4 269.8L1204.0 265.0L1204.6 261.9L1205.2 263.5L1205.7 269.9L1206.3 260.4L1206.9 261.2L1207.5 264.6L1208.1 259.6L1208.7 263.5L1209.3 264.0L1209.8 260.9L1210.4 262.1L1211.0 261.8L1211.6 260.7L1212.2 263.3L1212.8 254.9L1213.3 252.1L1213.9 254.1L1214.5 260.8L1215.1 254.2L1215.7 254.4L1216.3 254.8L1216.9 254.9L1217.4 247.0L1218.0 252.2L1218.6 246.0L1219.2 250.5L1219.8 244.6L1220.4 245.3L1221.0 249.9L1221.5 248.1L1222.1 245.0L1222.7 251.1L1223.3 243.5L1223.9 242.2L1224.5 242.4L1225.1 243.7L1225.6 244.6L1226.2 248.7L1226.8 241.2L1227.4 246.4L1228.0 245.2L1228.6 243.5L1229.2 238.1L1229.7 237.4L1230.3 245.6L1230.9 239.0L1231.5 243.1L1232.1 234.3L1232.7 244.0L1233.3 232.8L1233.8 234.7L1234.4 237.7L1235.0 240.7L1235.6 241.7L1236.2 230.7L1236.8 229.1L1237.4 232.0L1238.0 234.0L1238.6 234.6L1239.2 237.2L1239.8 236.7L1240.4 233.9L1241.0 236.6L1241.6 234.8L1242.1 223.5L1242.7 226.8L1243.3 222.3L1243.9 224.4L1244.5 227.4L1245.1 226.4L1245.7 229.6L1246.3 230.2L1246.9 226.0L1247.5 223.7L1248.1 217.9L1248.7 219.4L1249.3 227.9L1249.9 227.6L1250.5 225.6L1251.1 224.5L1251.7 223.5L1252.3 214.5L1252.9 219.1L1253.4 213.3L1253.9 224.2L1254.5 224.2L1255.0 225.0L1255.6 222.7L1256.1 218.4L1256.7 220.2L1257.3 214.9L1257.8 218.4L1258.4 224.4L1259.0 221.0L1259.6 217.6L1260.2 226.6L1260.8 221.1L1261.4 221.8L1261.9 218.0L1262.5 221.4L1263.1 229.0L1263.7 221.4L1264.3 218.4L1264.9 228.2L1265.5 226.0L1266.1 216.8L1266.7 216.3L1267.3 220.0L1267.9 220.9L1268.5 226.0L1269.1 215.8L1269.7 224.6L1270.3 220.6L1270.9 217.3L1271.5 215.7L1272.1 220.1L1272.7 215.8L1273.3 214.2L1273.9 226.5L1274.4 222.8L1275.0 222.1L1275.6 222.9L1276.2 213.8L1276.8 222.3L1277.4 215.2L1278.0 219.1L1278.6 218.0L1279.2 212.6L1279.8 223.1L1280.4 221.8L1281.0 219.3L1281.6 216.9L1282.2 211.7L1282.8 211.7L1283.4 210.2L1284.0 220.8L1284.6 221.8L1285.2 218.8L1285.8 212.1L1286.4 219.8L1287.0 221.6L1287.6 209.0L1288.2 216.0L1288.8 210.3L1289.4 213.8L1290.0 208.9L1290.6 215.8L1291.2 216.3L1291.8 215.6L1292.4 212.0L1293.0 213.4L1293.6 207.8L1294.1 219.4L1294.7 216.7L1295.3 215.3L1295.9 218.2L1296.5 222.2L1297.1 213.3L1297.7 216.1L1298.2 215.4L1298.8 216.9L1299.4 225.1L1300.0 221.5L1300.6 217.8L1301.2 222.2L1301.8 222.7L1302.3 229.8L1302.9 230.7L1303.5 228.9L1304.1 221.6L1304.7 231.6L1305.3 232.7L1305.9 227.4L1306.4 224.4L1307.0 228.2L1307.6 231.8L1308.2 233.9L1308.8 225.1L1309.4 236.5L1310.0 227.5L1310.5 231.3L1311.1 229.5L1311.7 240.1L1312.3 234.1L1312.9 230.7L1313.5 230.5L1314.1 229.2L1314.6 231.2L1315.2 240.2L1315.8 232.0L1316.4 241.6L1317.0 242.1L1317.6 238.5L1318.1 240.1L1318.7 235.4L1319.3 243.5L1319.9 243.3L1320.5 241.1L1321.1 241.4L1321.7 239.0L1322.2 237.7L1322.8 240.8L1323.4 249.3L1324.0 244.7L1324.6 246.4L1325.2 239.4L1325.8 250.3L1326.3 246.4L1326.9 244.9L1327.5 242.0L1328.1 240.6L1328.7 246.6L1329.3 245.7L1329.9 252.0L1330.4 254.3L1331.0 250.1L1331.6 255.6L1332.2 244.7L1332.8 256.2L1333.3 251.8L1333.9 258.4L1334.5 257.7L1335.1 253.0L1335.6 256.5L1336.2 250.9L1336.8 251.2L1337.4 260.3L1337.9 256.8L1338.5 255.7L1339.1 263.5L1339.6 253.4L1340.2 252.4L1340.8 258.4L1341.3 259.0L1341.9 265.3L1342.5 262.5L1343.0 256.7L1343.6 264.9L1344.1 262.3L1344.7 268.0L1345.3 258.0L1345.9 256.0L1346.5 256.4L1347.0 255.2L1347.6 259.8L1348.2 257.1L1348.8 257.8L1349.3 256.7L1349.9 260.2L1350.5 255.2L1351.1 249.4L1351.6 249.2L1352.2 251.3L1352.8 254.5L1353.3 262.4L1353.9 257.6L1354.4 257.6L1355.0 255.5L1355.6 254.2L1356.1 254.9L1356.7 258.3L1357.3 259.9L1357.8 265.8L1358.4 268.0L1359.0 263.2L1359.6 269.7L1360.1 263.1L1360.7 270.6L1361.3 266.0L1361.9 264.1L1362.4 274.2L1363.0 275.9L1363.6 268.7L1364.2 273.5L1364.8 272.6L1365.3 269.7L1365.9 270.0L1366.5 268.0L1367.1 272.4L1367.6 275.7L1368.2 271.6L1368.8 280.8L1369.4 271.3L1369.9 278.1L1370.5 277.3L1371.1 279.6L1371.7 278.8L1372.2 272.7L1372.8 276.3L1373.4 284.0L1374.0 286.2L1374.6 277.7L1375.2 286.4L1375.8 277.4L1376.4 284.9L1377.0 277.5L1377.6 278.5L1378.2 284.5L1378.8 284.0L1379.3 285.1L1379.9 283.3L1380.5 281.4L1381.1 287.6L1381.7 285.2L1382.3 280.9L1382.9 281.6L1383.5 286.0L1384.1 281.0L1384.7 290.6L1385.2 284.3L1385.8 290.7L1386.4 287.2L1387.0 285.0L1387.6 283.7L1388.2 294.0L1388.8 284.0L1389.3 289.6L1389.9 289.6L1390.5 295.4L1391.1 288.4L1391.7 285.9L1392.3 289.6L1392.9 290.2L1393.4 288.1L1394.0 292.9L1394.5 286.0L1395.1 286.2L1395.7 293.2L1396.2 298.6L1396.8 300.0L1397.4 293.7L1397.9 297.8L1398.5 294.3L1399.0 292.3L1399.5 302.1L1400.1 298.8L1400.6 306.3L1401.2 301.0L1401.7 302.6L1402.2 306.0L1402.8 302.5L1403.3 306.2L1403.9 312.3L1404.5 306.3L1405.0 303.2L1405.6 310.0L1406.2 311.4L1406.7 312.7L1407.3 318.4L1407.8 315.0L1408.4 318.4L1409.0 313.4L1409.5 318.2L1410.1 328.5L1410.7 324.5L1411.1 326.9L1411.6 337.9L1412.1 335.3L1412.5 335.6L1413.1 347.1L1413.7 344.7L1414.2 353.0L1414.8 359.5L1415.3 350.5L1415.9 351.4L1416.4 360.2L1416.9 365.6L1417.5 363.6L1418.0 364.8L1418.6 360.1L1419.1 364.4L1419.6 370.6L1420.2 373.2L1420.7 374.1L1421.2 374.5L1421.8 374.0L1422.3 381.8L1422.8 381.0L1423.4 378.2L1423.9 380.1L1424.4 379.2L1425.0 392.6L1425.5 386.7L1426.0 386.8L1426.6 393.4L1427.1 386.7L1427.7 398.4L1428.3 387.7L1428.8 392.0L1429.4 393.1L1430.0 402.3L1430.5 397.4L1431.1 393.9L1431.6 405.0L1432.2 402.0L1432.8 393.2L1433.4 406.5L1433.9 399.0L1434.5 400.4L1435.1 406.1L1435.7 407.0L1436.2 405.3L1436.8 398.8L1437.4 402.0L1438.0 405.5L1438.5 406.1L1439.1 408.6L1439.7 401.8L1440.3 410.2L1440.8 413.7L1441.4 403.0L1441.9 406.3L1442.5 407.2L1443.1 409.0L1443.6 412.5L1444.2 405.1L1444.8 405.8L1445.3 409.7L1445.9 406.7L1446.5 418.3L1447.1 412.8L1447.7 405.6L1448.2 416.4L1448.8 416.1L1449.4 406.2L1450.0 413.7L1450.6 404.3L1451.1 406.7L1451.7 416.8L1452.2 417.5L1452.8 410.9L1453.4 417.1L1453.9 410.9L1454.5 410.8L1455.1 413.3L1455.6 406.1L1456.2 410.1L1456.7 409.1L1457.3 408.6L1457.9 420.6L1458.4 411.9L1459.0 418.3L1459.6 422.4L1460.1 423.5L1460.7 423.7L1461.2 427.1L1461.8 422.2L1462.4 421.0L1463.0 429.2L1463.5 418.7L1464.1 423.2L1464.7 425.9L1465.3 431.9L1465.9 424.8L1466.4 430.7L1467.0 425.0L1467.6 434.8L1468.2 427.4L1468.7 429.3L1469.3 436.2L1469.9 436.6L1470.5 432.8L1471.0 429.5L1471.6 429.5L1472.2 435.1L1472.8 440.9L1473.3 434.2L1473.9 432.6L1474.5 432.9L1475.1 442.0L1475.7 434.6L1476.2 437.6L1476.8 435.9L1477.4 436.1L1478.0 443.1L1478.5 445.2L1479.1 447.2L1479.7 445.5L1480.3 444.4L1480.8 442.5L1481.4 435.8L1482.0 438.6L1482.6 440.8L1483.1 441.2L1483.7 440.0L1484.3 441.6L1484.8 442.4L1485.4 442.1L1486.0 443.2L1486.5 445.8L1487.0 451.5L1487.5 450.6L1487.9 459.7L1488.4 465.3L1488.9 465.1L1489.3 466.1L1489.8 461.3L1490.3 470.2L1489.7 470.1L1489.1 472.7L1488.5 469.4L1487.9 467.0L1488.5 475.4L1489.1 472.4L1489.6 476.9L1490.2 483.0L1490.7 483.0L1491.3 478.5L1491.9 487.8L1492.5 486.0L1493.1 489.2L1493.7 484.3L1494.3 491.9L1494.9 486.4L1495.5 495.7L1496.1 485.0L1496.7 490.1L1497.3 491.6L1497.9 491.1L1498.5 498.6L1499.1 496.9L1499.7 498.6L1500.3 491.8L1500.9 500.4L1501.4 493.1L1502.0 490.4L1502.6 500.4L1503.2 501.4L1503.8 502.3L1504.4 494.2L1505.0 498.6L1505.6 499.5L1506.2 493.8L1506.8 491.6L1507.4 497.6L1508.0 495.6L1508.5 500.0L1509.1 494.6L1509.7 497.4L1510.3 495.7L1510.9 493.2L1511.4 502.3L1512.0 492.6L1512.6 493.7L1513.2 493.5L1513.7 501.5L1514.3 497.1L1514.9 499.5L1515.5 491.5L1516.0 490.6L1516.6 501.2L1517.2 490.4L1517.7 503.0L1518.3 503.7L1518.9 505.1L1519.4 500.7L1520.0 502.4L1520.5 499.0L1521.1 501.4L1521.7 500.2L1522.2 499.2L1522.8 503.2L1523.3 501.0L1523.9 508.1L1524.5 500.9L1525.0 508.8L1525.6 504.4L1526.2 509.7L1526.7 514.5L1527.3 506.6L1527.9 509.1L1528.5 514.4L1529.1 517.5L1529.6 513.3L1530.2 514.5L1530.8 510.3L1531.4 514.6L1532.0 506.6L1532.6 517.4L1533.2 513.0L1533.8 514.0L1534.4 516.0L1535.0 513.2L1535.6 516.4L1536.2 510.1L1536.7 516.5L1537.3 511.9L1537.9 508.3L1538.5 515.3L1539.1 517.9L1539.7 518.0L1540.3 515.8L1540.9 518.4L1541.5 513.6L1542.1 512.5L1542.7 518.1L1543.3 510.1L1543.8 513.8L1544.4 511.1L1545.0 523.3L1545.6 518.6L1546.2 522.8L1546.8 521.0L1547.4 522.9L1548.0 519.7L1548.6 525.1L1549.2 522.1L1549.8 522.7L1550.4 517.2L1550.9 519.6L1551.5 518.9L1552.1 517.8L1552.7 524.1L1553.3 524.7L1553.9 528.6L1554.4 517.8L1555.0 518.5L1555.6 521.8L1556.2 525.2L1556.8 527.0L1557.4 523.6L1558.0 524.8L1558.5 520.2L1559.1 520.5L1559.7 524.8L1560.3 520.6L1560.9 525.3L1561.5 527.3L1562.1 525.2L1562.6 530.4L1563.2 528.4L1563.8 532.5L1564.4 531.0L1565.0 533.1L1565.6 531.6L1566.2 530.2L1566.7 530.6L1567.3 528.4L1567.9 531.6L1568.5 534.5L1569.1 526.6L1569.7 533.6L1570.2 531.5L1570.8 526.1L1571.4 525.5L1572.0 527.3L1572.5 536.4L1573.1 532.0L1573.7 533.9L1574.3 531.5L1574.8 528.1L1575.4 528.2L1576.0 533.6L1576.5 529.7L1577.1 542.9L1577.6 540.5L1578.1 535.0L1578.7 542.8L1579.2 545.5L1579.7 541.9L1580.3 551.7L1580.9 547.4L1581.4 546.2L1582.0 553.8L1582.6 557.8L1583.1 551.5L1583.7 561.2L1584.3 550.5L1584.9 556.3L1585.5 553.6L1586.1 548.6L1586.7 548.8L1587.2 549.5L1587.8 547.7L1588.4 547.1L1589.0 558.4L1589.6 551.2L1590.1 545.2L1590.7 556.4L1591.3 546.8L1591.9 552.8L1592.5 551.4L1593.1 552.2L1593.6 546.2L1594.2 554.7L1594.8 550.6L1595.4 544.7L1596.0 544.5L1596.5 544.5L1597.1 545.7L1597.7 554.5L1598.3 551.6L1598.9 542.4L1599.4 547.6L1600.0 548.1L1600.6 546.2L1601.2 549.6L1601.8 546.8L1602.4 550.8L1602.9 543.8L1603.5 551.4L1604.1 540.4L1604.7 546.6L1605.3 545.9L1605.9 542.5L1606.5 547.4L1607.1 544.2L1607.7 549.1L1608.3 552.7L1608.9 550.1L1609.5 556.2L1610.1 543.8L1610.7 554.0L1611.3 548.2L1611.8 554.3L1612.4 555.8L1613.0 547.5L1613.6 553.9L1614.2 550.4L1614.8 557.3L1615.4 550.8L1616.0 558.1L1616.6 548.6L1617.2 558.1L1617.8 556.6L1618.4 561.0L1618.9 561.3L1619.5 551.9L1620.1 558.4L1620.7 561.2L1621.2 555.8L1621.8 552.2L1622.4 557.3L1623.0 560.5L1623.6 553.0L1624.1 561.0L1624.7 562.8L1625.3 562.0L1625.9 560.0L1626.4 562.6L1627.0 566.9L1627.6 560.4L1628.2 558.4L1628.7 558.7L1629.3 558.2L1629.9 562.0L1630.5 565.7L1631.0 564.5L1631.6 567.8L1632.2 568.1L1632.7 573.1L1633.3 569.0L1633.8 580.3L1634.3 580.0L1634.9 584.1L1635.4 574.2L1635.9 584.9L1636.4 586.5L1636.9 590.3L1637.4 599.2L1637.8 596.1L1638.3 607.3L1638.8 608.7L1639.2 627.6L1639.7 628.0L1640.2 634.0L1640.6 644.9L1641.1 643.0L1641.6 648.9L1642.1 646.3L1642.6 658.2L1643.2 656.5L1643.7 661.6L1644.2 654.8L1644.8 654.7L1645.3 665.0L1645.9 657.9L1646.5 664.9L1647.1 666.2L1647.7 666.6L1648.2 668.5L1648.8 662.8L1649.4 662.5L1650.0 662.3L1650.6 672.3L1651.2 666.0L1651.8 660.7L1652.3 668.5L1652.9 665.3L1653.5 673.0L1654.1 667.9L1654.7 668.4L1655.3 663.5L1655.9 661.3L1656.4 661.8L1657.0 661.7L1657.6 661.4L1658.2 663.8L1658.8 668.9L1659.4 670.2L1659.9 665.7L1660.5 671.4L1661.1 664.9L1661.7 666.7L1662.3 670.4L1662.8 670.0L1663.4 672.0L1664.0 671.3L1664.6 670.8L1665.1 684.8L1665.7 673.3L1666.3 675.7L1666.9 680.6L1667.5 685.0L1668.0 684.1L1668.6 686.3L1669.2 682.9L1669.8 681.8L1670.4 684.1L1671.0 678.0L1671.6 682.4L1672.2 682.9L1672.8 681.2L1673.4 680.2L1674.0 687.9L1674.6 680.6L1675.1 680.4L1675.7 684.3L1676.3 682.0L1676.9 684.5L1677.5 688.6L1678.1 691.2L1678.7 681.5L1679.3 682.5L1679.9 684.7L1680.4 681.7L1681.0 682.6L1681.6 693.6L1682.2 687.4L1682.8 693.6L1683.4 683.2L1684.0 693.3L1684.5 691.3L1685.1 692.8L1685.7 685.9L1686.3 685.9L1686.9 690.4L1687.5 693.2L1688.1 690.6L1688.6 686.4L1689.2 691.4L1689.8 685.2L1690.4 696.7L1691.0 692.8L1691.6 685.6L1692.2 694.3L1692.7 684.7L1693.3 689.4L1693.9 690.9L1694.5 687.5L1695.1 697.6L1695.7 697.6L1696.3 687.1L1696.8 694.1L1697.4 690.9L1698.0 695.0L1698.6 695.3L1699.2 699.0L1699.8 691.0L1700.4 692.7L1700.9 695.3L1701.5 696.3L1702.1 690.5L1702.7 693.6L1703.3 689.1L1703.9 695.1L1704.4 696.0L1705.0 699.6L1705.6 702.7L1706.2 699.7L1706.8 690.8L1707.4 690.7L1708.0 699.2L1708.6 696.9L1709.2 699.8L1709.8 699.5L1710.3 693.9L1710.9 697.9L1711.5 689.2L1712.1 697.8L1712.7 694.7L1713.3 692.1L1713.9 695.7L1714.5 701.4L1715.1 700.9L1715.7 698.9L1716.3 694.9L1716.9 689.5L1717.4 690.9L1718.0 692.0L1718.6 697.0L1719.2 694.2L1719.8 696.8L1720.3 701.4L1720.9 702.0L1721.5 699.5L1722.1 709.0L1722.6 705.6L1723.2 701.6L1723.8 702.8L1724.4 709.8L1724.9 708.1L1725.5 708.9L1726.1 711.5L1726.6 711.5L1727.2 718.0L1727.8 710.1L1728.3 714.9L1728.9 722.2L1729.4 714.9L1730.0 718.5L1730.6 727.2L1731.1 725.0L1731.7 721.7L1732.2 730.9L1732.8 727.4L1733.4 733.5L1733.9 732.6L1734.5 728.6L1735.1 736.6L1735.6 733.3L1736.2 740.9L1736.8 741.8L1737.3 739.8L1737.9 740.9L1738.5 737.1L1739.1 734.4L1739.6 743.6L1740.2 740.4L1740.8 747.4L1741.4 739.1L1741.9 746.4L1742.5 744.2L1743.1 739.1L1743.7 739.7L1744.3 741.7L1744.8 744.8L1745.4 745.4L1746.0 741.5L1746.6 747.2L1747.2 752.4L1747.8 752.7L1748.4 749.6L1748.9 746.0L1749.5 753.5L1750.1 742.1L1750.7 754.2L1751.3 750.7L1751.9 747.0L1752.5 750.3L1753.0 747.9L1753.6 752.4L1754.2 746.7L1754.8 748.8L1755.4 748.5L1755.9 755.4L1756.5 748.1L1757.1 753.5L1757.7 756.9L1758.2 762.5L1758.8 763.6L1759.4 752.4L1760.0 760.0L1760.5 755.8L1761.1 765.5L1761.7 767.5L1762.3 761.4L1762.8 768.4L1763.4 766.4L1764.0 756.7L1764.6 767.1L1765.2 764.2L1765.7 762.6L1766.3 769.6L1766.9 770.6L1767.5 760.5L1768.0 763.2L1768.6 770.5L1769.2 765.1L1769.8 764.1L1770.4 770.0L1771.0 768.8L1771.6 771.5L1772.2 767.5L1772.8 771.2L1773.4 769.8L1774.0 770.3L1774.6 765.3L1775.2 770.1L1775.8 761.2L1776.4 771.2L1777.0 765.7L1777.6 771.1L1778.2 767.6L1778.8 762.4L1779.4 765.8L1780.0 769.7L1780.6 762.5L1781.1 757.8L1781.7 760.8L1782.3 760.4L1782.9 764.0L1783.5 765.6L1784.1 761.8L1784.7 765.1L1785.3 760.6L1785.9 762.6L1786.5 761.6L1787.1 757.9L1787.7 765.0L1788.2 766.0L1788.8 767.9L1789.4 764.9L1790.0 755.5L1790.6 755.7L1791.2 756.2L1791.8 754.6L1792.4 761.0L1793.0 761.7L1793.5 757.8L1794.1 764.0L1794.7 760.2L1795.3 763.9L1795.8 756.0L1796.4 763.6L1797.0 758.6L1797.6 763.0L1798.2 754.1L1798.7 760.6L1799.3 751.4L1799.9 755.8L1800.5 750.8L1801.1 750.9L1801.6 760.5L1802.2 759.1L1802.8 760.1L1803.4 755.7L1804.0 750.8L1804.6 750.8L1805.2 751.2L1805.7 755.0L1806.3 751.5L1806.9 758.6L1807.5 754.3L1808.1 757.2L1808.7 752.9L1809.3 753.4L1809.8 746.3L1810.4 758.4L1811.0 757.8L1811.6 754.7L1812.2 752.5L1812.8 751.1L1813.3 759.0L1813.9 752.9L1814.5 748.4L1815.1 754.2L1815.7 747.9L1816.3 756.5L1816.9 753.5L1817.4 746.8L1818.0 747.6L1818.6 758.8L1819.1 752.9L1819.5 759.9L1820.0 751.2L1820.6 757.6L1821.2 749.5L1821.7 758.0L1822.3 757.6L1822.9 753.8L1823.5 754.8L1824.0 751.6L1824.6 760.8L1825.2 762.6L1825.8 754.7L1826.3 763.3L1826.9 752.7L1827.5 759.2L1828.1 753.3L1828.7 764.1L1829.3 762.2L1829.9 764.8L1830.5 764.2L1831.0 755.7L1831.6 760.8L1832.2 756.7L1832.8 762.7L1833.4 760.2L1834.0 764.9L1834.6 762.6L1835.2 756.2L1835.8 760.7L1836.4 755.3L1837.0 765.8L1837.6 764.0L1838.1 757.5L1838.7 759.5L1839.3 765.6L1839.9 769.4L1840.4 764.3L1841.0 769.6L1841.5 768.1L1842.1 763.7L1842.7 770.4L1843.2 771.9L1843.8 772.4L1844.4 772.2L1844.9 778.5L1845.5 772.6L1846.0 773.1L1846.6 774.2L1847.2 775.9L1847.7 783.2L1848.3 772.3L1848.9 774.0L1849.4 777.8L1850.0 778.7L1850.6 781.1L1851.1 784.1L1851.7 785.7L1852.3 785.3L1852.9 780.9L1853.4 774.3L1854.0 776.4L1854.6 785.3L1855.2 782.6L1855.7 777.0L1856.3 780.7L1856.9 782.1L1857.5 772.7L1858.1 779.3L1858.6 777.9L1859.2 785.3L1859.8 781.7L1860.4 778.4L1861.0 778.5L1861.6 783.0L1862.2 781.5L1862.7 777.0L1863.3 778.9L1863.9 780.1L1864.5 779.9L1865.1 786.8L1865.7 780.9L1866.3 784.9L1866.8 783.4L1867.4 783.0L1868.0 782.3L1868.6 792.8L1869.1 791.4L1869.7 786.3L1870.3 796.3L1870.9 791.9L1871.5 796.4L1872.0 794.1L1872.6 787.4L1873.2 796.1L1873.8 799.4L1874.3 802.1L1874.9 796.3L1875.5 794.5L1876.1 796.3L1876.6 794.0L1877.2 790.3L1877.8 788.0L1878.4 799.5L1878.9 789.8L1879.5 790.7L1880.1 788.4L1880.7 797.5L1881.3 791.1L1881.8 788.8L1882.4 793.7L1883.0 786.5L1883.6 790.0L1884.2 789.5L1884.8 790.5L1885.3 791.0L1885.9 791.6L1886.5 786.1L1887.0 797.3L1887.6 790.5L1888.1 799.9L1888.7 794.8L1889.2 803.6L1889.7 810.2L1890.3 807.4L1890.8 810.7L1891.3 805.0L1891.9 811.1L1892.4 811.7L1892.9 819.3L1893.5 817.6L1894.0 815.7L1894.5 823.2L1894.9 824.6L1895.4 827.8L1895.9 826.0"/>
<path class="tr" stroke="#008000" d="M320.6 1535.3L321.2 1534.4L321.8 1533.5L322.4 1532.7L323.0 1531.8L323.6 1530.9L324.2 1530.0L324.8 1529.1L325.4 1528.2L326.0 1527.4L326.6 1526.5L327.2 1525.6L327.8 1524.7L328.4 1523.8L329.0 1523.0L329.6 1522.1L330.2 1521.2L330.8 1520.3L331.4 1519.4L332.0 1518.6L332.6 1517.7L333.2 1516.8L333.8 1515.9L334.4 1515.0L335.0 1514.1L335.6 1513.3L336.2 1512.4L336.8 1511.5L337.4 1510.6L338.0 1509.7L338.6 1508.9L339.2 1508.0L339.8 1507.1L340.4 1506.2L341.0 1505.3L341.6 1504.5L342.2 1503.6L342.8 1502.7L343.4 1501.8L344.0 1500.9L344.6 1500.0L345.2 1499.2L345.8 1498.3L346.4 1497.4L347.0 1496.5L347.5 1495.6L348.1 1494.8L348.7 1493.9L349.3 1493.0L349.9 1492.1L350.5 1491.2L351.1 1490.4L351.7 1489.5L352.3 1488.6L352.9 1487.7L353.5 1486.8L354.1 1485.9L354.7 1485.1L355.3 1484.2L355.9 1483.3L356.5 1482.4L357.1 1481.5L357.7 1480.7L358.3 1479.8L358.9 1478.9L359.5 1478.0L360.1 1477.1L360.7 1476.3L361.3 1475.4L361.9 1474.5L362.5 1473.6L363.1 1472.7L363.7 1471.8L364.3 1471.0L364.9 1470.1L365.5 1469.2L366.1 1468.3L366.7 1467.4L367.3 1466.6L367.9 1465.7L368.5 1464.8L369.1 1463.9L369.7 1463.0L370.3 1462.2L370.9 1461.3L371.5 1460.4L372.1 1459.5L372.7 1458.6L373.3 1457.7L373.9 1456.9L374.5 1456.0L375.1 1455.1L375.7 1454.2L376.3 1453.3L376.9 1452.5L377.5 1451.6L378.1 1450.7L378.7 1449.8L379.3 1448.9L379.9 1448.1L380.5 1447.2L381.1 1446.3L381.7 1445.4L382.3 1444.5L382.9 1443.6L383.5 1442.8L384.1 1441.9L384.7 1441.0L385.3 1440.1L385.9 1439.2L386.5 1438.4L387.1 1437.5L387.7 1436.6L388.3 1435.7L388.9 1434.8L389.5 1434.0L390.1 1433.1L390.7 1432.2L391.3 1431.3L391.9 1430.4L392.5 1429.5L393.1 1428.7L393.7 1427.8L394.3 1426.9L394.9 1426.0L395.5 1425.1L396.1 1424.3L396.7 1423.4L397.3 1422.5L397.9 1421.6L398.5 1420.7L399.1 1419.9L399.7 1419.0L400.3 1418.1L400.8 1417.2L401.4 1416.3L402.0 1415.4L402.6 1414.6L403.2 1413.7L403.8 1412.8L404.4 1411.9L405.0 1411.0L405.6 1410.2L406.2 1409.3L406.8 1408.4L407.4 1407.5L408.0 1406.6L408.6 1405.8L409.2 1404.9L409.8 1404.0L410.4 1403.1L411.0 1402.2L411.6 1401.3L412.2 1400.5L412.8 1399.6L413.4 1398.7L414.0 1397.8L414.6 1396.9L415.2 1396.1L415.8 1395.2L416.4 1394.3L417.0 1393.4L417.6 1392.5L418.2 1391.7L418.8 1390.8L419.4 1389.9L420.0 1389.0L420.6 1388.1L421.2 1387.2L421.8 1386.4L422.4 1385.5L423.0 1384.6L423.6 1383.7L424.2 1382.8L424.8 1382.0L425.4 1381.1L426.0 1380.2L426.6 1379.3L427.2 1378.4L427.8 1377.6L428.4 1376.7L429.0 1375.8L429.6 1374.9L430.2 1374.0L430.8 1373.1L431.4 1372.3L432.0 1371.4L432.6 1370.5L433.2 1369.6L433.8 1368.7L434.4 1367.9L435.0 1367.0L435.6 1366.1L436.2 1365.2L436.8 1364.3L437.4 1363.5L438.0 1362.6L438.6 1361.7L439.2 1360.8L439.8 1359.9L440.4 1359.0L441.0 1358.2L441.6 1357.3L442.2 1356.4L442.8 1355.5L443.4 1354.6L444.0 1353.8L444.6 1352.9L445.2 1352.0L445.8 1351.1L446.4 1350.2L447.0 1349.4L447.6 1348.5L448.2 1347.6L448.8 1346.7L449.4 1345.8L450.0 1344.9L450.6 1344.1L451.2 1343.2L451.8 1342.3L452.4 1341.4L453.0 1340.5L453.6 1339.7L454.1 1338.8L454.7 1337.9L455.3 1337.0L455.9 1336.1L456.5 1335.3L457.1 1334.4L457.7 1333.5L458.3 1332.6L458.9 1331.7L459.5 1330.8L460.1 1330.0L460.7 1329.1L461.3 1328.2L461.9 1327.3L462.5 1326.4L463.1 1325.6L463.7 1324.7L464.3 1323.8L464.9 1322.9L465.5 1322.0L466.1 1321.2L466.7 1320.3L467.3 1319.4L467.9 1318.5L468.5 1317.6L469.1 1316.7L469.7 1315.9L470.3 1315.0L470.9 1314.1L471.5 1313.2L472.1 1312.3L472.7 1311.5L473.3 1310.6L473.9 1309.7L474.5 1308.8L475.1 1307.9L475.7 1307.1L476.3 1306.2L476.9 1305.3L477.5 1304.4L478.1 1303.5L478.7 1302.6L479.3 1301.8L479.9 1300.9L480.5 1300.0L481.1 1299.2L481.7 1298.4L482.3 1297.6L482.9 1296.8L483.5 1296.0L484.1 1295.2L484.7 1294.4L485.3 1293.6L485.9 1292.8L486.5 1292.0L487.1 1291.2L487.7 1290.3L488.3 1289.5L488.9 1288.7L489.5 1287.9L490.1 1287.1L490.7 1286.3L491.3 1285.5L491.9 1284.7L492.5 1283.9L493.1 1283.1L493.7 1282.3L494.3 1281.5L494.9 1280.7L495.5 1279.9L496.1 1279.1L496.7 1278.3L497.3 1277.5L497.9 1276.7L498.5 1275.9L499.1 1275.1L499.7 1274.3L500.3 1273.5L500.9 1272.7L501.5 1271.8L502.1 1271.0L502.7 1270.2L503.3 1269.4L503.9 1268.6L504.5 1267.8L505.1 1267.0L505.7 1266.2L506.3 1265.4L506.9 1264.6L507.5 1263.8L508.1 1263.0L508.7 1262.2L509.3 1261.4L509.9 1260.1L510.5 1260.8L511.1 1257.7L511.7 1259.3L512.3 1259.4L512.9 1258.3L513.5 1254.1L514.1 1253.5L514.7 1256.6L515.3 1258.9L515.9 1254.5L516.5 1252.2L517.1 1249.6L517.7 1249.0L518.2 1252.0L518.8 1247.7L519.4 1248.1L520.0 1248.5L520.6 1247.7L521.2 1239.8L521.8 1241.3L522.4 1246.2L523.0 1243.7L523.6 1246.1L524.2 1235.9L524.8 1237.3L525.4 1239.7L526.0 1241.8L526.6 1234.4L527.2 1240.4L527.8 1235.4L528.4 1233.3L529.0 1238.8L529.6 1229.3L530.2 1238.4L530.8 1230.2L531.4 1230.0L532.0 1227.3L532.6 1229.6L533.2 1233.3L533.8 1225.1L534.4 1228.3L535.0 1226.1L535.6 1223.6L536.2 1220.8L536.8 1226.8L537.4 1222.6L538.0 1222.4L538.6 1223.2L539.2 1216.5L539.8 1224.2L540.4 1224.3L541.0 1215.8L541.6 1221.8L542.2 1219.5L542.8 1213.9L543.4 1212.8L544.0 1209.8L544.6 1212.9L545.2 1212.6L545.8 1212.2L546.4 1211.3L547.0 1211.3L547.6 1205.4L548.2 1205.8L548.8 1209.0L549.4 1207.2L550.0 1202.8L550.6 1203.2L551.2 1210.8L551.8 1207.9L552.4 1206.2L553.0 1200.9L553.6 1200.9L554.2 1203.5L554.8 1201.0L555.4 1201.1L556.0 1193.1L556.6 1200.4L557.2 1193.5L557.8 1194.2L558.4 1195.8L559.0 1200.0L559.6 1192.7L560.2 1194.8L560.8 1188.7L561.4 1196.7L562.0 1187.6L562.6 1190.3L563.2 1191.2L563.8 1190.6L564.4 1186.7L565.0 1188.4L565.6 1179.9L566.2 1190.8L566.8 1184.9L567.4 1184.5L568.0 1179.6L568.6 1181.5L569.2 1182.7L569.8 1179.1L570.4 1174.8L571.0 1174.9L571.6 1182.2L572.2 1173.4L572.8 1176.3L573.4 1177.9L574.0 1171.2L574.6 1177.4L575.2 1172.6L575.8 1177.5L576.4 1167.8L577.0 1169.6L577.6 1168.1L578.2 1166.2L578.8 1167.2L579.4 1166.4L580.0 1165.2L580.6 1170.1L581.2 1162.8L581.8 1158.7L582.4 1166.3L583.0 1161.7L583.6 1156.0L584.2 1163.9L584.8 1162.8L585.4 1161.1L586.0 1162.3L586.6 1154.9L587.2 1160.9L587.8 1154.4L588.4 1159.5L589.0 1160.4L589.6 1154.3L590.2 1151.9L590.8 1154.8L591.4 1153.8L592.0 1150.5L592.5 1144.6L593.1 1147.1L593.7 1150.2L594.3 1141.4L594.9 1145.3L595.5 1150.6L596.1 1147.4L596.7 1141.1L597.3 1138.8L597.9 1143.2L598.5 1142.9L599.1 1138.2L599.7 1140.1L600.3 1145.0L600.9 1140.1L601.5 1138.0L602.1 1131.5L602.7 1135.6L603.3 1129.4L603.9 1139.9L604.5 1133.7L605.1 1133.9L605.7 1134.1L606.3 1125.6L606.9 1134.2L607.5 1131.9L608.1 1123.5L608.7 1132.9L609.3 1131.5L609.9 1132.2L610.5 1120.6L611.1 1129.7L611.7 1127.2L612.3 1120.1L612.9 1117.2L613.5 1123.6L614.1 1115.4L614.7 1120.4L615.3 1122.7L615.9 1117.0L616.5 1115.4L617.1 1115.6L617.7 1111.2L618.3 1109.8L618.9 1115.0L619.5 1117.2L620.1 1118.5L620.7 1107.0L621.3 1108.6L621.9 1114.0L622.5 1106.9L623.1 1111.8L623.7 1113.1L624.3 1111.3L624.9 1107.7L625.5 1108.1L626.1 1108.8L626.7 1099.4L627.3 1101.0L627.9 1105.0L628.5 1101.1L629.1 1103.8L629.7 1105.4L630.3 1101.6L630.9 1099.2L631.5 1100.0L632.1 1101.6L632.7 1090.9L633.3 1089.5L633.9 1097.6L634.5 1097.5L635.1 1094.4L635.7 1091.2L636.3 1088.1L636.9 1095.9L637.5 1091.7L638.1 1094.3L638.7 1089.6L639.3 1091.1L639.9 1082.8L640.5 1087.9L641.1 1079.6L641.7 1081.6L642.3 1082.2L642.9 1082.3L643.5 1087.2L644.1 1082.0L644.7 1074.9L645.3 1082.4L645.9 1081.1L646.5 1081.2L647.1 1081.6L647.7 1079.0L648.3 1075.0L648.9 1076.0L649.5 1067.9L650.1 1070.9L650.7 1070.5L651.3 1073.6L651.9 1064.7L652.5 1065.6L653.1 1065.3L653.7 1064.0L654.3 1066.4L654.9 1071.9L655.5 1063.1L656.1 1059.2L656.7 1057.7L657.3 1065.7L657.9 1060.7L658.5 1067.0L659.1 1057.3L659.7 1065.2L660.3 1056.5L660.9 1063.6L661.5 1062.3L662.1 1055.1L662.7 1050.6L663.3 1056.1L663.9 1054.9L664.5 1054.7L665.1 1048.0L665.7 1055.5L666.3 1048.8L666.8 1047.7L667.4 1044.0L668.0 1042.5L668.6 1046.8L669.2 1042.2L669.8 1043.5L670.4 1047.9L671.0 1047.3L671.6 1042.8L672.2 1039.3L672.8 1043.4L673.4 1039.6L674.0 1046.0L674.6 1042.6L675.2 1042.9L675.8 1035.1L676.4 1040.2L677.0 1035.3L677.6 1032.4L678.2 1030.0L678.8 1033.9L679.4 1034.8L680.0 1029.2L680.6 1026.5L681.2 1031.6L681.8 1030.1L682.4 1031.6L683.0 1032.5L683.6 1023.3L684.2 1032.2L684.8 1023.2L685.4 1027.9L686.0 1020.9L686.6 1026.4L687.2 1020.7L687.8 1022.0L688.4 1025.5L689.0 1023.3L689.6 1022.4L690.2 1023.5L690.8 1016.6L691.4 1013.9L692.0 1020.0L692.6 1016.3L693.2 1011.7L693.8 1019.5L694.4 1017.6L695.0 1015.7L695.6 1010.8L696.2 1014.1L696.8 1008.4L697.4 1006.3L698.0 1011.8L698.6 1008.5L699.2 1009.3L699.8 1000.5L700.4 1005.1L701.0 1003.0L701.6 997.7L702.2 1006.5L702.8 1001.0L703.4 1000.6L704.0 1000.9L704.6 1000.6L705.2 993.8L705.8 993.9L706.4 991.8L707.0 997.5L707.6 991.0L708.2 996.5L708.8 996.8L709.4 995.5L710.0 997.4L710.6 991.0L711.2 990.4L711.8 990.1L712.4 989.6L713.0 987.7L713.6 983.7L714.2 988.2L714.8 988.1L715.4 982.3L716.0 978.5L716.6 983.5L717.2 978.6L717.8 978.7L718.4 984.5L719.0 982.7L719.6 983.7L720.2 978.4L720.8 979.3L721.4 972.7L722.0 976.4L722.6 974.7L723.2 969.7L723.8 974.1L724.4 973.3L725.0 966.9L725.6 973.3L726.2 966.4L726.8 972.9L727.4 964.7L728.0 971.2L728.6 968.7L729.2 962.6L729.8 960.0L730.4 963.3L731.0 960.9L731.6 962.9L732.1 960.7L732.7 954.3L733.3 956.5L733.9 958.7L734.5 959.7L735.1 953.6L735.7 956.3L736.3 951.3L736.9 957.0L737.5 954.8L738.1 950.0L738.7 947.2L739.3 956.5L739.9 946.0L740.5 949.8L741.1 944.1L741.7 944.7L742.3 942.8L742.9 950.1L743.5 945.0L744.1 939.3L744.7 937.7L745.3 943.6L745.9 938.4L746.5 944.0L747.1 941.2L747.7 941.0L748.3 934.3L748.9 934.0L749.5 940.0L750.1 941.5L750.7 934.6L751.3 933.6L751.9 933.0L752.5 927.7L753.1 927.6L753.7 925.8L754.3 925.0L754.9 927.2L755.5 924.2L756.1 932.8L756.7 929.9L757.3 931.2L757.9 919.1L758.5 927.8L759.1 926.3L759.7 924.9L760.3 916.1L760.9 926.3L761.5 925.6L762.1 920.6L762.7 920.6L763.3 913.7L763.9 920.6L764.5 910.7L765.1 916.1L765.7 918.6L766.3 910.9L766.9 911.8L767.5 913.4L768.1 904.9L768.7 906.2L769.3 912.4L769.9 913.5L770.5 903.0L771.1 902.4L771.7 900.2L772.3 907.8L772.9 909.6L773.5 897.6L774.1 905.4L774.7 902.1L775.3 897.4L775.9 901.9L776.5 898.8L777.1 894.7L777.7 894.1L778.3 893.6L778.9 891.0L779.5 893.3L780.1 896.1L780.7 888.2L781.3 892.2L781.9 896.4L782.5 889.9L783.1 885.1L783.7 892.2L784.3 892.1L784.9 882.7L785.5 890.0L786.1 889.9L786.7 887.2L787.3 889.0L787.9 885.9L788.5 884.6L789.0 877.3L789.6 885.2L790.2 883.7L790.8 877.2L791.4 878.4L792.0 879.7L792.6 872.9L793.2 873.6L793.8 871.4L794.4 878.1L795.0 870.8L795.6 867.7L796.2 875.8L796.8 873.2L797.4 866.3L798.0 863.2L798.6 867.2L799.2 871.4L799.8 862.6L800.4 865.2L801.0 859.1L801.6 862.2L802.2 863.6L802.8 865.1L803.4 857.9L804.0 858.5L804.6 858.3L805.2 853.5L805.8 860.9L806.4 860.0L807.0 852.1L807.6 854.5L808.2 858.9L808.8 857.6L809.4 855.0L810.0 848.9L810.6 848.4L811.2 850.9L811.8 852.0L812.4 849.0L813.0 851.4L813.6 851.7L814.2 841.5L814.8 850.2L815.4 844.7L816.0 844.8L816.6 843.5L817.2 844.3L817.8 841.6L818.4 840.7L819.0 841.7L819.6 836.9L820.2 836.0L820.8 832.3L821.4 841.1L822.0 836.2L822.6 837.6L823.2 835.7L823.8 835.3L824.4 828.9L825.0 835.9L825.6 827.8L826.2 833.7L826.8 832.3L827.4 832.7L828.0 832.2L828.6 828.1L829.2 829.8L829.8 821.5L830.4 824.5L831.0 826.0L831.6 821.6L832.2 818.9L832.8 822.1L833.4 819.7L834.0 815.5L834.6 815.8L835.2 815.3L835.8 821.1L836.4 812.2L837.0 812.0L837.6 816.8L838.2 810.5L838.8 808.6L839.4 814.3L840.0 812.5L840.6 812.5L841.2 804.9L841.8 806.6L842.4 802.9L843.0 806.6L843.6 803.0L844.2 805.1L844.8 800.3L845.3 798.6L845.9 799.1L846.5 806.0L847.1 797.4L847.7 796.7L848.3 797.4L848.9 793.5L849.5 800.0L850.1 792.6L850.7 799.9L851.3 793.4L851.9 789.3L852.5 789.9L853.1 790.0L853.7 788.2L854.3 794.7L854.9 791.9L855.5 788.5L856.1 787.9L856.7 790.4L857.3 786.9L857.9 787.4L858.5 781.5L859.1 787.8L859.7 780.4L860.3 786.0L860.9 785.1L861.5 775.7L862.1 778.1L862.7 777.8L863.3 773.6L863.9 777.8L864.5 776.8L865.1 778.1L865.7 770.8L866.3 769.2L866.9 771.2L867.5 770.5L868.1 770.8L868.7 771.5L869.3 773.1L869.9 764.5L870.5 764.9L871.1 771.3L871.7 769.4L872.3 766.6L872.9 769.2L873.5 759.2L874.1 763.0L874.7 759.2L875.3 758.0L875.9 759.1L876.5 762.6L877.1 755.4L877.7 756.9L878.3 752.7L878.9 755.5L879.5 752.3L880.1 757.2L880.7 755.5L881.3 750.2L881.9 754.7L882.5 754.7L883.1 751.3L883.7 753.8L884.3 747.7L884.9 748.9L885.5 747.5L886.1 746.2L886.7 747.7L887.3 741.8L887.9 742.7L888.5 739.8L889.1 742.3L889.7 738.4L890.3 741.5L890.9 743.1L891.5 736.2L892.1 733.4L892.7 741.4L893.3 732.4L893.9 737.6L894.5 738.3L895.1 732.7L895.7 734.3L896.3 731.2L896.9 729.5L897.5 730.6L898.1 729.5L898.7 728.1L899.3 727.5L899.9 723.0L900.5 730.7L901.0 723.7L901.6 725.4L902.2 727.7L902.8 718.5L903.4 721.8L904.0 718.5L904.6 722.2L905.2 722.9L905.8 722.1L906.4 716.6L907.0 713.8L907.6 717.3L908.2 718.5L908.8 718.3L909.4 715.2L910.0 708.6L910.6 716.1L911.2 713.7L911.8 714.7L912.4 706.8L913.0 706.7L913.6 704.4L914.2 703.6L914.8 707.1L915.4 705.8L916.0 702.1L916.6 705.3L917.2 701.4L917.8 697.8L918.4 701.7L919.0 702.3L919.6 698.0L920.2 695.5L920.8 701.2L921.4 696.5L922.0 697.4L922.6 695.8L923.2 697.1L923.8 695.3L924.4 696.8L925.0 691.9L925.6 693.7L926.2 688.2L926.8 689.6L927.4 688.6L928.0 686.0L928.6 689.9L929.2 686.4L929.8 682.6L930.4 680.3L931.0 682.6L931.6 677.9L932.2 680.5L932.8 682.0L933.4 681.5L934.0 680.8L934.6 675.5L935.2 674.7L935.8 672.4L936.4 672.9L937.0 679.5L937.6 674.1L938.2 676.5L938.8 675.2L939.4 670.0L940.0 669.7L940.6 672.9L941.2 673.5L941.8 672.1L942.4 670.9L943.0 662.9L943.6 667.4L944.2 665.1L944.8 659.8L945.4 667.8L946.0 666.3L946.6 663.6L947.2 662.3L947.8 655.7L948.4 662.0L949.0 655.7L949.6 653.7L950.2 653.6L950.8 651.7L951.4 654.8L952.0 657.5L952.6 657.1L953.2 649.7L953.8 654.3L954.4 646.6L955.0 651.5L955.6 645.4L956.2 651.2L956.8 647.3L957.4 651.3L957.9 645.3L958.5 644.3L959.1 642.7L959.7 647.0L960.3 645.3L960.9 643.4L961.5 643.0L962.1 642.3L962.7 635.9L963.3 642.7L963.9 635.2L964.5 636.6L965.1 634.2L965.7 635.6L966.3 632.2L966.9 632.9L967.5 632.0L968.1 632.2L968.7 627.4L969.3 627.1L969.9 624.9L970.5 626.9L971.1 631.3L971.7 621.9L972.3 627.2L972.9 626.1L973.5 627.6L974.1 619.6L974.7 622.6L975.3 617.4L975.9 618.7L976.5 624.6L977.1 614.4L977.7 622.7L978.3 618.2L978.9 620.1L979.5 613.1L980.1 619.2L980.7 611.4L981.3 612.3L981.9 614.4L982.5 613.1L983.1 607.1L983.7 606.5L984.3 607.2L984.9 606.2L985.5 607.2L986.1 609.0L986.7 609.8L987.3 604.7L987.9 602.8L988.5 607.7L989.1 603.4L989.7 605.3L990.3 597.7L990.9 599.5L991.5 595.0L992.1 600.7L992.7 599.7L993.3 591.9L993.9 598.2L994.5 593.3L995.1 591.2L995.7 597.2L996.3 594.8L996.9 592.3L997.5 590.3L998.1 585.1L998.7 592.2L999.3 591.1L999.9 585.1L1000.5 581.2L1001.1 584.8L1001.7 582.3L1002.3 582.4L1002.9 583.8L1003.5 583.8L1004.1 578.2L1004.7 575.7L1005.2 576.3L1005.8 575.9L1006.4 574.5L1007.0 575.4L1007.6 573.7L1008.2 570.5L1008.8 570.3L1009.4 577.0L1010.0 575.7L1010.6 568.1L1011.2 567.5L1011.8 571.4L1012.4 565.9L1013.0 565.4L1013.6 564.3L1014.2 568.2L1014.8 568.6L1015.4 564.3L1016.0 559.0L1016.6 557.9L1017.2 563.5L1017.8 563.0L1018.4 557.9L1019.0 558.0L1019.6 554.4L1020.2 558.7L1020.8 556.9L1021.4 557.7L1022.0 559.3L1022.6 555.7L1023.2 556.7L1023.8 549.2L1024.4 554.9L1025.0 550.4L1025.6 545.6L1026.2 548.8L1026.8 547.7L1027.4 544.9L1028.0 545.5L1028.6 546.8L1029.2 545.4L1029.8 545.8L1030.4 544.2L1031.0 539.0L1031.6 540.6L1032.2 540.8L1032.8 540.1L1033.4 535.7L1034.0 534.3L1034.6 536.2L1035.2 533.6L1035.8 534.9L1036.4 537.8L1037.0 536.6L1037.6 531.0L1038.2 526.9L1038.8 534.1L1039.4 533.9L1040.0 527.3L1040.6 526.0L1041.2 523.6L1041.8 527.4L1042.4 524.9L1043.0 522.8L1043.5 525.1L1044.1 527.6L1044.7 526.5L1045.3 517.0L1045.9 518.1L1046.5 515.4L1047.1 521.9L1047.7 513.4L1048.3 517.9L1048.9 514.7L1049.5 513.1L1050.1 510.9L1050.7 512.1L1051.3 512.7L1051.9 511.5L1052.5 508.7L1053.1 512.9L1053.7 504.9L1054.3 508.5L1054.9 504.1L1055.5 508.8L1056.1 503.4L1056.7 501.6L1057.3 504.5L1057.9 500.8L1058.5 501.1L1059.1 503.5L1059.7 496.0L1060.3 500.5L1060.9 494.6L1061.5 495.1L1062.1 499.5L1062.7 497.6L1063.3 496.0L1063.9 491.4L1064.5 496.0L1065.1 495.0L1065.7 493.1L1066.3 491.5L1066.9 489.5L1067.5 492.5L1068.1 490.3L1068.7 483.4L1069.3 482.9L1069.9 487.2L1070.5 489.4L1071.1 488.0L1071.7 486.3L1072.3 480.4L1072.9 483.5L1073.5 479.1L1074.1 483.9L1074.7 476.2L1075.3 476.5L1075.9 473.0L1076.5 475.3L1077.1 478.4L1077.7 470.7L1078.3 475.1L1078.9 471.5L1079.5 473.8L1080.1 471.1L1080.7 469.2L1081.3 465.2L1081.9 464.1L1082.4 463.8L1083.0 471.6L1083.6 467.8L1084.2 461.2L1084.8 468.1L1085.4 466.9L1086.0 459.3L1086.6 459.1L1087.2 462.9L1087.8 462.4L1088.4 458.6L1089.0 457.5L1089.6 454.5L1090.2 455.3L1090.8 454.1L1091.4 458.4L1091.9 457.3L1092.5 453.1L1093.1 453.2L1093.7 455.3L1094.3 450.0L1094.9 450.5L1095.5 454.5L1096.1 448.8L1096.7 453.2L1097.3 449.8L1097.9 445.3L1098.5 448.1L1099.1 443.4L1099.7 443.3L1100.3 445.7L1100.9 439.5L1101.5 443.0L1102.0 446.8L1102.6 444.5L1103.2 443.2L1103.8 441.1L1104.4 440.1L1105.0 439.2L1105.6 441.7L1106.2 438.4L1106.8 436.7L1107.4 439.4L1108.0 436.3L1108.5 430.1L1109.1 435.5L1109.7 434.8L1110.3 430.5L1110.9 427.4L1111.5 427.1L1112.1 431.8L1112.6 430.8L1113.2 423.3L1113.8 424.7L1114.4 422.4L1115.0 423.9L1115.6 420.6L1116.2 422.0L1116.7 418.1L1117.3 423.7L1117.9 422.9L1118.5 419.8L1119.1 417.7L1119.7 420.2L1120.3 420.9L1120.8 411.9L1121.4 412.0L1122.0 410.3L1122.6 414.5L1123.2 408.2L1123.8 408.8L1124.4 407.7L1124.9 409.1L1125.5 409.8L1126.1 413.3L1126.7 404.4L1127.3 410.0L1127.9 407.0L1128.5 409.1L1129.0 404.9L1129.6 406.0L1130.2 402.4L1130.8 400.9L1131.4 400.1L1132.0 402.3L1132.6 404.4L1133.1 396.3L1133.7 402.7L1134.3 397.4L1134.9 399.2L1135.5 398.7L1136.1 390.4L1136.7 398.0L1137.2 394.0L1137.8 396.3L1138.4 389.0L1139.0 392.8L1139.6 389.5L1140.2 388.5L1140.7 388.7L1141.3 384.7L1141.9 389.3L1142.5 389.6L1143.1 385.1L1143.7 383.0L1144.3 378.6L1144.9 386.0L1145.5 384.0L1146.0 383.1L1146.6 375.1L1147.2 377.1L1147.8 378.9L1148.4 378.0L1149.0 378.9L1149.6 369.7L1150.2 372.2L1150.8 367.8L1151.4 375.1L1152.0 371.6L1152.6 365.0L1153.1 371.1L1153.7 363.7L1154.3 365.1L1154.9 367.8L1155.4 354.8L1155.9 349.9L1156.4 349.4L1156.9 346.4L1157.3 352.1L1157.7 354.3L1158.3 355.7L1158.9 357.4L1159.5 352.3L1160.1 355.0L1160.7 355.9L1161.2 350.8L1161.8 352.6L1162.4 356.4L1163.0 352.7L1163.6 354.5L1164.2 351.5L1164.8 351.7L1165.3 345.1L1165.9 348.1L1166.5 348.1L1167.1 348.0L1167.7 347.2L1168.3 341.4L1168.9 341.2L1169.4 344.5L1170.0 337.7L1170.6 336.2L1171.2 337.7L1171.8 339.4L1172.4 340.4L1173.0 333.7L1173.5 333.9L1174.1 334.0L1174.7 338.2L1175.3 333.7L1175.9 328.5L1176.5 327.1L1177.0 329.9L1177.6 330.5L1178.2 328.8L1178.8 324.8L1179.4 326.0L1180.0 329.0L1180.6 323.4L1181.1 322.7L1181.7 325.7L1182.3 322.0L1182.9 324.4L1183.5 317.0L1184.1 320.3L1184.7 318.3L1185.3 315.8L1185.9 319.4L1186.5 318.9L1187.1 310.1L1187.7 314.6L1188.2 312.6L1188.8 315.5L1189.4 306.3L1190.0 311.3L1190.6 310.9L1191.2 307.6L1191.8 309.4L1192.4 302.8L1193.0 304.3L1193.6 303.7L1194.2 305.5L1194.8 301.4L1195.4 299.0L1196.0 299.0L1196.6 300.3L1197.2 302.6L1197.8 297.2L1198.4 297.6L1198.9 298.2L1199.5 293.0L1200.1 292.5L1200.7 293.1L1201.3 295.4L1201.9 291.0L1202.5 287.4L1203.1 288.6L1203.7 283.7L1204.3 286.2L1204.9 290.3L1205.5 282.7L1206.1 284.6L1206.6 286.6L1207.2 288.1L1207.8 295.8L1208.3 295.4L1208.9 290.6L1209.4 300.0L1210.0 299.9L1210.6 295.7L1211.1 301.8L1211.7 299.4L1212.3 297.2L1212.9 294.4L1213.5 299.2L1214.1 296.2L1214.6 298.7L1215.2 287.6L1215.8 295.6L1216.4 291.2L1217.0 289.0L1217.6 289.8L1218.1 288.6L1218.7 284.9L1219.3 287.7L1219.9 280.8L1220.5 286.3L1221.1 278.5L1221.7 278.7L1222.2 283.5L1222.8 273.9L1223.4 275.9L1224.0 278.7L1224.6 280.2L1225.2 271.9L1225.8 273.9L1226.3 267.6L1226.9 268.0L1227.5 271.4L1228.1 273.1L1228.7 269.5L1229.3 265.3L1229.9 268.4L1230.4 262.1L1231.0 262.4L1231.6 263.5L1232.2 260.2L1232.7 261.1L1233.3 260.9L1233.9 264.4L1234.5 269.5L1235.0 263.3L1235.6 264.1L1236.2 264.5L1236.8 267.0L1237.4 263.8L1237.9 260.0L1238.5 257.1L1239.1 262.4L1239.7 254.0L1240.3 261.4L1240.9 256.4L1241.5 251.6L1242.1 255.7L1242.7 259.0L1243.3 254.5L1243.9 247.8L1244.5 255.3L1245.0 257.6L1245.6 248.7L1246.2 247.0L1246.8 255.6L1247.4 249.0L1248.0 245.1L1248.6 246.1L1249.2 240.6L1249.7 249.9L1250.3 250.8L1250.9 250.4L1251.5 247.6L1252.1 238.4L1252.6 239.4L1253.2 245.7L1253.8 239.8L1254.4 246.2L1254.9 237.4L1255.5 247.9L1256.1 242.2L1256.7 241.6L1257.3 235.4L1257.8 246.4L1258.4 246.1L1259.0 235.9L1259.6 234.7L1260.2 234.9L1260.8 240.9L1261.4 240.8L1261.9 235.3L1262.5 239.2L1263.1 232.1L1263.7 243.3L1264.3 242.2L1264.9 239.5L1265.5 237.4L1266.0 233.2L1266.6 234.9L1267.2 233.2L1267.8 238.5L1268.4 230.8L1269.0 237.6L1269.6 232.3L1270.1 228.2L1270.7 230.2L1271.3 227.1L1271.9 222.1L1272.5 229.7L1273.1 232.8L1273.7 221.1L1274.2 228.8L1274.8 231.3L1275.4 227.2L1276.0 228.4L1276.6 220.7L1277.2 225.6L1277.8 226.1L1278.4 226.8L1279.0 219.9L1279.6 220.7L1280.2 224.3L1280.8 222.3L1281.4 217.7L1281.9 223.4L1282.5 227.8L1283.0 231.0L1283.5 226.0L1284.1 225.5L1284.6 225.2L1285.1 231.2L1285.7 242.3L1286.3 240.7L1286.8 249.1L1287.4 257.6L1287.9 259.3L1288.5 268.8L1289.0 262.8L1289.5 275.2L1290.1 275.3L1290.6 273.0L1291.2 273.4L1291.7 284.4L1292.2 281.7L1292.8 286.9L1293.3 289.9L1293.8 282.0L1294.4 289.6L1294.9 289.9L1295.4 284.0L1296.0 283.6L1296.6 291.8L1297.2 289.2L1297.7 286.8L1298.3 284.7L1298.9 285.8L1299.5 280.8L1300.0 282.5L1300.6 287.4L1301.2 281.9L1301.8 275.9L1302.4 275.3L1302.9 280.3L1303.5 279.2L1304.1 281.7L1304.7 277.8L1305.3 274.7L1305.9 278.2L1306.4 275.1L1307.0 284.8L1307.6 279.0L1308.2 271.5L1308.8 283.5L1309.4 278.1L1310.0 270.4L1310.5 273.4L1311.1 269.6L1311.7 275.1L1312.3 277.3L1312.9 276.0L1313.4 276.2L1314.0 276.9L1314.6 271.4L1315.2 277.4L1315.7 271.0L1316.3 274.2L1316.9 272.4L1317.4 272.4L1318.0 269.3L1318.6 278.9L1319.2 266.7L1319.7 269.6L1320.3 275.2L1320.9 276.2L1321.5 269.3L1322.0 268.9L1322.6 273.6L1323.2 270.7L1323.7 286.4L1324.3 279.3L1324.8 294.5L1325.4 297.3L1326.0 297.9L1326.5 298.7L1327.1 289.4L1327.7 297.2L1328.2 297.8L1328.8 291.3L1329.3 286.2L1329.9 289.1L1330.5 288.7L1331.0 283.4L1331.6 290.3L1332.2 282.6L1332.8 285.6L1333.4 280.3L1334.0 291.9L1334.6 281.7L1335.2 283.0L1335.8 280.9L1336.4 285.6L1336.9 287.3L1337.5 287.6L1338.1 285.2L1338.7 282.9L1339.3 287.1L1339.9 275.2L1340.5 280.7L1341.1 281.3L1341.7 281.0L1342.3 284.9L1342.9 278.3L1343.5 280.8L1344.0 277.8L1344.6 277.0L1345.2 281.9L1345.8 270.7L1346.4 275.7L1347.0 270.1L1347.6 276.2L1348.2 269.3L1348.8 273.8L1349.4 272.0L1350.0 268.0L1350.6 273.4L1351.1 268.4L1351.7 273.5L1352.3 265.2L1352.9 267.0L1353.5 274.7L1354.1 273.1L1354.7 265.4L1355.2 265.5L1355.8 262.8L1356.4 270.0L1357.0 265.1L1357.5 264.0L1358.1 271.0L1358.7 271.1L1359.3 267.7L1359.9 269.4L1360.4 258.1L1361.0 266.0L1361.6 261.0L1362.2 255.5L1362.8 257.4L1363.4 263.9L1364.0 261.1L1364.6 256.3L1365.2 255.0L1365.8 260.4L1366.4 249.5L1367.0 260.2L1367.6 252.1L1368.1 259.8L1368.7 261.4L1369.3 257.3L1369.8 253.1L1370.4 261.4L1370.9 265.7L1371.5 263.0L1372.1 267.8L1372.6 265.0L1373.2 271.7L1373.7 272.1L1374.3 263.7L1374.9 263.1L1375.4 269.4L1376.0 268.8L1376.6 266.1L1377.1 267.2L1377.7 262.1L1378.3 271.0L1378.9 261.0L1379.5 269.3L1380.0 267.0L1380.6 268.1L1381.2 261.1L1381.8 261.2L1382.3 265.9L1382.9 265.1L1383.5 268.5L1384.1 259.9L1384.7 264.6L1385.3 262.0L1385.9 263.2L1386.5 260.2L1387.1 261.1L1387.7 260.2L1388.3 255.5L1388.9 254.7L1389.5 260.1L1390.0 263.2L1390.6 261.4L1391.2 259.4L1391.8 252.2L1392.4 263.0L1393.0 256.2L1393.6 251.3L1394.2 250.2L1394.8 261.8L1395.4 250.5L1396.0 260.8L1396.6 252.8L1397.2 259.8L1397.8 252.2L1398.4 257.9L1399.0 257.0L1399.6 250.6L1400.2 258.6L1400.8 259.4L1401.4 248.3L1402.0 250.8L1402.6 260.5L1403.2 250.8L1403.8 258.1L1404.4 252.8L1405.0 249.7L1405.6 260.1L1406.2 255.0L1406.8 259.9L1407.4 254.3L1408.0 255.0L1408.6 257.1L1409.2 255.5L1409.8 252.3L1410.4 252.3L1411.0 257.8L1411.6 253.0L1412.2 245.9L1412.8 253.5L1413.4 253.0L1414.0 252.2L1414.6 253.0L1415.1 252.4L1415.7 243.7L1416.3 253.5L1416.9 246.7L1417.5 252.0L1418.1 244.7L1418.7 246.5L1419.3 244.9L1419.9 249.3L1420.5 240.1L1421.1 244.4L1421.7 239.8L1422.2 245.8L1422.8 240.4L1423.4 241.6L1424.0 243.2L1424.6 234.0L1425.2 236.7L1425.8 236.6L1426.3 237.1L1426.9 243.1L1427.5 234.9L1428.1 246.8L1428.7 247.1L1429.3 245.6L1429.9 236.5L1430.4 241.0L1431.0 248.0L1431.6 247.3L1432.2 245.3L1432.8 237.9L1433.4 242.5L1434.0 245.7L1434.5 245.6L1435.1 236.6L1435.7 238.4L1436.3 236.5L1436.9 234.2L1437.5 241.6L1438.1 244.5L1438.6 235.6L1439.2 240.3L1439.8 232.0L1440.4 232.8L1441.0 235.2L1441.6 231.1L1442.1 242.0L1442.7 235.8L1443.3 242.5L1443.8 237.7L1444.4 240.8L1444.9 242.7L1445.5 238.4L1446.1 245.4L1446.6 235.3L1447.2 233.8L1447.8 240.1L1448.3 234.7L1448.9 237.8L1449.4 241.8L1450.0 236.7L1450.6 236.2L1451.2 238.5L1451.8 237.0L1452.3 239.3L1452.9 235.5L1453.5 247.0L1454.1 247.6L1454.7 247.0L1455.3 238.4L1455.9 247.0L1456.4 245.1L1457.0 239.5L1457.6 244.1L1458.2 243.6L1458.8 242.1L1459.4 237.6L1459.9 242.2L1460.5 244.0L1461.1 238.3L1461.6 242.4L1462.2 244.3L1462.7 238.0L1463.3 232.3L1463.9 234.1L1464.4 237.5L1465.0 230.8L1465.6 231.4L1466.1 233.2L1466.7 242.3L1467.3 239.0L1467.9 243.7L1468.4 244.1L1469.0 243.9L1469.6 239.1L1470.2 242.2L1470.8 239.1L1471.3 239.9L1471.9 234.8L1472.5 244.2L1473.1 247.3L1473.6 237.8L1474.2 240.5L1474.8 236.6L1475.4 244.9L1475.9 243.7L1476.5 240.0L1477.1 238.4L1477.7 240.0L1478.2 240.9L1478.8 244.9L1479.4 232.1L1480.0 241.7L1480.6 235.2L1481.1 241.7L1481.7 232.8L1482.3 235.3L1482.9 239.9L1483.4 242.9L1484.0 235.9L1484.6 240.7L1485.2 239.5L1485.7 238.3L1486.3 242.1L1486.9 233.6L1487.5 237.9L1488.0 240.6L1488.6 237.2L1489.2 239.2L1489.8 238.3L1490.4 238.8L1490.9 229.0L1491.5 234.0L1492.1 232.2L1492.7 235.1L1493.2 227.3L1493.8 232.6L1494.4 227.7L1495.0 225.5L1495.6 229.8L1496.1 232.7L1496.7 225.0L1497.3 228.7L1497.9 232.7L1498.5 230.6L1499.1 226.6L1499.6 228.1L1500.2 233.1L1500.8 224.6L1501.4 234.6L1502.0 223.9L1502.6 232.9L1503.2 236.9L1503.7 226.1L1504.3 236.0L1504.9 223.6L1505.5 224.8L1506.0 235.5L1506.6 229.0L1507.1 222.1L1507.7 222.5L1508.3 222.7L1508.8 220.2L1509.4 229.3L1510.0 222.3L1510.5 220.9L1511.1 228.8L1511.6 219.7L1512.2 223.5L1512.8 220.9L1513.3 230.3L1513.9 228.5L1514.4 222.5L1515.0 225.1L1515.6 225.4L1516.2 234.1L1516.7 222.3L1517.3 232.7L1517.9 226.8L1518.5 225.3L1519.0 230.6L1519.6 231.8L1520.2 227.9L1520.8 228.4L1521.3 227.7L1521.9 231.8L1522.5 233.1L1523.1 229.0L1523.6 231.9L1524.1 223.3L1524.7 230.5L1525.2 227.7L1525.7 234.4L1526.3 234.7L1526.8 238.5L1527.3 251.0L1527.8 256.9L1528.3 342.4L1528.3 470.9L1528.2 525.3L1528.7 569.1L1529.2 612.4L1529.6 626.9L1530.1 645.5L1530.6 623.5L1531.0 618.3L1531.6 606.3L1532.2 607.6L1532.8 604.7L1533.4 614.2L1534.0 613.8L1534.5 606.0L1535.1 607.0L1535.7 604.3L1536.3 611.2L1536.9 600.8L1537.5 608.1L1538.1 605.1L1538.6 601.5L1539.2 604.9L1539.8 606.5L1540.4 603.4L1541.0 607.6L1541.6 596.1L1542.2 600.1L1542.7 595.6L1543.3 602.3L1543.9 603.1L1544.5 601.1L1545.1 601.6L1545.7 603.8L1546.3 597.5L1546.8 602.0L1547.4 593.7L1548.0 594.0L1548.6 600.0L1549.2 603.9L1549.8 592.2L1550.4 596.5L1550.9 592.4L1551.5 596.8L1552.1 598.0L1552.7 591.0L1553.3 598.3L1553.9 597.1L1554.4 588.2L1555.0 598.1L1555.6 593.6L1556.2 586.8L1556.8 591.8L1557.4 596.0L1558.0 589.1L1558.5 591.5L1559.1 583.0L1559.7 582.5L1560.3 593.4L1560.9 589.1L1561.5 580.0L1562.1 590.9L1562.6 589.3L1563.2 585.5L1563.8 590.1L1564.4 580.1L1565.0 581.0L1565.6 589.1L1566.2 577.7L1566.7 584.0L1567.3 587.6L1567.9 580.5L1568.5 580.5L1569.1 585.5L1569.7 583.3L1570.3 576.3L1570.8 582.1L1571.4 583.4L1572.0 581.4L1572.6 577.8L1573.2 577.0L1573.8 578.4L1574.4 579.5L1574.9 581.6L1575.5 576.7L1576.1 579.2L1576.7 573.7L1577.3 574.6L1577.9 577.6L1578.5 566.4L1579.0 571.4L1579.6 568.8L1580.2 573.9L1580.8 564.5L1581.4 564.4L1582.0 565.0L1582.6 571.3L1583.1 561.6L1583.7 563.0L1584.3 560.1L1584.9 569.1L1585.5 569.5L1586.1 563.1L1586.7 558.1L1587.2 563.8L1587.8 558.6L1588.4 557.0L1589.0 558.9L1589.6 558.8L1590.2 563.3L1590.7 564.8L1591.3 565.9L1591.9 553.4L1592.5 563.8L1593.1 555.4L1593.7 560.8L1594.3 557.8L1594.8 558.2L1595.4 556.3L1596.0 554.5L1596.6 554.0L1597.2 553.0L1597.8 555.0L1598.4 554.6L1598.9 552.5L1599.5 556.1L1600.1 548.4L1600.7 546.5L1601.3 549.0L1601.9 552.5L1602.5 548.1L1603.0 557.6L1603.6 544.9L1604.2 548.4L1604.8 552.0L1605.4 549.9L1606.0 553.1L1606.6 553.1L1607.1 553.6L1607.7 551.5L1608.3 541.7L1608.9 550.3L1609.5 539.8L1610.1 549.0L1610.7 547.7L1611.2 549.4L1611.8 544.8L1612.4 540.2L1613.0 548.9L1613.6 543.0L1614.2 539.9L1614.8 541.2L1615.3 546.1L1615.9 542.4L1616.5 535.0L1617.1 539.7L1617.7 536.6L1618.3 540.2L1618.9 535.4L1619.4 535.3L1620.0 542.6L1620.6 539.5L1621.2 540.2L1621.8 535.2L1622.4 532.0L1623.0 541.5L1623.5 536.0L1624.1 538.1L1624.7 532.7L1625.3 527.3L1625.9 527.0L1626.5 539.0L1627.0 526.2L1627.6 534.4L1628.2 528.3L1628.8 529.9L1629.4 531.5L1630.0 527.1L1630.6 535.8L1631.1 533.5L1631.7 525.6L1632.3 533.8L1632.9 536.1L1633.5 533.5L1634.1 533.8L1634.7 533.0L1635.2 525.6L1635.8 530.4L1636.4 527.5L1637.0 533.1L1637.6 529.6L1638.2 528.1L1638.8 528.4L1639.3 532.5L1639.9 530.3L1640.5 526.4L1641.1 530.7L1641.7 530.4L1642.3 520.2L1642.9 522.5L1643.4 531.0L1644.0 521.5L1644.6 530.7L1645.2 527.6L1645.8 532.2L1646.4 521.7L1647.0 524.8L1647.6 532.5L1648.2 526.5L1648.8 527.0L1649.4 531.6L1650.0 526.4L1650.6 530.6L1651.2 527.6L1651.8 532.0L1652.3 528.8L1652.9 519.0L1653.5 527.1L1654.1 519.6L1654.7 520.4L1655.3 518.8L1655.9 523.6L1656.4 529.4L1657.0 519.7L1657.6 517.7L1658.2 523.7L1658.8 516.4L1659.4 521.1L1660.0 522.6L1660.5 522.7L1661.1 528.5L1661.7 516.3L1662.3 517.7L1662.9 527.4L1663.5 526.6L1664.1 525.5L1664.6 524.0L1665.2 519.2L1665.8 517.1L1666.4 527.8L1667.0 527.3L1667.6 527.2L1668.1 516.8L1668.7 517.2L1669.3 521.9L1669.9 523.7L1670.5 519.6L1671.1 524.3L1671.7 518.8L1672.2 524.9L1672.8 523.8L1673.4 521.2L1674.0 517.4L1674.6 514.4L1675.2 514.6L1675.8 516.3L1676.3 516.9L1676.9 524.1L1677.5 519.5L1678.1 519.3L1678.7 515.8L1679.3 515.1L1679.9 513.3L1680.4 521.1L1681.0 516.6L1681.6 518.5L1682.2 513.0L1682.8 521.5L1683.4 513.6L1684.0 515.0L1684.5 519.9L1685.1 520.0L1685.7 512.4L1686.3 518.8L1686.9 519.9L1687.5 523.1L1688.1 512.8L1688.6 510.9L1689.2 517.9L1689.8 515.4L1690.4 516.1L1691.0 513.8L1691.6 515.1L1692.2 522.9L1692.7 514.0L1693.3 522.4L1693.9 516.0L1694.5 519.9L1695.1 521.9L1695.7 520.6L1696.3 514.8L1696.8 521.0L1697.4 522.5L1698.0 521.0L1698.6 522.4L1699.2 520.0L1699.8 517.5L1700.4 514.4L1700.9 523.1L1701.5 516.0L1702.1 516.7L1702.7 518.7L1703.3 518.4L1703.9 517.4L1704.4 522.0L1705.0 514.6L1705.6 520.2L1706.2 523.0L1706.8 526.0L1707.4 522.7L1707.9 527.0L1708.5 521.4L1709.1 519.7L1709.7 516.4L1710.2 523.7L1710.8 524.2L1711.4 523.5L1712.0 516.3L1712.5 519.8L1713.1 515.3L1713.7 524.3L1714.3 521.0L1714.9 513.0L1715.4 520.5L1716.0 518.4L1716.6 512.8L1717.2 520.1L1717.7 512.4L1718.3 516.0L1718.9 521.1L1719.5 516.2L1720.0 511.8L1720.6 508.1L1721.2 508.4L1721.8 517.7L1722.4 515.4L1723.0 517.6L1723.6 511.3L1724.2 508.9L1724.7 514.2L1725.3 515.5L1725.9 505.3L1726.5 505.4L1727.1 513.2L1727.7 506.4L1728.3 507.4L1728.9 513.9L1729.5 511.0L1730.1 511.8L1730.7 511.3L1731.3 509.1L1731.8 508.8L1732.4 515.7L1733.0 509.4L1733.6 505.7L1734.2 512.5L1734.8 515.9L1735.4 505.4L1736.0 514.3L1736.6 506.1L1737.2 505.4L1737.8 510.3L1738.4 505.9L1738.9 515.3L1739.5 507.9L1740.1 518.5L1740.7 513.1L1741.3 518.6L1741.9 516.9L1742.5 512.1L1743.1 507.8L1743.7 515.3L1744.2 518.2L1744.8 520.2L1745.4 517.8L1745.9 508.2L1746.5 509.4L1747.0 520.1L1747.6 519.8L1748.2 509.8L1748.7 522.5L1749.3 522.4L1749.9 512.3L1750.4 513.1L1751.0 514.3L1751.5 514.5L1752.1 517.6L1752.7 523.5L1753.3 517.6L1753.9 513.9L1754.5 515.9L1755.1 514.4L1755.7 515.7L1756.3 508.6L1756.9 510.9L1757.5 515.0L1758.1 511.5L1758.7 514.9L1759.2 510.2L1759.8 510.5L1760.4 507.2L1761.0 516.4L1761.5 506.0L1762.1 504.8L1762.7 507.5L1763.3 514.4L1763.9 509.4L1764.4 510.4L1765.0 505.7L1765.6 511.9L1766.2 511.0L1766.8 505.6L1767.3 505.4L1767.9 514.8L1768.5 512.5L1769.1 513.9L1769.7 502.9L1770.3 504.6L1770.9 515.5L1771.5 506.1L1772.1 506.0L1772.7 510.9L1773.3 503.1L1773.9 508.2L1774.4 512.6L1775.0 509.5L1775.6 510.3L1776.2 512.7L1776.8 509.9L1777.4 507.2L1778.0 506.2L1778.6 505.0L1779.2 506.7L1779.7 508.8L1780.3 512.2L1780.9 505.4L1781.5 512.4L1782.1 503.9L1782.7 514.2L1783.3 509.3L1783.8 511.8L1784.4 504.0L1785.0 501.0L1785.6 512.4L1786.2 512.0L1786.8 511.9L1787.4 506.2L1788.0 509.9L1788.6 499.8L1789.2 503.8L1789.7 504.2L1790.3 499.3L1790.9 503.1L1791.5 502.7L1792.1 504.5L1792.7 509.7L1793.3 499.1L1793.9 501.5L1794.5 508.3L1795.1 506.2L1795.7 501.4L1796.3 507.2L1796.9 501.3L1797.5 506.8L1798.1 506.6L1798.7 500.2L1799.3 505.4L1799.9 508.2L1800.5 501.8L1801.1 500.2L1801.7 499.4L1802.3 506.3L1802.9 507.3L1803.5 502.0L1804.1 506.9L1804.7 504.8L1805.2 503.3L1805.8 506.4L1806.4 506.1L1807.0 502.2L1807.6 504.7L1808.2 508.8L1808.8 501.2L1809.4 497.4L1810.0 508.6L1810.6 500.9L1811.2 509.2L1811.8 501.6L1812.4 504.6L1813.0 498.7L1813.6 498.1L1814.1 508.3L1814.7 500.6L1815.2 498.1L1815.8 502.8L1816.4 503.6L1816.9 500.3L1817.5 508.1L1818.1 507.5L1818.6 496.0L1819.2 500.8L1819.7 502.1L1820.3 504.6L1820.9 502.7L1821.4 495.8L1822.0 497.1L1822.6 498.2L1823.2 505.4L1823.8 505.8L1824.4 508.8L1824.9 505.9L1825.5 503.0L1826.1 510.3L1826.7 510.2L1827.2 514.5L1827.8 517.9L1828.4 519.0L1828.9 513.8L1829.5 521.2L1830.0 517.1L1830.6 517.9L1831.2 516.3L1831.7 521.1L1832.3 516.2L1832.9 524.5L1833.4 520.8L1834.0 517.7L1834.5 516.7L1835.1 515.1L1835.7 517.7L1836.2 523.0L1836.8 516.2L1837.4 521.2L1837.9 523.7L1838.5 523.9L1839.0 527.2L1839.6 521.9L1840.2 527.3L1840.7 527.3L1841.3 526.7L1841.9 530.4L1842.4 520.3L1843.0 518.9L1843.6 519.8L1844.1 523.8L1844.7 520.2L1845.3 526.0L1845.9 526.6L1846.4 522.7L1847.0 523.5L1847.6 523.1L1848.2 515.6L1848.7 525.8L1849.3 523.9L1849.9 520.4L1850.5 517.8L1851.1 518.0L1851.6 523.9L1852.2 521.2L1852.8 520.0L1853.4 518.7L1854.0 515.1L1854.6 524.0L1855.2 527.2L1855.7 518.0L1856.3 521.9L1856.9 518.5L1857.5 517.2L1858.1 522.0L1858.7 525.7L1859.3 523.5L1859.8 524.4L1860.4 523.2L1861.0 518.9L1861.6 527.9L1862.2 517.9L1862.8 524.1L1863.3 516.8L1863.9 525.0L1864.5 524.5L1865.1 525.4L1865.7 527.1L1866.3 516.0L1866.9 515.5L1867.4 513.6L1868.0 513.6L1868.6 518.9L1869.2 521.6L1869.8 516.3L1870.4 524.4L1870.9 516.4L1871.5 515.1L1872.1 515.2L1872.7 520.2L1873.2 511.7L1873.8 514.5L1874.4 513.9L1875.0 516.8L1875.5 522.2L1876.1 520.2L1876.7 516.7L1877.3 522.1L1877.9 512.9L1878.4 518.8L1879.0 522.6L1879.6 516.8L1880.2 520.6L1880.7 524.7L1881.3 514.0L1881.9 523.7L1882.5 525.8L1883.0 520.7L1883.6 526.1L1884.2 521.4L1884.8 521.1L1885.3 536.9L1885.9 543.6L1886.4 547.2L1887.0 622.1L1887.0 705.8L1887.6 704.6L1888.2 696.2L1888.8 700.6L1889.3 696.3L1889.9 696.2L1890.5 704.1L1891.1 692.5L1891.7 692.0L1892.3 691.2L1892.8 693.2L1893.4 697.7L1894.0 699.8L1894.6 691.6L1895.1 690.4L1895.7 694.0L1896.3 694.3L1896.9 691.7L1897.5 691.2L1898.0 691.7L1898.6 697.6L1899.2 694.6L1899.8 686.9L1900.4 686.8L1900.9 689.6L1901.5 689.5L1902.1 686.8L1902.7 688.8L1903.3 691.6L1903.9 688.9L1904.4 688.6L1905.0 689.1L1905.6 683.6L1906.2 690.9L1906.8 684.3L1907.4 683.2L1908.0 684.2L1908.5 683.5L1909.1 683.7L1909.7 688.6L1910.3 683.5L1910.9 686.1L1911.5 689.5L1912.1 687.1L1912.6 680.9L1913.2 688.1L1913.8 678.1L1914.4 684.4L1915.0 686.2L1915.6 676.6L1916.2 675.3L1916.7 680.4L1917.3 685.6L1917.9 676.6L1918.5 678.4L1919.1 675.4L1919.7 681.0L1920.3 680.4L1920.8 683.9L1921.4 676.5L1922.0 676.8L1922.6 682.9L1923.2 680.4L1923.8 680.8L1924.4 684.3L1924.9 672.8L1925.5 674.6L1926.1 674.3L1926.7 672.9L1927.3 675.5L1927.9 670.8L1928.5 672.7L1929.0 669.9L1929.6 675.3L1930.2 675.5L1930.8 670.5L1931.4 674.2L1932.0 674.8L1932.6 667.8L1933.1 669.2L1933.7 678.0L1934.3 678.0L1934.9 671.2L1935.5 675.7L1936.1 677.7L1936.7 671.9L1937.2 666.4L1937.8 676.6L1938.4 668.1L1939.0 673.6L1939.6 670.3L1940.2 664.4L1940.7 674.2L1941.3 664.5L1941.9 673.1L1942.5 661.7L1943.1 671.8L1943.7 671.4L1944.3 670.0L1944.8 667.3L1945.4 660.8L1946.0 662.9L1946.6 660.0L1947.2 670.7L1947.8 662.9L1948.4 659.7L1949.0 658.4L1949.6 657.7L1950.2 661.9L1950.8 656.3L1951.4 665.0L1952.0 663.0L1952.6 663.9L1953.2 661.7L1953.8 655.9L1954.4 661.6L1955.0 653.2L1955.6 661.6L1956.2 664.6L1956.7 653.1L1957.3 656.5L1957.9 654.3L1958.5 654.9L1959.1 660.9L1959.7 653.5L1960.3 658.5L1960.9 660.0L1961.5 654.4L1962.1 655.1L1962.7 649.6L1963.3 660.9L1963.9 653.8L1964.5 659.1L1965.1 658.2L1965.7 651.0L1966.3 654.2L1966.9 652.4L1967.5 652.9L1968.1 656.7L1968.7 648.4L1969.3 656.7L1969.9 655.5L1970.5 648.9L1971.1 644.9L1971.7 651.3L1972.2 646.8L1972.8 654.3L1973.4 645.2L1974.0 647.1L1974.6 644.8L1975.2 650.0L1975.8 642.9L1976.4 648.7L1977.0 643.1L1977.6 644.1L1978.2 645.6L1978.8 641.8L1979.4 651.7L1980.0 642.1L1980.6 648.6L1981.2 646.9L1981.8 651.6L1982.4 645.1L1983.0 650.2L1983.6 638.4L1984.2 647.9L1984.8 643.9L1985.4 645.7L1986.0 639.4L1986.5 644.5L1987.1 649.5L1987.7 644.0L1988.3 638.5L1988.9 648.7L1989.5 643.3L1990.1 649.2L1990.7 640.6L1991.3 639.4L1991.9 639.4L1992.5 647.6L1993.1 637.9L1993.6 643.4L1994.2 647.3L1994.8 635.1L1995.4 636.0L1996.0 638.0L1996.6 645.2L1996.0 637.7L1995.4 641.3L1994.8 640.9L1994.2 647.0L1993.6 640.4L1993.0 642.7L1992.4 646.5L1991.8 643.3L1991.2 642.6L1990.6 643.4L1990.0 639.6L1989.4 638.3L1988.8 642.1L1988.2 643.3L1987.6 649.7L1987.0 641.9L1986.4 640.8L1985.8 640.2L1985.2 641.4L1984.6 643.6L1984.0 644.9L1983.4 649.2L1982.8 648.8L1982.2 643.3L1981.6 651.3L1981.0 645.2L1980.4 650.4L1979.8 652.0L1979.2 655.3L1978.6 653.8L1978.0 646.9L1977.4 649.5L1976.8 647.8L1976.2 649.5L1975.7 656.6L1975.1 655.5L1974.5 645.7L1973.9 649.2L1973.3 657.1L1972.7 649.0L1972.1 649.0L1971.5 649.2L1970.9 650.4L1970.3 656.1L1969.7 649.5L1969.1 649.5L1968.5 660.7L1967.9 661.8L1967.3 657.5L1966.7 656.6L1966.1 649.9L1965.5 659.4L1964.9 655.7L1964.3 660.9L1963.7 653.5L1963.1 658.6L1962.5 655.1L1961.9 664.4L1961.3 659.1L1960.7 654.6L1960.1 656.6L1959.5 655.2L1958.9 654.0L1958.3 659.9L1957.7 656.3L1957.1 662.9L1956.5 665.5L1955.9 658.3L1955.3 657.7L1954.7 668.3L1954.1 657.9L1953.5 658.0L1952.9 664.5L1952.3 663.3L1951.7 659.6L1951.1 658.0L1950.5 663.5L1949.9 670.1L1949.3 671.0L1948.7 664.8L1948.1 664.3L1947.5 665.9L1946.9 662.5L1946.3 666.1L1945.7 666.9L1945.1 665.3L1944.5 661.3L1943.9 665.7L1943.3 669.5L1942.7 663.1L1942.1 663.5L1941.5 666.6L1940.9 665.7L1940.3 664.1L1939.7 667.1L1939.1 674.8L1938.5 665.4L1937.9 668.8L1937.3 678.0L1936.7 677.4L1936.1 668.3L1935.5 672.0L1934.9 677.4L1934.3 671.9L1933.7 670.9L1933.1 679.9L1932.5 678.3L1931.9 667.9L1931.3 676.2L1930.7 680.3L1930.2 674.6L1929.6 673.7L1929.0 677.2L1928.4 672.1L1927.8 679.0L1927.2 676.5L1926.6 675.0L1926.0 675.2L1925.4 672.8L1924.8 680.2L1924.2 672.3L1923.6 675.5L1923.0 675.1L1922.4 676.4L1921.8 679.8L1921.2 681.9L1921.7 679.2L1922.3 680.2L1922.9 678.3L1923.5 679.2L1924.1 673.9L1924.6 675.2L1925.2 679.9L1925.8 672.5L1926.4 676.4L1926.9 678.0L1927.5 680.0L1928.1 671.8L1928.7 675.8L1929.2 671.2L1929.8 679.9L1930.4 681.8L1931.0 677.8L1931.5 671.6L1932.1 670.3L1932.7 672.5L1933.3 681.1L1933.9 677.1L1934.4 673.4L1935.0 678.4L1935.6 676.9L1936.2 679.1L1936.7 672.9L1937.3 678.9L1937.9 669.9L1938.5 676.3L1939.0 667.6L1939.6 666.0L1940.2 668.8L1940.8 669.3L1941.3 673.1L1941.9 664.2L1942.5 664.0L1943.1 667.2L1943.7 667.3L1944.2 667.4L1944.8 670.8L1945.4 660.6L1946.0 669.2L1946.5 662.0L1947.1 667.1L1947.7 660.7L1948.3 662.0L1948.8 658.3L1949.4 663.6L1950.0 663.8L1950.6 656.6L1951.1 660.4L1951.7 667.8L1952.3 655.1L1952.9 661.0L1953.5 664.6L1954.1 661.4L1954.7 662.2L1955.2 665.0L1955.8 655.8L1956.4 655.0L1957.0 662.7L1957.6 656.7L1958.2 656.7L1958.8 661.1L1959.3 660.5L1959.9 651.4L1960.5 651.5L1961.1 653.7L1961.7 650.2L1962.3 656.1L1962.9 653.6L1963.4 650.2L1964.0 655.2L1964.6 654.2L1965.2 648.8L1965.8 657.3L1966.4 658.4L1967.0 652.6L1967.5 647.2L1968.1 657.5L1968.7 646.0L1969.3 648.5L1969.9 653.1L1970.5 657.2L1971.1 647.8L1971.6 646.6L1972.2 652.3L1972.8 656.1L1973.4 646.9L1974.0 652.0L1974.6 644.5L1975.2 655.5L1975.7 652.1L1976.3 642.3L1976.9 653.2L1977.5 653.5L1978.1 645.5L1978.7 647.3L1979.3 647.5L1979.8 647.6L1980.4 642.6L1981.0 645.5L1981.6 650.7L1982.2 645.1L1982.8 652.5L1983.3 644.5L1983.9 640.4L1984.5 645.9L1985.1 639.8L1985.7 639.6L1986.3 650.9L1986.9 650.9L1987.4 639.9L1988.0 644.4L1988.6 650.5L1989.2 642.6L1989.8 642.3L1990.4 650.6L1991.0 646.5L1991.5 646.9L1992.1 646.5L1992.7 638.4L1993.3 649.4L1993.9 639.4L1994.5 641.0L1995.1 647.5L1995.6 642.3L1996.2 642.5L1996.8 648.4L1997.4 639.3L1998.0 645.5L1998.6 635.8L1999.2 642.0L1999.7 645.5L2000.3 636.9L2000.9 646.3L2001.5 634.3L2002.1 641.4L2002.7 632.6L2003.3 632.7L2003.8 643.0L2004.4 636.9L2005.0 635.5L2005.6 643.7L2006.2 631.8L2006.8 641.3L2007.4 640.4L2007.9 635.8L2008.5 629.9L2009.1 641.5L2009.7 633.5L2010.3 632.1L2010.9 640.4L2011.5 633.2L2012.0 633.4L2012.6 637.1L2013.2 633.2L2013.8 639.9L2014.4 631.4L2015.0 627.5L2015.6 636.2L2016.1 634.3L2016.7 629.7L2017.3 630.4L2017.9 626.0L2018.5 630.0L2019.1 638.0L2019.6 629.8L2020.2 630.1L2020.8 630.7L2021.4 635.5L2022.0 628.6L2022.6 630.6L2023.2 636.4L2023.7 634.5L2024.3 637.6L2024.9 638.8L2025.5 637.0L2026.1 638.5L2026.7 633.5L2027.3 636.6L2027.8 637.6L2028.4 637.3L2029.0 631.7L2029.6 634.5L2030.2 632.6L2030.8 629.7L2031.4 636.4L2031.9 637.2L2032.5 641.1L2033.1 640.1L2033.7 633.1L2034.3 640.7L2034.9 638.3L2035.5 632.3L2036.0 642.7L2036.6 632.5L2037.2 639.0L2037.8 634.5L2038.3 642.7L2038.9 638.4L2039.5 642.4L2040.1 634.8L2040.6 644.6L2041.2 640.7L2041.8 639.7L2042.4 639.0L2043.0 642.3L2043.5 635.9L2044.1 644.4L2044.6 642.0L2045.2 633.8L2045.8 641.5L2046.3 640.1L2046.9 634.7L2047.4 640.6L2048.0 639.9L2048.6 645.9L2049.1 638.7L2049.7 644.1L2050.3 640.0L2050.8 643.9L2051.4 640.2L2051.9 632.9L2052.5 632.6L2053.1 636.2L2053.6 635.4L2054.2 628.7L2054.8 633.1L2055.3 636.3L2055.9 628.4L2056.4 623.2L2056.9 629.0L2057.4 630.7L2057.9 640.6"/>
<path d="M320.6 1535.3L1146.0 312.4L1146.5 314.6L1147.0 316.7L1147.5 318.8L1148.0 320.9L1148.5 323.0L1149.0 324.0L1149.5 323.5L1150.0 322.9L1150.5 322.4L1151.0 321.8L1151.5 321.3L1152.0 320.8L1152.5 320.2L1153.0 319.7L1153.5 319.1L1154.0 318.6L1154.5 319.6L1155.0 321.7L1155.5 323.8L1156.0 325.9L1156.5 327.9L1157.0 330.0L1157.5 329.5L1158.0 329.0L1158.5 328.5L1159.0 327.9L1159.5 327.4L1160.0 326.8L1160.5 326.3L1161.0 325.8L1161.5 325.2L1162.0 324.7L1162.5 324.4L1163.0 326.5L1163.5 328.6L1164.0 330.6L1164.5 332.7L1165.0 334.8L1165.5 335.6L1166.0 335.0L1166.5 334.5L1167.0 333.9L1167.5 333.4L1168.0 332.9L1168.5 332.3L1169.0 331.8L1169.5 331.3L1170.0 330.7L1170.5 330.2L1171.0 331.2L1171.5 333.2L1172.0 335.3L1172.5 337.4L1173.0 339.4L1173.5 341.4L1174.0 341.0L1174.5 340.5L1175.0 339.9L1175.5 339.4L1176.0 338.9L1176.5 338.3L1177.0 337.8L1177.5 337.3L1178.0 336.7L1178.5 336.2L1179.0 335.8L1179.5 337.8L1180.0 339.8L1180.5 341.9L1181.0 343.9L1181.5 345.9L1182.0 346.9L1182.5 346.4L1183.0 345.9L1183.5 345.3L1184.0 344.8L1184.5 344.3L1185.0 343.7L1185.5 343.2L1186.0 342.7L1186.5 342.1L1187.0 341.6L1187.5 342.2L1188.0 344.2L1188.5 346.2L1189.0 348.2L1189.5 350.2L1190.0 352.2L1190.5 352.3L1191.0 351.7L1191.5 351.2L1192.0 350.7L1192.5 350.2L1193.0 349.6L1193.5 349.1L1194.0 348.6L1194.5 348.1L1195.0 347.5L1195.5 347.0L1196.0 348.5L1196.5 350.4L1197.0 352.4L1197.5 354.4L1198.0 356.4L1198.5 358.1L1199.0 357.6L1199.5 357.1L1200.0 356.5L1200.5 356.0L1201.0 355.5L1201.5 355.0L1202.0 354.4L1202.5 353.9L1203.0 353.4L1203.5 352.9L1204.0 352.6L1204.5 354.6L1205.0 356.5L1205.5 358.5L1206.0 360.5L1206.5 362.4L1207.0 363.4L1207.5 362.9L1208.0 362.3L1208.5 361.8L1209.0 361.3L1209.5 360.8L1210.0 360.3L1210.5 359.7L1211.0 359.2L1211.5 358.7L1212.0 358.2L1212.5 358.5L1213.0 360.5L1213.5 362.4L1214.0 364.4L1214.5 366.3L1215.0 368.3L1215.5 368.6L1216.0 368.1L1216.5 367.6L1217.0 367.1L1217.5 366.6L1218.0 366.0L1218.5 365.5L1219.0 365.0L1219.5 364.5L1220.0 364.0L1220.5 363.5L1221.0 364.3L1221.5 366.3L1222.0 368.2L1222.5 370.1L1223.0 372.1L1223.5 374.0L1224.0 373.8L1224.5 373.3L1225.0 372.8L1225.5 372.3L1226.0 371.8L1226.5 371.3L1227.0 370.8L1227.5 370.2L1228.0 369.7L1228.5 369.2L1229.0 368.7L1229.5 370.0L1230.0 371.9L1230.5 373.8L1231.0 375.7L1231.5 377.6L1232.0 379.5L1232.5 379.0L1233.0 378.5L1233.5 378.0L1234.0 377.5L1234.5 377.0L1235.0 376.5L1235.5 376.0L1236.0 375.4L1236.5 374.9L1237.0 374.4L1237.5 373.9L1238.0 375.5L1238.5 377.4L1239.0 379.3L1239.5 381.1L1240.0 383.0L1240.5 384.7L1241.0 384.1L1241.5 383.6L1242.0 383.1L1242.5 382.6L1243.0 382.1L1243.5 381.6L1244.0 381.1L1244.5 380.6L1245.0 380.1L1245.5 379.6L1246.0 379.1L1246.5 380.8L1247.0 382.7L1247.5 384.6L1248.0 386.4L1248.5 388.3L1249.0 389.8L1249.5 389.3L1250.0 388.8L1250.5 388.2L1251.0 387.7L1251.5 387.2L1252.0 386.7L1252.5 386.2L1253.0 385.7L1253.5 385.2L1254.0 384.7L1254.5 384.2L1255.0 386.0L1255.5 387.9L1256.0 389.7L1256.5 391.6L1257.0 393.4L1257.5 394.8L1258.0 394.3L1258.5 393.8L1259.0 393.3L1259.5 392.8L1260.0 392.3L1260.5 391.8L1261.0 391.3L1261.5 390.8L1262.0 390.3L1262.5 389.8L1263.0 389.4L1263.5 391.1L1264.0 392.9L1264.5 394.7L1265.0 396.6L1265.5 398.4L1266.0 399.9L1266.5 399.4L1267.0 398.9L1267.5 398.4L1268.0 397.9L1268.5 397.4L1269.0 396.9L1269.5 396.4L1270.0 395.9L1270.5 395.4L1271.0 394.9L1271.5 394.4L1272.0 396.0L1272.5 397.8L1273.0 399.6L1273.5 401.4L1274.0 403.2L1274.5 404.9L1275.0 404.4L1275.5 403.9L1276.0 403.4L1276.5 402.9L1277.0 402.4L1277.5 401.9L1278.0 401.4L1278.5 400.9L1279.0 400.5L1279.5 400.0L1280.0 399.5L1280.5 400.8L1281.0 402.6L1281.5 404.4L1282.0 406.1L1282.5 407.9L1283.0 409.7L1283.5 409.4L1284.0 408.9L1284.5 408.4L1285.0 407.9L1285.5 407.4L1286.0 406.9L1286.5 406.4L1287.0 406.0L1287.5 405.5L1288.0 405.0L1288.5 404.5L1289.0 405.4L1289.5 407.2L1290.0 409.0L1290.5 410.7L1291.0 412.5L1291.5 414.3L1292.0 414.3L1292.5 413.8L1293.0 413.3L1293.5 412.9L1294.0 412.4L1294.5 411.9L1295.0 411.4L1295.5 410.9L1296.0 410.4L1296.5 410.0L1297.0 409.5L1297.5 409.9L1298.0 411.7L1298.5 413.5L1299.0 415.2L1299.5 417.0L1300.0 418.7L1300.5 419.2L1301.0 418.7L1301.5 418.3L1302.0 417.8L1302.5 417.3L1303.0 416.8L1303.5 416.4L1304.0 415.9L1304.5 415.4L1305.0 414.9L1305.5 414.4L1306.0 414.4L1306.5 416.1L1307.0 417.8L1307.5 419.6L1308.0 421.3L1308.5 423.0L1309.0 424.1L1309.5 423.6L1310.0 423.2L1310.5 422.7L1311.0 422.2L1311.5 421.7L1312.0 421.3L1312.5 420.8L1313.0 420.3L1313.5 419.8L1314.0 419.4L1314.5 418.9L1315.0 420.4L1315.5 422.1L1316.0 423.8L1316.5 425.5L1317.0 427.2L1317.5 428.9L1318.0 428.5L1318.5 428.0L1319.0 427.6L1319.5 427.1L1320.0 426.6L1320.5 426.1L1321.0 425.7L1321.5 425.2L1322.0 424.7L1322.5 424.3L1323.0 423.8L1323.5 424.5L1324.0 426.2L1324.5 427.9L1325.0 429.6L1325.5 431.3L1326.0 433.0L1326.5 433.3L1327.0 432.9L1327.5 432.4L1328.0 431.9L1328.5 431.5L1329.0 431.0L1329.5 430.5L1330.0 430.1L1330.5 429.6L1331.0 429.2L1331.5 428.7L1332.0 428.5L1332.5 430.2L1333.0 431.9L1333.5 433.6L1334.0 435.3L1334.5 436.9L1335.0 438.1L1335.5 437.7L1336.0 437.2L1336.5 436.8L1337.0 436.3L1337.5 435.8L1338.0 435.4L1338.5 434.9L1339.0 434.5L1339.5 434.0L1340.0 433.5L1340.5 433.1L1341.0 434.1L1341.5 435.8L1342.0 437.4L1342.5 439.1L1343.0 440.8L1343.5 442.4L1344.0 442.5L1344.5 442.0L1345.0 441.5L1345.5 441.1L1346.0 440.6L1346.5 440.2L1347.0 439.7L1347.5 439.3L1348.0 438.8L1348.5 438.4L1349.0 437.9L1349.5 437.9L1350.0 439.6L1350.5 441.2L1351.0 442.8L1351.5 444.5L1352.0 446.1L1352.5 447.2L1353.0 446.8L1353.5 446.3L1354.0 445.9L1354.5 445.4L1355.0 445.0L1355.5 444.5L1356.0 444.0L1356.5 443.6L1357.0 443.1L1357.5 442.7L1358.0 442.2L1358.5 443.2L1359.0 444.8L1359.5 446.5L1360.0 448.1L1360.5 449.7L1361.0 451.3L1361.5 451.5L1362.0 451.0L1362.5 450.6L1363.0 450.1L1363.5 449.7L1364.0 449.3L1364.5 448.8L1365.0 448.4L1365.5 447.9L1366.0 447.5L1366.5 447.0L1367.0 446.8L1367.5 448.4L1368.0 450.0L1368.5 451.6L1369.0 453.2L1369.5 454.8L1370.0 456.2L1370.5 455.8L1371.0 455.3L1371.5 454.9L1372.0 454.4L1372.5 454.0L1373.0 453.5L1373.5 453.1L1374.0 452.6L1374.5 452.2L1375.0 451.8L1375.5 451.3L1376.0 451.8L1376.5 453.4L1377.0 455.0L1377.5 456.6L1378.0 458.2L1378.5 459.8L1379.0 460.4L1379.5 460.0L1380.0 459.5L1380.5 459.1L1381.0 458.7L1381.5 458.2L1382.0 457.8L1382.5 457.4L1383.0 456.9L1383.5 456.5L1384.0 456.0L1384.5 455.6L1385.0 456.8L1385.5 458.4L1386.0 459.9L1386.5 461.5L1387.0 463.1L1387.5 464.6L1388.0 464.6L1388.5 464.2L1389.0 463.8L1389.5 463.3L1390.0 462.9L1390.5 462.5L1391.0 462.0L1391.5 461.6L1392.0 461.2L1392.5 460.7L1393.0 460.3L1393.5 460.0L1394.0 461.6L1394.5 463.1L1395.0 464.7L1395.5 466.2L1396.0 467.8L1396.5 469.3L1397.0 468.8L1397.5 468.4L1398.0 468.0L1398.5 467.6L1399.0 467.1L1399.5 466.7L1400.0 466.3L1400.5 465.8L1401.0 465.4L1401.5 465.0L1402.0 464.6L1402.5 464.7L1403.0 466.3L1403.5 467.8L1404.0 469.3L1404.5 470.9L1405.0 472.4L1405.5 473.5L1406.0 473.0L1406.5 472.6L1407.0 472.2L1407.5 471.7L1408.0 471.3L1408.5 470.9L1409.0 470.5L1409.5 470.0L1410.0 469.6L1410.5 469.2L1411.0 468.8L1411.5 469.3L1412.0 470.8L1412.5 472.3L1413.0 473.8L1413.5 475.4L1414.0 476.9L1414.5 477.6L1415.0 477.2L1415.5 476.8L1416.0 476.3L1416.5 475.9L1417.0 475.5L1417.5 475.1L1418.0 474.7L1418.5 474.2L1419.0 473.8L1419.5 473.4L1420.0 473.0L1420.5 473.7L1421.0 475.2L1421.5 476.7L1422.0 478.2L1422.5 479.7L1423.0 481.2L1423.5 481.7L1424.0 481.3L1424.5 480.9L1425.0 480.5L1425.5 480.1L1426.0 479.7L1426.5 479.2L1427.0 478.8L1427.5 478.4L1428.0 478.0L1428.5 477.6L1429.0 477.2L1429.5 478.1L1430.0 479.6L1430.5 481.0L1431.0 482.5L1431.5 484.0L1432.0 485.5L1432.5 485.9L1433.0 485.5L1433.5 485.0L1434.0 484.6L1434.5 484.2L1435.0 483.8L1435.5 483.4L1436.0 483.0L1436.5 482.6L1437.0 482.2L1437.5 481.8L1438.0 481.4L1438.5 482.3L1439.0 483.8L1439.5 485.2L1440.0 486.7L1440.5 488.2L1441.0 489.6L1441.5 490.0L1442.0 489.6L1442.5 489.1L1443.0 488.7L1443.5 488.3L1444.0 487.9L1444.5 487.5L1445.0 487.1L1445.5 486.7L1446.0 486.3L1446.5 485.9L1447.0 485.5L1447.5 486.4L1448.0 487.9L1448.5 489.3L1449.0 490.8L1449.5 492.2L1450.0 493.6L1450.5 494.0L1451.0 493.6L1451.5 493.2L1452.0 492.8L1452.5 492.4L1453.0 492.0L1453.5 491.6L1454.0 491.2L1454.5 490.8L1455.0 490.4L1455.5 490.0L1456.0 489.6L1456.5 490.4L1457.0 491.8L1457.5 493.3L1458.0 494.7L1458.5 496.1L1459.0 497.6L1459.5 498.1L1460.0 497.7L1460.5 497.3L1461.0 496.9L1461.5 496.5L1462.0 496.1L1462.5 495.7L1463.0 495.3L1463.5 494.9L1464.0 494.5L1464.5 494.2L1465.0 493.8L1465.5 494.3L1466.0 495.7L1466.5 497.1L1467.0 498.6L1467.5 500.0L1468.0 501.4L1468.5 502.2L1469.0 501.8L1469.5 501.4L1470.0 501.0L1470.5 500.6L1471.0 500.2L1471.5 499.8L1472.0 499.4L1472.5 499.0L1473.0 498.6L1473.5 498.2L1474.0 497.9L1474.5 498.1L1475.0 499.5L1475.5 500.9L1476.0 502.3L1476.5 503.7L1477.0 505.1L1477.5 506.2L1478.0 505.8L1478.5 505.4L1479.0 505.0L1479.5 504.6L1480.0 504.2L1480.5 503.9L1481.0 503.5L1481.5 503.1L1482.0 502.7L1482.5 502.3L1483.0 501.9L1483.5 501.8L1484.0 503.2L1484.5 504.6L1485.0 505.9L1485.5 507.3L1486.0 508.7L1486.5 510.1L1487.0 509.8L1487.5 509.4L1488.0 509.0L1488.5 508.7L1489.0 508.3L1489.5 507.9L1490.0 507.5L1490.5 507.1L1491.0 506.8L1491.5 506.4L1492.0 506.0L1492.5 505.6L1493.0 506.8L1493.5 508.1L1494.0 509.5L1494.5 510.9L1495.0 512.2L1495.5 513.6L1496.0 513.8L1496.5 513.4L1497.0 513.1L1497.5 512.7L1498.0 512.3L1498.5 511.9L1499.0 511.5L1499.5 511.2L1500.0 510.8L1500.5 510.4L1501.0 510.0L1501.5 509.7L1502.0 510.3L1502.5 511.6L1503.0 513.0L1503.5 514.3L1504.0 515.7L1504.5 517.0L1505.0 517.8L1505.5 517.4L1506.0 517.0L1506.5 516.7L1507.0 516.3L1507.5 515.9L1508.0 515.5L1508.5 515.2L1509.0 514.8L1509.5 514.4L1510.0 514.1L1510.5 513.7L1511.0 513.7L1511.5 515.0L1512.0 516.3L1512.5 517.7L1513.0 519.0L1513.5 520.3L1514.0 521.6L1514.5 521.4L1515.0 521.0L1515.5 520.6L1516.0 520.3L1516.5 519.9L1517.0 519.5L1517.5 519.2L1518.0 518.8L1518.5 518.4L1519.0 518.1L1519.5 517.7L1520.0 517.3L1520.5 518.3L1521.0 519.6L1521.5 520.9L1522.0 522.2L1522.5 523.6L1523.0 524.9L1523.5 525.3L1524.0 525.0L1524.5 524.6L1525.0 524.2L1525.5 523.9L1526.0 523.5L1526.5 523.1L1527.0 522.8L1527.5 522.4L1528.0 522.1L1528.5 521.7L1529.0 521.3L1529.5 521.5L1530.0 522.8L1530.5 524.1L1531.0 525.4L1531.5 526.7L1532.0 528.0L1532.5 529.2L1533.0 528.9L1533.5 528.5L1534.0 528.2L1534.5 527.8L1535.0 527.5L1535.5 527.1L1536.0 526.7L1536.5 526.4L1537.0 526.0L1537.5 525.7L1538.0 525.3L1538.5 525.0L1539.0 525.9L1539.5 527.2L1540.0 528.5L1540.5 529.8L1541.0 531.0L1541.5 532.3L1542.0 532.8L1542.5 532.4L1543.0 532.1L1543.5 531.7L1544.0 531.4L1544.5 531.0L1545.0 530.7L1545.5 530.3L1546.0 530.0L1546.5 529.6L1547.0 529.3L1547.5 528.9L1548.0 529.0L1548.5 530.2L1549.0 531.5L1549.5 532.8L1550.0 534.0L1550.5 535.3L1551.0 536.5L1551.5 536.3L1552.0 536.0L1552.5 535.6L1553.0 535.3L1553.5 534.9L1554.0 534.6L1554.5 534.2L1555.0 533.9L1555.5 533.6L1556.0 533.2L1556.5 532.9L1557.0 532.5L1557.5 533.2L1558.0 534.4L1558.5 535.7L1559.0 536.9L1559.5 538.2L1560.0 539.4L1560.5 540.2L1561.0 539.9L1561.5 539.5L1562.0 539.2L1562.5 538.8L1563.0 538.5L1563.5 538.2L1564.0 537.8L1564.5 537.5L1565.0 537.1L1565.5 536.8L1566.0 536.4L1566.5 536.1L1567.0 537.3L1567.5 538.5L1568.0 539.7L1568.5 541.0L1569.0 542.2L1569.5 543.4L1570.0 543.7L1570.5 543.4L1571.0 543.0L1571.5 542.7L1572.0 542.4L1572.5 542.0L1573.0 541.7L1573.5 541.4L1574.0 541.0L1574.5 540.7L1575.0 540.4L1575.5 540.0L1576.0 540.1L1576.5 541.3L1577.0 542.5L1577.5 543.7L1578.0 544.9L1578.5 546.1L1579.0 547.4L1579.5 547.2L1580.0 546.9L1580.5 546.6L1581.0 546.2L1581.5 545.9L1582.0 545.6L1582.5 545.2L1583.0 544.9L1583.5 544.6L1584.0 544.2L1584.5 543.9L1585.0 543.6L1585.5 544.0L1586.0 545.2L1586.5 546.4L1587.0 547.6L1587.5 548.8L1588.0 550.0L1588.5 551.1L1589.0 550.7L1589.5 550.4L1590.0 550.1L1590.5 549.7L1591.0 549.4L1591.5 549.1L1592.0 548.8L1592.5 548.4L1593.0 548.1L1593.5 547.8L1594.0 547.5L1594.5 547.1L1595.0 547.8L1595.5 549.0L1596.0 550.2L1596.5 551.3L1597.0 552.5L1597.5 553.7L1598.0 554.5L1598.5 554.2L1599.0 553.9L1599.5 553.6L1600.0 553.2L1600.5 552.9L1601.0 552.6L1601.5 552.3L1602.0 552.0L1602.5 551.6L1603.0 551.3L1603.5 551.0L1604.0 550.7L1604.5 551.5L1605.0 552.7L1605.5 553.9L1606.0 555.0L1606.5 556.2L1607.0 557.4L1607.5 558.0L1608.0 557.7L1608.5 557.4L1609.0 557.0L1609.5 556.7L1610.0 556.4L1610.5 556.1L1611.0 555.8L1611.5 555.5L1612.0 555.1L1612.5 554.8L1613.0 554.5L1613.5 554.2L1614.0 555.1L1614.5 556.3L1615.0 557.5L1615.5 558.6L1616.0 559.8L1616.5 560.9L1617.0 561.5L1617.5 561.1L1618.0 560.8L1618.5 560.5L1619.0 560.2L1619.5 559.9L1620.0 559.6L1620.5 559.3L1621.0 559.0L1621.5 558.6L1622.0 558.3L1622.5 558.0L1623.0 557.7L1623.5 558.7L1624.0 559.8L1624.5 561.0L1625.0 562.1L1625.5 563.2L1626.0 564.4L1626.5 564.9L1627.0 564.6L1627.5 564.3L1628.0 564.0L1628.5 563.7L1629.0 563.4L1629.5 563.0L1630.0 562.7L1630.5 562.4L1631.0 562.1L1631.5 561.8L1632.0 561.5L1632.5 561.2L1633.0 562.1L1633.5 563.3L1634.0 564.4L1634.5 565.5L1635.0 566.6L1635.5 567.7L1636.0 568.3L1636.5 568.0L1637.0 567.7L1637.5 567.4L1638.0 567.1L1638.5 566.8L1639.0 566.5L1639.5 566.2L1640.0 565.9L1640.5 565.6L1641.0 565.3L1641.5 565.0L1642.0 564.7L1642.5 565.5L1643.0 566.6L1643.5 567.7L1644.0 568.8L1644.5 569.9L1645.0 571.0L1645.5 571.7L1646.0 571.4L1646.5 571.1L1647.0 570.8L1647.5 570.6L1648.0 570.3L1648.5 570.0L1649.0 569.7L1649.5 569.4L1650.0 569.1L1650.5 568.8L1651.0 568.5L1651.5 568.2L1652.0 568.8L1652.5 569.9L1653.0 571.0L1653.5 572.1L1654.0 573.2L1654.5 574.2L1655.0 575.1L1655.5 574.9L1656.0 574.6L1656.5 574.3L1657.0 574.0L1657.5 573.7L1658.0 573.4L1658.5 573.1L1659.0 572.8L1659.5 572.5L1660.0 572.2L1660.5 571.9L1661.0 571.7L1661.5 572.0L1662.0 573.1L1662.5 574.2L1663.0 575.2L1663.5 576.3L1664.0 577.4L1664.5 578.4L1665.0 578.3L1665.5 578.0L1666.0 577.7L1666.5 577.4L1667.0 577.1L1667.5 576.8L1668.0 576.5L1668.5 576.2L1669.0 576.0L1669.5 575.7L1670.0 575.4L1670.5 575.1L1671.0 575.1L1671.5 576.2L1672.0 577.3L1672.5 578.3L1673.0 579.4L1673.5 580.4L1674.0 581.5L1674.5 581.6L1675.0 581.3L1675.5 581.1L1676.0 580.8L1676.5 580.5L1677.0 580.2L1677.5 579.9L1678.0 579.7L1678.5 579.4L1679.0 579.1L1679.5 578.8L1680.0 578.5L1680.5 578.3L1681.0 579.2L1681.5 580.3L1682.0 581.3L1682.5 582.4L1683.0 583.4L1683.5 584.5L1684.0 585.0L1684.5 584.7L1685.0 584.4L1685.5 584.2L1686.0 583.9L1686.5 583.6L1687.0 583.3L1687.5 583.1L1688.0 582.8L1688.5 582.5L1689.0 582.2L1689.5 582.0L1690.0 581.7L1690.5 582.2L1691.0 583.2L1691.5 584.3L1692.0 585.3L1692.5 586.3L1693.0 587.4L1693.5 588.4L1694.0 588.1L1694.5 587.8L1695.0 587.5L1695.5 587.3L1696.0 587.0L1696.5 586.7L1697.0 586.5L1697.5 586.2L1698.0 585.9L1698.5 585.6L1699.0 585.4L1699.5 585.1L1700.0 585.1L1700.5 586.1L1701.0 587.1L1701.5 588.2L1702.0 589.2L1702.5 590.2L1703.0 591.2L1703.5 591.4L1704.0 591.2L1704.5 590.9L1705.0 590.6L1705.5 590.4L1706.0 590.1L1706.5 589.8L1707.0 589.6L1707.5 589.3L1708.0 589.0L1708.5 588.8L1709.0 588.5L1709.5 588.2L1710.0 588.9L1710.5 589.9L1711.0 590.9L1711.5 591.9L1712.0 592.9L1712.5 593.9L1713.0 594.8L1713.5 594.5L1714.0 594.2L1714.5 594.0L1715.0 593.7L1715.5 593.4L1716.0 593.2L1716.5 592.9L1717.0 592.7L1717.5 592.4L1718.0 592.1L1718.5 591.9L1719.0 591.6L1719.5 591.7L1720.0 592.7L1720.5 593.7L1721.0 594.7L1721.5 595.6L1722.0 596.6L1722.5 597.6L1723.0 597.8L1723.5 597.5L1724.0 597.3L1724.5 597.0L1725.0 596.8L1725.5 596.5L1726.0 596.3L1726.5 596.0L1727.0 595.8L1727.5 595.5L1728.0 595.3L1728.5 595.0L1729.0 594.7L1729.5 595.4L1730.0 596.3L1730.5 597.3L1731.0 598.3L1731.5 599.2L1732.0 600.2L1732.5 601.1L1733.0 600.9L1733.5 600.6L1734.0 600.3L1734.5 600.1L1735.0 599.8L1735.5 599.6L1736.0 599.3L1736.5 599.1L1737.0 598.8L1737.5 598.6L1738.0 598.4L1738.5 598.1L1739.0 598.0L1739.5 599.0L1740.0 599.9L1740.5 600.9L1741.0 601.8L1741.5 602.8L1742.0 603.7L1742.5 604.1L1743.0 603.9L1743.5 603.6L1744.0 603.4L1744.5 603.2L1745.0 602.9L1745.5 602.7L1746.0 602.4L1746.5 602.2L1747.0 601.9L1747.5 601.7L1748.0 601.4L1748.5 601.2L1749.0 601.5L1749.5 602.4L1750.0 603.4L1750.5 604.3L1751.0 605.3L1751.5 606.2L1752.0 607.1" fill="none" stroke="#000" stroke-width="8" stroke-linejoin="round" stroke-linecap="butt"/>
</g>
<g id="axes">
<path class="ax" d="M320.6 1537.9V17.6M320.0 17.6H2203.7M2203.7 15.0V1535.3M2204.3 1535.3H318.0"/>
<path class="ax" d="M320.6 1535.3v-29.5M508.9 1535.3v-14.0M697.2 1535.3v-29.5M885.5 1535.3v-14.0M1073.8 1535.3v-29.5M1262.2 1535.3v-14.0M1450.5 1535.3v-29.5M1638.8 1535.3v-14.0M1827.1 1535.3v-29.5M2015.4 1535.3v-14.0M2203.7 1535.3v-29.5M320.6 1535.3h29.5M320.6 1397.3h14.0M320.6 1259.4h29.5M320.6 1121.4h14.0M320.6 983.4h29.5M320.6 845.4h14.0M320.6 707.5h29.5M320.6 569.5h14.0M320.6 431.5h29.5M320.6 293.5h14.0M320.6 155.6h29.5M320.6 17.6h14.0"/>
<text class="tick" text-anchor="middle" transform="translate(320.6 1618.8) scale(1 1.047)">0</text>
<text class="tick" text-anchor="middle" transform="translate(697.2 1618.8) scale(1 1.047)">2</text>
<text class="tick" text-anchor="middle" transform="translate(1073.8 1618.8) scale(1 1.047)">4</text>
<text class="tick" text-anchor="middle" transform="translate(1450.5 1618.8) scale(1 1.047)">6</text>
<text class="tick" text-anchor="middle" transform="translate(1827.1 1618.8) scale(1 1.047)">8</text>
<text class="tick" text-anchor="middle" transform="translate(2203.7 1618.8) scale(1 1.047)">10</text>
<text class="tick" text-anchor="end" transform="translate(288.3 1555.3) scale(1 1.047)">0</text>
<text class="tick" text-anchor="end" transform="translate(288.3 1279.4) scale(1 1.047)">20</text>
<text class="tick" text-anchor="end" transform="translate(288.3 1003.4) scale(1 1.047)">40</text>
<text class="tick" text-anchor="end" transform="translate(288.3 727.5) scale(1 1.047)">60</text>
<text class="tick" text-anchor="end" transform="translate(288.3 451.5) scale(1 1.047)">80</text>
<text class="tick" text-anchor="end" transform="translate(288.3 175.6) scale(1 1.047)">100</text>
<text class="serif" text-anchor="middle" x="1261.5" y="1738.5">Displacement (mm)</text>
<text class="serif" text-anchor="middle" transform="translate(92.8 732.5) rotate(-90)">Load (N)</text>
</g>
<g id="legend">
<rect x="1706" y="866.4" width="445" height="594.6" fill="#ffffff" stroke="#000" stroke-width="1.9"/>
<line x1="1716.8" x2="1892.6" y1="921.2" y2="921.2" stroke="#7f00ff" stroke-width="3.5"/>
<text class="serif" x="1911.3" y="947.4">DCB-1</text>
<line x1="1716.8" x2="1892.6" y1="1018.4" y2="1018.4" stroke="#ff0000" stroke-width="3.5"/>
<text class="serif" x="1911.3" y="1044.6">DCB-2</text>
<line x1="1716.8" x2="1892.6" y1="1115.5" y2="1115.5" stroke="#0000ff" stroke-width="3.5"/>
<text class="serif" x="1911.3" y="1141.7">DCB-3</text>
<line x1="1716.8" x2="1892.6" y1="1212.4" y2="1212.4" stroke="#ff00ff" stroke-width="3.5"/>
<text class="serif" x="1911.3" y="1238.6">DCB-4</text>
<line x1="1716.8" x2="1892.6" y1="1309.4" y2="1309.4" stroke="#008000" stroke-width="3.5"/>
<text class="serif" x="1911.3" y="1335.6">DCB-5</text>
<line x1="1716.8" x2="1892.6" y1="1406.2" y2="1406.2" stroke="#000000" stroke-width="8"/>
<text class="serif" x="1911.3" y="1432.4">PD</text>
</g>
</svg>
</body>
</html>
